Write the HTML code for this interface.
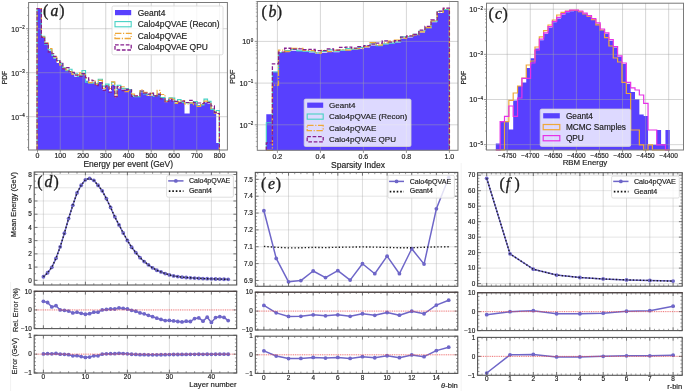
<!DOCTYPE html>
<html><head><meta charset="utf-8"><title>Calo4pQVAE figure</title>
<style>
html,body{margin:0;padding:0;background:#fff;}
body{width:685px;height:391px;overflow:hidden;}
svg{display:block;font-family:"Liberation Sans", sans-serif;will-change:transform;}
</style></head>
<body>
<svg width="685" height="391" viewBox="0 0 685 391">
<rect x="0" y="0" width="685" height="391" fill="#ffffff"/>
<line x1="10.6" y1="282" x2="10.6" y2="391" stroke="#eeeeee" stroke-width="0.8"/>
<line x1="461.2" y1="163" x2="461.2" y2="391" stroke="#f0f0f0" stroke-width="0.8"/>
<polygon points="37.1,150 37.1,8.5 41.4,8.5 41.4,37.1 44.7,37.1 44.7,43 48.3,43 48.3,51 51.9,51 51.9,56 53.6,56 53.6,58.4 56.7,58.4 56.7,63 59.8,63 59.8,64.5 62.8,64.5 62.8,68.3 65.9,68.3 65.9,70.2 69,70.2 69,72.2 72,72.2 72,74.5 74.3,74.5 74.3,76.8 77.4,76.8 77.4,76 79.7,76 79.7,75.2 82,75.2 82,73.7 85.5,73.7 85.5,80.8 88.6,80.8 88.6,81.9 92.2,81.9 92.2,83.2 95.2,83.2 95.2,84.2 98.3,84.2 98.3,81.9 102.4,81.9 102.4,89.5 105.5,89.5 105.5,85 109,85 109,91.6 111.6,91.6 111.6,84.8 114.7,84.8 114.7,95.7 117.2,95.7 117.2,88.5 120.8,88.5 120.8,89.5 124.9,89.5 124.9,90 128.5,90 128.5,89 131.5,89 131.5,96.7 134.5,96.7 134.5,96.9 140,96.9 140,92.3 143.5,92.3 143.5,94 147,94 147,95.7 150.3,95.7 150.3,95.7 153.5,95.7 153.5,95.1 157.1,95.1 157.1,93.4 160.4,93.4 160.4,96.9 165,96.9 165,100.9 169,100.9 169,99.7 172,99.7 172,100.5 174.7,100.5 174.7,103.8 177.6,103.8 177.6,102.6 181,102.6 181,102 184.5,102 184.5,113.5 189.7,113.5 189.7,102.6 193.5,102.6 193.5,103.2 197.2,103.2 197.2,104.9 200.6,104.9 200.6,104.3 204,104.3 204,102.6 207.5,102.6 207.5,103.8 211,103.8 211,108.4 214.4,108.4 214.4,113 216.2,113 216.2,143 219.4,143 219.4,150" fill="#5840fe"/>
<line x1="37.5" y1="2.5" x2="37.5" y2="150" stroke="#a4a4a4" stroke-width="0.9" stroke-opacity="0.5"/>
<line x1="60.25" y1="2.5" x2="60.25" y2="150" stroke="#a4a4a4" stroke-width="0.9" stroke-opacity="0.5"/>
<line x1="83" y1="2.5" x2="83" y2="150" stroke="#a4a4a4" stroke-width="0.9" stroke-opacity="0.5"/>
<line x1="105.75" y1="2.5" x2="105.75" y2="150" stroke="#a4a4a4" stroke-width="0.9" stroke-opacity="0.5"/>
<line x1="128.5" y1="2.5" x2="128.5" y2="150" stroke="#a4a4a4" stroke-width="0.9" stroke-opacity="0.5"/>
<line x1="151.25" y1="2.5" x2="151.25" y2="150" stroke="#a4a4a4" stroke-width="0.9" stroke-opacity="0.5"/>
<line x1="174" y1="2.5" x2="174" y2="150" stroke="#a4a4a4" stroke-width="0.9" stroke-opacity="0.5"/>
<line x1="196.75" y1="2.5" x2="196.75" y2="150" stroke="#a4a4a4" stroke-width="0.9" stroke-opacity="0.5"/>
<line x1="219.5" y1="2.5" x2="219.5" y2="150" stroke="#a4a4a4" stroke-width="0.9" stroke-opacity="0.5"/>
<line x1="28.6" y1="28.7" x2="227.4" y2="28.7" stroke="#a4a4a4" stroke-width="0.9" stroke-opacity="0.5"/>
<line x1="28.6" y1="72.7" x2="227.4" y2="72.7" stroke="#a4a4a4" stroke-width="0.9" stroke-opacity="0.5"/>
<line x1="28.6" y1="116.7" x2="227.4" y2="116.7" stroke="#a4a4a4" stroke-width="0.9" stroke-opacity="0.5"/>
<polyline points="37.1,150 37.1,8.5 41.4,8.5 41.4,36.39 44.7,36.39 44.7,44.04 48.3,44.04 48.3,49.84 51.9,49.84 51.9,55.04 53.6,55.04 53.6,57.82 56.7,57.82 56.7,60.49 59.8,60.49 59.8,63.56 62.8,63.56 62.8,67.92 65.9,67.92 65.9,70.61 69,70.61 69,69.25 72,69.25 72,72.56 74.3,72.56 74.3,73.84 77.4,73.84 77.4,76.49 79.7,76.49 79.7,75.13 82,75.13 82,70.5 85.5,70.5 85.5,82.11 88.6,82.11 88.6,83.13 92.2,83.13 92.2,82.94 95.2,82.94 95.2,83.75 98.3,83.75 98.3,79.26 102.4,79.26 102.4,86.17 105.5,86.17 105.5,84.14 109,84.14 109,88.49 111.6,88.49 111.6,82.31 114.7,82.31 114.7,93.46 117.2,93.46 117.2,85.24 120.8,85.24 120.8,88.33 124.9,88.33 124.9,88.71 128.5,88.71 128.5,89.64 131.5,89.64 131.5,95.79 134.5,95.79 134.5,96.57 140,96.57 140,91.3 143.5,91.3 143.5,93.78 147,93.78 147,94.5 150.3,94.5 150.3,93.64 153.5,93.64 153.5,96.49 157.1,96.49 157.1,94.78 160.4,94.78 160.4,97.53 165,97.53 165,100.9 169,100.9 169,97.81 172,97.81 172,98.2 174.7,98.2 174.7,101.79 177.6,101.79 177.6,99.54 181,99.54 181,102.28 184.5,102.28 184.5,103 189.7,103 189.7,103.26 193.5,103.26 193.5,101.66 197.2,101.66 197.2,106.1 200.6,106.1 200.6,104.97 204,104.97 204,99.2 207.5,99.2 207.5,101.41 211,101.41 211,109.37 214.4,109.37 214.4,111.86 216.2,111.86 216.2,110.5 219.4,110.5 219.4,150" fill="none" stroke="#48d2c4" stroke-width="1.2" stroke-linejoin="miter"/>
<polyline points="37.1,150 37.1,8.5 41.4,8.5 41.4,37.06 44.7,37.06 44.7,43 48.3,43 48.3,48.48 51.9,48.48 51.9,52.85 53.6,52.85 53.6,57 56.7,57 56.7,61.12 59.8,61.12 59.8,65.19 62.8,65.19 62.8,68.41 65.9,68.41 65.9,69.89 69,69.89 69,71.68 72,71.68 72,74.47 74.3,74.47 74.3,74.3 77.4,74.3 77.4,74.91 79.7,74.91 79.7,72.78 82,72.78 82,74.85 85.5,74.85 85.5,77.88 88.6,77.88 88.6,82.63 92.2,82.63 92.2,80.36 95.2,80.36 95.2,84.3 98.3,84.3 98.3,80.32 102.4,80.32 102.4,88.24 105.5,88.24 105.5,85.84 109,85.84 109,88.49 111.6,88.49 111.6,81.89 114.7,81.89 114.7,96.89 117.2,96.89 117.2,87.74 120.8,87.74 120.8,86.74 124.9,86.74 124.9,91.54 128.5,91.54 128.5,90.34 131.5,90.34 131.5,94.04 134.5,94.04 134.5,95.73 140,95.73 140,89.75 143.5,89.75 143.5,92.3 147,92.3 147,95.48 150.3,95.48 150.3,93.28 153.5,93.28 153.5,95.24 157.1,95.24 157.1,90.45 160.4,90.45 160.4,94.52 165,94.52 165,101.62 169,101.62 169,98.42 172,98.42 172,99.31 174.7,99.31 174.7,103.46 177.6,103.46 177.6,101.69 181,101.69 181,100.65 184.5,100.65 184.5,104 189.7,104 189.7,102.89 193.5,102.89 193.5,104.64 197.2,104.64 197.2,106.39 200.6,106.39 200.6,104.29 204,104.29 204,101.11 207.5,101.11 207.5,102.34 211,102.34 211,108.51 214.4,108.51 214.4,113.03 216.2,113.03 216.2,112 219.4,112 219.4,150" fill="none" stroke="#eea83a" stroke-width="1.2" stroke-linejoin="miter" stroke-dasharray="6.4,1.6,1.2,1.6"/>
<polyline points="37.1,150 37.1,8.5 41.4,8.5 41.4,37.46 44.7,37.46 44.7,43.36 48.3,43.36 48.3,52.22 51.9,52.22 51.9,53.77 53.6,53.77 53.6,56.4 56.7,56.4 56.7,60.57 59.8,60.57 59.8,62.47 62.8,62.47 62.8,68.92 65.9,68.92 65.9,67.68 69,67.68 69,71.76 72,71.76 72,72.41 74.3,72.41 74.3,75.13 77.4,75.13 77.4,75.04 79.7,75.04 79.7,76.36 82,76.36 82,73.66 85.5,73.66 85.5,77.68 88.6,77.68 88.6,80.13 92.2,80.13 92.2,80.76 95.2,80.76 95.2,85.53 98.3,85.53 98.3,82.91 102.4,82.91 102.4,90.49 105.5,90.49 105.5,86.1 109,86.1 109,92.27 111.6,92.27 111.6,86.54 114.7,86.54 114.7,96.63 117.2,96.63 117.2,86.63 120.8,86.63 120.8,90.72 124.9,90.72 124.9,89.33 128.5,89.33 128.5,89.73 131.5,89.73 131.5,96.43 134.5,96.43 134.5,95.93 140,95.93 140,90.99 143.5,90.99 143.5,93.04 147,93.04 147,94.13 150.3,94.13 150.3,93.11 153.5,93.11 153.5,96.16 157.1,96.16 157.1,94.35 160.4,94.35 160.4,98.83 165,98.83 165,101.29 169,101.29 169,99.38 172,99.38 172,101.19 174.7,101.19 174.7,101.3 177.6,101.3 177.6,102.92 181,102.92 181,101.11 184.5,101.11 184.5,102.5 189.7,102.5 189.7,100.45 193.5,100.45 193.5,102.72 197.2,102.72 197.2,103.02 200.6,103.02 200.6,103.49 204,103.49 204,102.55 207.5,102.55 207.5,102.66 211,102.66 211,105.88 214.4,105.88 214.4,112.35 216.2,112.35 216.2,113.5 219.4,113.5 219.4,150" fill="none" stroke="#861f8e" stroke-width="1.2" stroke-linejoin="miter" stroke-dasharray="3.7,1.7"/>
<polygon points="266.3,150.3 266.3,114.2 272.4,114.2 272.4,71.8 278.51,71.8 278.51,53 284.61,53 284.61,51.5 290.71,51.5 290.71,50.8 296.81,50.8 296.81,51.1 302.92,51.1 302.92,51.5 309.02,51.5 309.02,52.5 315.12,52.5 315.12,53.5 321.23,53.5 321.23,52.7 327.33,52.7 327.33,51.7 333.43,51.7 333.43,52.3 339.54,52.3 339.54,50.8 345.64,50.8 345.64,50.3 351.74,50.3 351.74,49.5 357.85,49.5 357.85,48.8 363.95,48.8 363.95,47.5 370.05,47.5 370.05,45.5 376.15,45.5 376.15,45.5 382.26,45.5 382.26,44.2 388.36,44.2 388.36,43.2 394.46,43.2 394.46,42.5 400.57,42.5 400.57,38.6 406.67,38.6 406.67,37.6 412.77,37.6 412.77,35 418.88,35 418.88,32.5 424.98,32.5 424.98,27.6 431.08,27.6 431.08,22.2 437.18,22.2 437.18,13 443.29,13 443.29,9.7 449.39,9.7 449.39,150.3" fill="#5840fe"/>
<line x1="277.4" y1="1.5" x2="277.4" y2="150.3" stroke="#a4a4a4" stroke-width="0.9" stroke-opacity="0.5"/>
<line x1="320.4" y1="1.5" x2="320.4" y2="150.3" stroke="#a4a4a4" stroke-width="0.9" stroke-opacity="0.5"/>
<line x1="363.4" y1="1.5" x2="363.4" y2="150.3" stroke="#a4a4a4" stroke-width="0.9" stroke-opacity="0.5"/>
<line x1="406.4" y1="1.5" x2="406.4" y2="150.3" stroke="#a4a4a4" stroke-width="0.9" stroke-opacity="0.5"/>
<line x1="449.4" y1="1.5" x2="449.4" y2="150.3" stroke="#a4a4a4" stroke-width="0.9" stroke-opacity="0.5"/>
<line x1="257.3" y1="41.4" x2="458" y2="41.4" stroke="#a4a4a4" stroke-width="0.9" stroke-opacity="0.5"/>
<line x1="257.3" y1="83.1" x2="458" y2="83.1" stroke="#a4a4a4" stroke-width="0.9" stroke-opacity="0.5"/>
<line x1="257.3" y1="124.8" x2="458" y2="124.8" stroke="#a4a4a4" stroke-width="0.9" stroke-opacity="0.5"/>
<polyline points="266.3,150.3 266.3,122.7 272.4,122.7 272.4,72 278.51,72 278.51,52.47 284.61,52.47 284.61,50.66 290.71,50.66 290.71,49.43 296.81,49.43 296.81,50.89 302.92,50.89 302.92,51.32 309.02,51.32 309.02,51.72 315.12,51.72 315.12,52.71 321.23,52.71 321.23,51.37 327.33,51.37 327.33,49.91 333.43,49.91 333.43,51.24 339.54,51.24 339.54,50.17 345.64,50.17 345.64,48.64 351.74,48.64 351.74,49.29 357.85,49.29 357.85,47.46 363.95,47.46 363.95,46.17 370.05,46.17 370.05,43.78 376.15,43.78 376.15,45.7 382.26,45.7 382.26,43.88 388.36,43.88 388.36,43.15 394.46,43.15 394.46,41.93 400.57,41.93 400.57,36.87 406.67,36.87 406.67,36.46 412.77,36.46 412.77,34.2 418.88,34.2 418.88,30.93 424.98,30.93 424.98,27.7 431.08,27.7 431.08,21.14 437.18,21.14 437.18,11.51 443.29,11.51 443.29,9.54 449.39,9.54 449.39,150.3" fill="none" stroke="#48d2c4" stroke-width="1.1" stroke-linejoin="miter"/>
<polyline points="266.3,150.3 266.3,150.3 272.4,150.3 272.4,85.2 278.51,85.2 278.51,50.07 284.61,50.07 284.61,51.5 290.71,51.5 290.71,48.35 296.81,48.35 296.81,48.46 302.92,48.46 302.92,50.45 309.02,50.45 309.02,50.54 315.12,50.54 315.12,53.17 321.23,53.17 321.23,50.4 327.33,50.4 327.33,51.58 333.43,51.58 333.43,50.26 339.54,50.26 339.54,49.6 345.64,49.6 345.64,50.1 351.74,50.1 351.74,48.56 357.85,48.56 357.85,48.57 363.95,48.57 363.95,46.62 370.05,46.62 370.05,42.65 376.15,42.65 376.15,45.14 382.26,45.14 382.26,42.97 388.36,42.97 388.36,41.13 394.46,41.13 394.46,40.07 400.57,40.07 400.57,38.15 406.67,38.15 406.67,36.35 412.77,36.35 412.77,34.81 418.88,34.81 418.88,31.82 424.98,31.82 424.98,27.48 431.08,27.48 431.08,20.9 437.18,20.9 437.18,12.1 443.29,12.1 443.29,8.54 449.39,8.54 449.39,150.3" fill="none" stroke="#eea83a" stroke-width="1.3" stroke-linejoin="miter" stroke-dasharray="6.4,1.6,1.2,1.6"/>
<polyline points="266.3,150.3 266.3,142.9 272.4,142.9 272.4,63.8 278.51,63.8 278.51,52.18 284.61,52.18 284.61,48.25 290.71,48.25 290.71,49.08 296.81,49.08 296.81,48.87 302.92,48.87 302.92,49.59 309.02,49.59 309.02,49.39 315.12,49.39 315.12,50.58 321.23,50.58 321.23,50.53 327.33,50.53 327.33,48.86 333.43,48.86 333.43,50.17 339.54,50.17 339.54,47.37 345.64,47.37 345.64,47.06 351.74,47.06 351.74,48.13 357.85,48.13 357.85,46.56 363.95,46.56 363.95,45.54 370.05,45.54 370.05,44.2 376.15,44.2 376.15,43.08 382.26,43.08 382.26,40.87 388.36,40.87 388.36,42.05 394.46,42.05 394.46,40.77 400.57,40.77 400.57,37.07 406.67,37.07 406.67,35.96 412.77,35.96 412.77,34.41 418.88,34.41 418.88,30.09 424.98,30.09 424.98,26.38 431.08,26.38 431.08,19.81 437.18,19.81 437.18,11.22 443.29,11.22 443.29,8.18 449.39,8.18 449.39,150.3" fill="none" stroke="#861f8e" stroke-width="1.3" stroke-linejoin="miter" stroke-dasharray="3.7,1.7"/>
<polygon points="495.8,150 495.8,143.5 500.15,143.5 500.15,121.5 504.5,121.5 504.5,121.5 508.85,121.5 508.85,129.5 513.2,129.5 513.2,100.4 517.55,100.4 517.55,86 521.9,86 521.9,82.5 526.25,82.5 526.25,68 530.6,68 530.6,58.3 534.95,58.3 534.95,48.4 539.3,48.4 539.3,40.2 543.65,40.2 543.65,33.8 548,33.8 548,27.6 552.35,27.6 552.35,22.3 556.7,22.3 556.7,18.4 561.05,18.4 561.05,14.6 565.4,14.6 565.4,12.3 569.75,12.3 569.75,11.2 574.1,11.2 574.1,11.1 578.45,11.1 578.45,12 582.8,12 582.8,14.1 587.15,14.1 587.15,16.6 591.5,16.6 591.5,19.7 595.85,19.7 595.85,23.8 600.2,23.8 600.2,30 604.55,30 604.55,33.8 608.9,33.8 608.9,40.7 613.25,40.7 613.25,47.6 617.6,47.6 617.6,56.8 621.95,56.8 621.95,64 626.3,64 626.3,83.7 630.65,83.7 630.65,92 635,92 635,99.2 639.35,99.2 639.35,114.6 643.7,114.6 643.7,116 648.05,116 648.05,144.8 652.4,144.8 652.4,144.8 656.75,144.8 656.75,130 661.1,130 661.1,144 665.45,144 665.45,130 669.8,130 669.8,150" fill="#5840fe"/>
<line x1="507.19" y1="3.2" x2="507.19" y2="150" stroke="#a4a4a4" stroke-width="0.9" stroke-opacity="0.5"/>
<line x1="530.26" y1="3.2" x2="530.26" y2="150" stroke="#a4a4a4" stroke-width="0.9" stroke-opacity="0.5"/>
<line x1="553.33" y1="3.2" x2="553.33" y2="150" stroke="#a4a4a4" stroke-width="0.9" stroke-opacity="0.5"/>
<line x1="576.4" y1="3.2" x2="576.4" y2="150" stroke="#a4a4a4" stroke-width="0.9" stroke-opacity="0.5"/>
<line x1="599.47" y1="3.2" x2="599.47" y2="150" stroke="#a4a4a4" stroke-width="0.9" stroke-opacity="0.5"/>
<line x1="622.54" y1="3.2" x2="622.54" y2="150" stroke="#a4a4a4" stroke-width="0.9" stroke-opacity="0.5"/>
<line x1="645.61" y1="3.2" x2="645.61" y2="150" stroke="#a4a4a4" stroke-width="0.9" stroke-opacity="0.5"/>
<line x1="668.68" y1="3.2" x2="668.68" y2="150" stroke="#a4a4a4" stroke-width="0.9" stroke-opacity="0.5"/>
<line x1="486.5" y1="9.2" x2="683.5" y2="9.2" stroke="#a4a4a4" stroke-width="0.9" stroke-opacity="0.5"/>
<line x1="486.5" y1="54.35" x2="683.5" y2="54.35" stroke="#a4a4a4" stroke-width="0.9" stroke-opacity="0.5"/>
<line x1="486.5" y1="99.5" x2="683.5" y2="99.5" stroke="#a4a4a4" stroke-width="0.9" stroke-opacity="0.5"/>
<line x1="486.5" y1="144.65" x2="683.5" y2="144.65" stroke="#a4a4a4" stroke-width="0.9" stroke-opacity="0.5"/>
<polyline points="495.8,150 495.8,150 500.15,150 500.15,150 504.5,150 504.5,121.7 508.85,121.7 508.85,100.3 513.2,100.3 513.2,93 517.55,93 517.55,86 521.9,86 521.9,78 526.25,78 526.25,65 530.6,65 530.6,61 534.95,61 534.95,47 539.3,47 539.3,36.9 543.65,36.9 543.65,30.7 548,30.7 548,25 552.35,25 552.35,20 556.7,20 556.7,15 561.05,15 561.05,12.3 565.4,12.3 565.4,11 569.75,11 569.75,10.4 574.1,10.4 574.1,10.4 578.45,10.4 578.45,11.6 582.8,11.6 582.8,14 587.15,14 587.15,16.4 591.5,16.4 591.5,19.6 595.85,19.6 595.85,24.8 600.2,24.8 600.2,30 604.55,30 604.55,37.6 608.9,37.6 608.9,46 613.25,46 613.25,58 617.6,58 617.6,62 621.95,62 621.95,82.3 626.3,82.3 626.3,93.5 630.65,93.5 630.65,130 635,130 635,130 639.35,130 639.35,144.8 643.7,144.8 643.7,150 648.05,150 648.05,144.8 652.4,144.8 652.4,150 656.75,150 656.75,150 661.1,150 661.1,150 665.45,150 665.45,150 669.8,150 669.8,150" fill="none" stroke="#eea83a" stroke-width="1.2" stroke-linejoin="miter"/>
<polyline points="495.8,150 495.8,150 500.15,150 500.15,121.7 504.5,121.7 504.5,116.4 508.85,116.4 508.85,106 513.2,106 513.2,116.4 517.55,116.4 517.55,98 521.9,98 521.9,78.4 526.25,78.4 526.25,78.4 530.6,78.4 530.6,63 534.95,63 534.95,50 539.3,50 539.3,39.2 543.65,39.2 543.65,32.8 548,32.8 548,26.6 552.35,26.6 552.35,21.3 556.7,21.3 556.7,17.4 561.05,17.4 561.05,13.6 565.4,13.6 565.4,11.3 569.75,11.3 569.75,10.2 574.1,10.2 574.1,10.1 578.45,10.1 578.45,11 582.8,11 582.8,13.1 587.15,13.1 587.15,15.6 591.5,15.6 591.5,18.7 595.85,18.7 595.85,22.8 600.2,22.8 600.2,29 604.55,29 604.55,32.8 608.9,32.8 608.9,39.7 613.25,39.7 613.25,46.6 617.6,46.6 617.6,55.8 621.95,55.8 621.95,63 626.3,63 626.3,82.3 630.65,82.3 630.65,87.9 635,87.9 635,90 639.35,90 639.35,95 643.7,95 643.7,103.4 648.05,103.4 648.05,130 652.4,130 652.4,130 656.75,130 656.75,144.8 661.1,144.8 661.1,144.8 665.45,144.8 665.45,150 669.8,150 669.8,150" fill="none" stroke="#e632e6" stroke-width="1.2" stroke-linejoin="miter"/>
<rect x="28.6" y="2.5" width="198.8" height="147.5" fill="none" stroke="#7a7a7a" stroke-width="1.0"/>
<rect x="257.3" y="1.5" width="200.7" height="148.8" fill="none" stroke="#7a7a7a" stroke-width="1.0"/>
<rect x="486.5" y="3.2" width="197" height="146.8" fill="none" stroke="#7a7a7a" stroke-width="1.0"/>
<line x1="37.5" y1="150" x2="37.5" y2="152.6" stroke="#7a7a7a" stroke-width="0.8"/>
<text x="37.5" y="158.05" font-size="7" text-anchor="middle" fill="#1e1e1e" stroke="#1e1e1e" stroke-width="0.18">0</text>
<line x1="60.25" y1="150" x2="60.25" y2="152.6" stroke="#7a7a7a" stroke-width="0.8"/>
<text x="60.25" y="158.05" font-size="7" text-anchor="middle" fill="#1e1e1e" stroke="#1e1e1e" stroke-width="0.18">100</text>
<line x1="83" y1="150" x2="83" y2="152.6" stroke="#7a7a7a" stroke-width="0.8"/>
<text x="83" y="158.05" font-size="7" text-anchor="middle" fill="#1e1e1e" stroke="#1e1e1e" stroke-width="0.18">200</text>
<line x1="105.75" y1="150" x2="105.75" y2="152.6" stroke="#7a7a7a" stroke-width="0.8"/>
<text x="105.75" y="158.05" font-size="7" text-anchor="middle" fill="#1e1e1e" stroke="#1e1e1e" stroke-width="0.18">300</text>
<line x1="128.5" y1="150" x2="128.5" y2="152.6" stroke="#7a7a7a" stroke-width="0.8"/>
<text x="128.5" y="158.05" font-size="7" text-anchor="middle" fill="#1e1e1e" stroke="#1e1e1e" stroke-width="0.18">400</text>
<line x1="151.25" y1="150" x2="151.25" y2="152.6" stroke="#7a7a7a" stroke-width="0.8"/>
<text x="151.25" y="158.05" font-size="7" text-anchor="middle" fill="#1e1e1e" stroke="#1e1e1e" stroke-width="0.18">500</text>
<line x1="174" y1="150" x2="174" y2="152.6" stroke="#7a7a7a" stroke-width="0.8"/>
<text x="174" y="158.05" font-size="7" text-anchor="middle" fill="#1e1e1e" stroke="#1e1e1e" stroke-width="0.18">600</text>
<line x1="196.75" y1="150" x2="196.75" y2="152.6" stroke="#7a7a7a" stroke-width="0.8"/>
<text x="196.75" y="158.05" font-size="7" text-anchor="middle" fill="#1e1e1e" stroke="#1e1e1e" stroke-width="0.18">700</text>
<line x1="219.5" y1="150" x2="219.5" y2="152.6" stroke="#7a7a7a" stroke-width="0.8"/>
<text x="219.5" y="158.05" font-size="7" text-anchor="middle" fill="#1e1e1e" stroke="#1e1e1e" stroke-width="0.18">800</text>
<line x1="26" y1="28.7" x2="28.6" y2="28.7" stroke="#7a7a7a" stroke-width="0.8"/>
<text x="24.7" y="29.17" font-size="4.5" text-anchor="end" fill="#1e1e1e" stroke="#1e1e1e" stroke-width="0.18">−2</text>
<text x="18.97" y="31.62" font-size="7.2" text-anchor="end" fill="#1e1e1e" stroke="#1e1e1e" stroke-width="0.18" textLength="7.6" lengthAdjust="spacingAndGlyphs">10</text>
<line x1="26" y1="72.7" x2="28.6" y2="72.7" stroke="#7a7a7a" stroke-width="0.8"/>
<text x="24.7" y="73.18" font-size="4.5" text-anchor="end" fill="#1e1e1e" stroke="#1e1e1e" stroke-width="0.18">−3</text>
<text x="18.97" y="75.62" font-size="7.2" text-anchor="end" fill="#1e1e1e" stroke="#1e1e1e" stroke-width="0.18" textLength="7.6" lengthAdjust="spacingAndGlyphs">10</text>
<line x1="26" y1="116.7" x2="28.6" y2="116.7" stroke="#7a7a7a" stroke-width="0.8"/>
<text x="24.7" y="117.18" font-size="4.5" text-anchor="end" fill="#1e1e1e" stroke="#1e1e1e" stroke-width="0.18">−4</text>
<text x="18.97" y="119.62" font-size="7.2" text-anchor="end" fill="#1e1e1e" stroke="#1e1e1e" stroke-width="0.18" textLength="7.6" lengthAdjust="spacingAndGlyphs">10</text>
<line x1="27.1" y1="147.45" x2="28.6" y2="147.45" stroke="#7a7a7a" stroke-width="0.6"/>
<line x1="27.1" y1="139.71" x2="28.6" y2="139.71" stroke="#7a7a7a" stroke-width="0.6"/>
<line x1="27.1" y1="134.21" x2="28.6" y2="134.21" stroke="#7a7a7a" stroke-width="0.6"/>
<line x1="27.1" y1="129.95" x2="28.6" y2="129.95" stroke="#7a7a7a" stroke-width="0.6"/>
<line x1="27.1" y1="126.46" x2="28.6" y2="126.46" stroke="#7a7a7a" stroke-width="0.6"/>
<line x1="27.1" y1="123.52" x2="28.6" y2="123.52" stroke="#7a7a7a" stroke-width="0.6"/>
<line x1="27.1" y1="120.96" x2="28.6" y2="120.96" stroke="#7a7a7a" stroke-width="0.6"/>
<line x1="27.1" y1="118.71" x2="28.6" y2="118.71" stroke="#7a7a7a" stroke-width="0.6"/>
<line x1="27.1" y1="103.45" x2="28.6" y2="103.45" stroke="#7a7a7a" stroke-width="0.6"/>
<line x1="27.1" y1="95.71" x2="28.6" y2="95.71" stroke="#7a7a7a" stroke-width="0.6"/>
<line x1="27.1" y1="90.21" x2="28.6" y2="90.21" stroke="#7a7a7a" stroke-width="0.6"/>
<line x1="27.1" y1="85.95" x2="28.6" y2="85.95" stroke="#7a7a7a" stroke-width="0.6"/>
<line x1="27.1" y1="82.46" x2="28.6" y2="82.46" stroke="#7a7a7a" stroke-width="0.6"/>
<line x1="27.1" y1="79.52" x2="28.6" y2="79.52" stroke="#7a7a7a" stroke-width="0.6"/>
<line x1="27.1" y1="76.96" x2="28.6" y2="76.96" stroke="#7a7a7a" stroke-width="0.6"/>
<line x1="27.1" y1="74.71" x2="28.6" y2="74.71" stroke="#7a7a7a" stroke-width="0.6"/>
<line x1="27.1" y1="59.45" x2="28.6" y2="59.45" stroke="#7a7a7a" stroke-width="0.6"/>
<line x1="27.1" y1="51.71" x2="28.6" y2="51.71" stroke="#7a7a7a" stroke-width="0.6"/>
<line x1="27.1" y1="46.21" x2="28.6" y2="46.21" stroke="#7a7a7a" stroke-width="0.6"/>
<line x1="27.1" y1="41.95" x2="28.6" y2="41.95" stroke="#7a7a7a" stroke-width="0.6"/>
<line x1="27.1" y1="38.46" x2="28.6" y2="38.46" stroke="#7a7a7a" stroke-width="0.6"/>
<line x1="27.1" y1="35.52" x2="28.6" y2="35.52" stroke="#7a7a7a" stroke-width="0.6"/>
<line x1="27.1" y1="32.96" x2="28.6" y2="32.96" stroke="#7a7a7a" stroke-width="0.6"/>
<line x1="27.1" y1="30.71" x2="28.6" y2="30.71" stroke="#7a7a7a" stroke-width="0.6"/>
<line x1="27.1" y1="15.45" x2="28.6" y2="15.45" stroke="#7a7a7a" stroke-width="0.6"/>
<line x1="27.1" y1="7.71" x2="28.6" y2="7.71" stroke="#7a7a7a" stroke-width="0.6"/>
<text x="128.25" y="167.48" font-size="8.49" text-anchor="middle" fill="#1e1e1e" stroke="#1e1e1e" stroke-width="0.18">Energy per event (GeV)</text>
<text x="4.3" y="79.84" font-size="6.7" text-anchor="middle" fill="#1e1e1e" stroke="#1e1e1e" stroke-width="0.18" transform="rotate(-90 4.3 77.5)">PDF</text>
<line x1="277.4" y1="150.3" x2="277.4" y2="152.9" stroke="#7a7a7a" stroke-width="0.8"/>
<text x="277.4" y="158.95" font-size="7" text-anchor="middle" fill="#1e1e1e" stroke="#1e1e1e" stroke-width="0.18">0.2</text>
<line x1="320.4" y1="150.3" x2="320.4" y2="152.9" stroke="#7a7a7a" stroke-width="0.8"/>
<text x="320.4" y="158.95" font-size="7" text-anchor="middle" fill="#1e1e1e" stroke="#1e1e1e" stroke-width="0.18">0.4</text>
<line x1="363.4" y1="150.3" x2="363.4" y2="152.9" stroke="#7a7a7a" stroke-width="0.8"/>
<text x="363.4" y="158.95" font-size="7" text-anchor="middle" fill="#1e1e1e" stroke="#1e1e1e" stroke-width="0.18">0.6</text>
<line x1="406.4" y1="150.3" x2="406.4" y2="152.9" stroke="#7a7a7a" stroke-width="0.8"/>
<text x="406.4" y="158.95" font-size="7" text-anchor="middle" fill="#1e1e1e" stroke="#1e1e1e" stroke-width="0.18">0.8</text>
<line x1="449.4" y1="150.3" x2="449.4" y2="152.9" stroke="#7a7a7a" stroke-width="0.8"/>
<text x="449.4" y="158.95" font-size="7" text-anchor="middle" fill="#1e1e1e" stroke="#1e1e1e" stroke-width="0.18">1.0</text>
<line x1="254.7" y1="41.4" x2="257.3" y2="41.4" stroke="#7a7a7a" stroke-width="0.8"/>
<text x="253.3" y="41.68" font-size="4.5" text-anchor="end" fill="#1e1e1e" stroke="#1e1e1e" stroke-width="0.18">0</text>
<text x="250.2" y="44.12" font-size="7.2" text-anchor="end" fill="#1e1e1e" stroke="#1e1e1e" stroke-width="0.18">10</text>
<line x1="254.7" y1="83.1" x2="257.3" y2="83.1" stroke="#7a7a7a" stroke-width="0.8"/>
<text x="253.3" y="83.38" font-size="4.5" text-anchor="end" fill="#1e1e1e" stroke="#1e1e1e" stroke-width="0.18">−1</text>
<text x="247.57" y="85.82" font-size="7.2" text-anchor="end" fill="#1e1e1e" stroke="#1e1e1e" stroke-width="0.18">10</text>
<line x1="254.7" y1="124.8" x2="257.3" y2="124.8" stroke="#7a7a7a" stroke-width="0.8"/>
<text x="253.3" y="125.08" font-size="4.5" text-anchor="end" fill="#1e1e1e" stroke="#1e1e1e" stroke-width="0.18">−2</text>
<text x="247.57" y="127.52" font-size="7.2" text-anchor="end" fill="#1e1e1e" stroke="#1e1e1e" stroke-width="0.18">10</text>
<line x1="255.8" y1="146.6" x2="257.3" y2="146.6" stroke="#7a7a7a" stroke-width="0.6"/>
<line x1="255.8" y1="141.39" x2="257.3" y2="141.39" stroke="#7a7a7a" stroke-width="0.6"/>
<line x1="255.8" y1="137.35" x2="257.3" y2="137.35" stroke="#7a7a7a" stroke-width="0.6"/>
<line x1="255.8" y1="134.05" x2="257.3" y2="134.05" stroke="#7a7a7a" stroke-width="0.6"/>
<line x1="255.8" y1="131.26" x2="257.3" y2="131.26" stroke="#7a7a7a" stroke-width="0.6"/>
<line x1="255.8" y1="128.84" x2="257.3" y2="128.84" stroke="#7a7a7a" stroke-width="0.6"/>
<line x1="255.8" y1="126.71" x2="257.3" y2="126.71" stroke="#7a7a7a" stroke-width="0.6"/>
<line x1="255.8" y1="112.25" x2="257.3" y2="112.25" stroke="#7a7a7a" stroke-width="0.6"/>
<line x1="255.8" y1="104.9" x2="257.3" y2="104.9" stroke="#7a7a7a" stroke-width="0.6"/>
<line x1="255.8" y1="99.69" x2="257.3" y2="99.69" stroke="#7a7a7a" stroke-width="0.6"/>
<line x1="255.8" y1="95.65" x2="257.3" y2="95.65" stroke="#7a7a7a" stroke-width="0.6"/>
<line x1="255.8" y1="92.35" x2="257.3" y2="92.35" stroke="#7a7a7a" stroke-width="0.6"/>
<line x1="255.8" y1="89.56" x2="257.3" y2="89.56" stroke="#7a7a7a" stroke-width="0.6"/>
<line x1="255.8" y1="87.14" x2="257.3" y2="87.14" stroke="#7a7a7a" stroke-width="0.6"/>
<line x1="255.8" y1="85.01" x2="257.3" y2="85.01" stroke="#7a7a7a" stroke-width="0.6"/>
<line x1="255.8" y1="70.55" x2="257.3" y2="70.55" stroke="#7a7a7a" stroke-width="0.6"/>
<line x1="255.8" y1="63.2" x2="257.3" y2="63.2" stroke="#7a7a7a" stroke-width="0.6"/>
<line x1="255.8" y1="57.99" x2="257.3" y2="57.99" stroke="#7a7a7a" stroke-width="0.6"/>
<line x1="255.8" y1="53.95" x2="257.3" y2="53.95" stroke="#7a7a7a" stroke-width="0.6"/>
<line x1="255.8" y1="50.65" x2="257.3" y2="50.65" stroke="#7a7a7a" stroke-width="0.6"/>
<line x1="255.8" y1="47.86" x2="257.3" y2="47.86" stroke="#7a7a7a" stroke-width="0.6"/>
<line x1="255.8" y1="45.44" x2="257.3" y2="45.44" stroke="#7a7a7a" stroke-width="0.6"/>
<line x1="255.8" y1="43.31" x2="257.3" y2="43.31" stroke="#7a7a7a" stroke-width="0.6"/>
<line x1="255.8" y1="28.85" x2="257.3" y2="28.85" stroke="#7a7a7a" stroke-width="0.6"/>
<line x1="255.8" y1="21.5" x2="257.3" y2="21.5" stroke="#7a7a7a" stroke-width="0.6"/>
<line x1="255.8" y1="16.29" x2="257.3" y2="16.29" stroke="#7a7a7a" stroke-width="0.6"/>
<line x1="255.8" y1="12.25" x2="257.3" y2="12.25" stroke="#7a7a7a" stroke-width="0.6"/>
<line x1="255.8" y1="8.95" x2="257.3" y2="8.95" stroke="#7a7a7a" stroke-width="0.6"/>
<line x1="255.8" y1="6.16" x2="257.3" y2="6.16" stroke="#7a7a7a" stroke-width="0.6"/>
<line x1="255.8" y1="3.74" x2="257.3" y2="3.74" stroke="#7a7a7a" stroke-width="0.6"/>
<line x1="255.8" y1="1.61" x2="257.3" y2="1.61" stroke="#7a7a7a" stroke-width="0.6"/>
<text x="358" y="167.99" font-size="8.52" text-anchor="middle" fill="#1e1e1e" stroke="#1e1e1e" stroke-width="0.18">Sparsity Index</text>
<text x="233" y="79.18" font-size="7.1" text-anchor="middle" fill="#1e1e1e" stroke="#1e1e1e" stroke-width="0.18" transform="rotate(-90 233 76.7)">PDF</text>
<line x1="507.19" y1="150" x2="507.19" y2="152.6" stroke="#7a7a7a" stroke-width="0.8"/>
<text x="507.19" y="157.77" font-size="6.48" text-anchor="middle" fill="#1e1e1e" stroke="#1e1e1e" stroke-width="0.18">−4750</text>
<line x1="530.26" y1="150" x2="530.26" y2="152.6" stroke="#7a7a7a" stroke-width="0.8"/>
<text x="530.26" y="157.77" font-size="6.48" text-anchor="middle" fill="#1e1e1e" stroke="#1e1e1e" stroke-width="0.18">−4700</text>
<line x1="553.33" y1="150" x2="553.33" y2="152.6" stroke="#7a7a7a" stroke-width="0.8"/>
<text x="553.33" y="157.77" font-size="6.48" text-anchor="middle" fill="#1e1e1e" stroke="#1e1e1e" stroke-width="0.18">−4650</text>
<line x1="576.4" y1="150" x2="576.4" y2="152.6" stroke="#7a7a7a" stroke-width="0.8"/>
<text x="576.4" y="157.77" font-size="6.48" text-anchor="middle" fill="#1e1e1e" stroke="#1e1e1e" stroke-width="0.18">−4600</text>
<line x1="599.47" y1="150" x2="599.47" y2="152.6" stroke="#7a7a7a" stroke-width="0.8"/>
<text x="599.47" y="157.77" font-size="6.48" text-anchor="middle" fill="#1e1e1e" stroke="#1e1e1e" stroke-width="0.18">−4550</text>
<line x1="622.54" y1="150" x2="622.54" y2="152.6" stroke="#7a7a7a" stroke-width="0.8"/>
<text x="622.54" y="157.77" font-size="6.48" text-anchor="middle" fill="#1e1e1e" stroke="#1e1e1e" stroke-width="0.18">−4500</text>
<line x1="645.61" y1="150" x2="645.61" y2="152.6" stroke="#7a7a7a" stroke-width="0.8"/>
<text x="645.61" y="157.77" font-size="6.48" text-anchor="middle" fill="#1e1e1e" stroke="#1e1e1e" stroke-width="0.18">−4450</text>
<line x1="668.68" y1="150" x2="668.68" y2="152.6" stroke="#7a7a7a" stroke-width="0.8"/>
<text x="668.68" y="157.77" font-size="6.48" text-anchor="middle" fill="#1e1e1e" stroke="#1e1e1e" stroke-width="0.18">−4400</text>
<line x1="483.9" y1="9.2" x2="486.5" y2="9.2" stroke="#7a7a7a" stroke-width="0.8"/>
<text x="483" y="9.57" font-size="4.5" text-anchor="end" fill="#1e1e1e" stroke="#1e1e1e" stroke-width="0.18">−2</text>
<text x="477.27" y="12.02" font-size="7.2" text-anchor="end" fill="#1e1e1e" stroke="#1e1e1e" stroke-width="0.18">10</text>
<line x1="483.9" y1="54.35" x2="486.5" y2="54.35" stroke="#7a7a7a" stroke-width="0.8"/>
<text x="483" y="54.72" font-size="4.5" text-anchor="end" fill="#1e1e1e" stroke="#1e1e1e" stroke-width="0.18">−3</text>
<text x="477.27" y="57.17" font-size="7.2" text-anchor="end" fill="#1e1e1e" stroke="#1e1e1e" stroke-width="0.18">10</text>
<line x1="483.9" y1="99.5" x2="486.5" y2="99.5" stroke="#7a7a7a" stroke-width="0.8"/>
<text x="483" y="99.88" font-size="4.5" text-anchor="end" fill="#1e1e1e" stroke="#1e1e1e" stroke-width="0.18">−4</text>
<text x="477.27" y="102.32" font-size="7.2" text-anchor="end" fill="#1e1e1e" stroke="#1e1e1e" stroke-width="0.18">10</text>
<line x1="483.9" y1="144.65" x2="486.5" y2="144.65" stroke="#7a7a7a" stroke-width="0.8"/>
<text x="483" y="145.02" font-size="4.5" text-anchor="end" fill="#1e1e1e" stroke="#1e1e1e" stroke-width="0.18">−5</text>
<text x="477.27" y="147.47" font-size="7.2" text-anchor="end" fill="#1e1e1e" stroke="#1e1e1e" stroke-width="0.18">10</text>
<line x1="485" y1="149.03" x2="486.5" y2="149.03" stroke="#7a7a7a" stroke-width="0.6"/>
<line x1="485" y1="146.72" x2="486.5" y2="146.72" stroke="#7a7a7a" stroke-width="0.6"/>
<line x1="485" y1="131.06" x2="486.5" y2="131.06" stroke="#7a7a7a" stroke-width="0.6"/>
<line x1="485" y1="123.11" x2="486.5" y2="123.11" stroke="#7a7a7a" stroke-width="0.6"/>
<line x1="485" y1="117.47" x2="486.5" y2="117.47" stroke="#7a7a7a" stroke-width="0.6"/>
<line x1="485" y1="113.09" x2="486.5" y2="113.09" stroke="#7a7a7a" stroke-width="0.6"/>
<line x1="485" y1="109.52" x2="486.5" y2="109.52" stroke="#7a7a7a" stroke-width="0.6"/>
<line x1="485" y1="106.49" x2="486.5" y2="106.49" stroke="#7a7a7a" stroke-width="0.6"/>
<line x1="485" y1="103.88" x2="486.5" y2="103.88" stroke="#7a7a7a" stroke-width="0.6"/>
<line x1="485" y1="101.57" x2="486.5" y2="101.57" stroke="#7a7a7a" stroke-width="0.6"/>
<line x1="485" y1="85.91" x2="486.5" y2="85.91" stroke="#7a7a7a" stroke-width="0.6"/>
<line x1="485" y1="77.96" x2="486.5" y2="77.96" stroke="#7a7a7a" stroke-width="0.6"/>
<line x1="485" y1="72.32" x2="486.5" y2="72.32" stroke="#7a7a7a" stroke-width="0.6"/>
<line x1="485" y1="67.94" x2="486.5" y2="67.94" stroke="#7a7a7a" stroke-width="0.6"/>
<line x1="485" y1="64.37" x2="486.5" y2="64.37" stroke="#7a7a7a" stroke-width="0.6"/>
<line x1="485" y1="61.34" x2="486.5" y2="61.34" stroke="#7a7a7a" stroke-width="0.6"/>
<line x1="485" y1="58.73" x2="486.5" y2="58.73" stroke="#7a7a7a" stroke-width="0.6"/>
<line x1="485" y1="56.42" x2="486.5" y2="56.42" stroke="#7a7a7a" stroke-width="0.6"/>
<line x1="485" y1="40.76" x2="486.5" y2="40.76" stroke="#7a7a7a" stroke-width="0.6"/>
<line x1="485" y1="32.81" x2="486.5" y2="32.81" stroke="#7a7a7a" stroke-width="0.6"/>
<line x1="485" y1="27.17" x2="486.5" y2="27.17" stroke="#7a7a7a" stroke-width="0.6"/>
<line x1="485" y1="22.79" x2="486.5" y2="22.79" stroke="#7a7a7a" stroke-width="0.6"/>
<line x1="485" y1="19.22" x2="486.5" y2="19.22" stroke="#7a7a7a" stroke-width="0.6"/>
<line x1="485" y1="16.19" x2="486.5" y2="16.19" stroke="#7a7a7a" stroke-width="0.6"/>
<line x1="485" y1="13.58" x2="486.5" y2="13.58" stroke="#7a7a7a" stroke-width="0.6"/>
<line x1="485" y1="11.27" x2="486.5" y2="11.27" stroke="#7a7a7a" stroke-width="0.6"/>
<text x="585" y="164.97" font-size="7.89" text-anchor="middle" fill="#1e1e1e" stroke="#1e1e1e" stroke-width="0.18">RBM Energy</text>
<text x="463.4" y="80.01" font-size="6.9" text-anchor="middle" fill="#1e1e1e" stroke="#1e1e1e" stroke-width="0.18" transform="rotate(-90 463.4 77.6)">PDF</text>
<text x="43.09" y="15.7" font-size="15.8" font-family="'Liberation Serif', serif" fill="#1e1e1e" stroke="#1e1e1e" stroke-width="0.35">(</text>
<text x="50.44" y="15.7" font-size="15.8" font-family="'Liberation Serif', serif" fill="#1e1e1e" stroke="#1e1e1e" stroke-width="0.35" font-style="italic">a</text>
<text x="59.33" y="15.7" font-size="15.8" font-family="'Liberation Serif', serif" fill="#1e1e1e" stroke="#1e1e1e" stroke-width="0.35">)</text>
<text x="261.39" y="16.6" font-size="15.8" font-family="'Liberation Serif', serif" fill="#1e1e1e" stroke="#1e1e1e" stroke-width="0.35">(</text>
<text x="268.43" y="16.6" font-size="15.8" font-family="'Liberation Serif', serif" fill="#1e1e1e" stroke="#1e1e1e" stroke-width="0.35" font-style="italic">b</text>
<text x="276.73" y="16.6" font-size="15.8" font-family="'Liberation Serif', serif" fill="#1e1e1e" stroke="#1e1e1e" stroke-width="0.35">)</text>
<text x="488.39" y="19.1" font-size="15.8" font-family="'Liberation Serif', serif" fill="#1e1e1e" stroke="#1e1e1e" stroke-width="0.35">(</text>
<text x="494.88" y="19.1" font-size="15.8" font-family="'Liberation Serif', serif" fill="#1e1e1e" stroke="#1e1e1e" stroke-width="0.35" font-style="italic">c</text>
<text x="502.43" y="19.1" font-size="15.8" font-family="'Liberation Serif', serif" fill="#1e1e1e" stroke="#1e1e1e" stroke-width="0.35">)</text>
<rect x="112" y="6" width="111" height="48.8" rx="1.5" fill="#ffffff" fill-opacity="0.8" stroke="#d6d6d6" stroke-width="0.8"/>
<rect x="115" y="10" width="16.2" height="5.2" fill="#5840fe" stroke="none" stroke-width="1"/>
<text x="137.7" y="15.56" font-size="8.45" text-anchor="start" fill="#1e1e1e" stroke="#1e1e1e" stroke-width="0.18">Geant4</text>
<rect x="115" y="21.6" width="16.2" height="5.2" fill="none" stroke="#48d2c4" stroke-width="1.1"/>
<text x="137.7" y="27.16" font-size="8.45" text-anchor="start" fill="#1e1e1e" stroke="#1e1e1e" stroke-width="0.18">Calo4pQVAE (Recon)</text>
<rect x="115" y="33.3" width="16.2" height="5.2" fill="none" stroke="#eea83a" stroke-width="1.3" stroke-dasharray="6.4,1.6,1.2,1.6"/>
<text x="137.7" y="38.86" font-size="8.45" text-anchor="start" fill="#1e1e1e" stroke="#1e1e1e" stroke-width="0.18">Calo4pQVAE</text>
<rect x="115" y="44.8" width="16.2" height="5.2" fill="none" stroke="#861f8e" stroke-width="1.3" stroke-dasharray="3.7,1.7"/>
<text x="137.7" y="50.36" font-size="8.45" text-anchor="start" fill="#1e1e1e" stroke="#1e1e1e" stroke-width="0.18">Calo4pQVAE QPU</text>
<rect x="304.2" y="99.1" width="106.8" height="47.4" rx="1.5" fill="#ffffff" fill-opacity="0.8" stroke="#d6d6d6" stroke-width="0.8"/>
<rect x="307.2" y="102.6" width="16" height="5.2" fill="#5840fe" stroke="none" stroke-width="1"/>
<text x="329" y="108.02" font-size="8.05" text-anchor="start" fill="#1e1e1e" stroke="#1e1e1e" stroke-width="0.18">Geant4</text>
<rect x="307.2" y="114" width="16" height="5.2" fill="none" stroke="#48d2c4" stroke-width="1.1"/>
<text x="329" y="119.42" font-size="8.05" text-anchor="start" fill="#1e1e1e" stroke="#1e1e1e" stroke-width="0.18">Calo4pQVAE (Recon)</text>
<rect x="307.2" y="125.4" width="16" height="5.2" fill="none" stroke="#eea83a" stroke-width="1.3" stroke-dasharray="6.4,1.6,1.2,1.6"/>
<text x="329" y="130.82" font-size="8.05" text-anchor="start" fill="#1e1e1e" stroke="#1e1e1e" stroke-width="0.18">Calo4pQVAE</text>
<rect x="307.2" y="136.7" width="16" height="5.2" fill="none" stroke="#861f8e" stroke-width="1.3" stroke-dasharray="3.7,1.7"/>
<text x="329" y="142.12" font-size="8.05" text-anchor="start" fill="#1e1e1e" stroke="#1e1e1e" stroke-width="0.18">Calo4pQVAE QPU</text>
<rect x="540.2" y="109.1" width="90.5" height="37.3" rx="1.5" fill="#ffffff" fill-opacity="0.8" stroke="#d6d6d6" stroke-width="0.8"/>
<rect x="543.2" y="113.2" width="16.6" height="5.2" fill="#5840fe" stroke="none" stroke-width="1"/>
<text x="565.9" y="118.69" font-size="8.25" text-anchor="start" fill="#1e1e1e" stroke="#1e1e1e" stroke-width="0.18">Geant4</text>
<rect x="543.2" y="124.5" width="16.6" height="5.2" fill="none" stroke="#eea83a" stroke-width="1.2"/>
<text x="565.9" y="129.99" font-size="8.25" text-anchor="start" fill="#1e1e1e" stroke="#1e1e1e" stroke-width="0.18">MCMC Samples</text>
<rect x="543.2" y="135.6" width="16.6" height="5.2" fill="none" stroke="#e632e6" stroke-width="1.2"/>
<text x="565.9" y="141.09" font-size="8.25" text-anchor="start" fill="#1e1e1e" stroke="#1e1e1e" stroke-width="0.18">QPU</text>
<line x1="43.4" y1="172" x2="43.4" y2="285" stroke="#a4a4a4" stroke-width="0.9" stroke-opacity="0.42"/>
<line x1="85.4" y1="172" x2="85.4" y2="285" stroke="#a4a4a4" stroke-width="0.9" stroke-opacity="0.42"/>
<line x1="127.4" y1="172" x2="127.4" y2="285" stroke="#a4a4a4" stroke-width="0.9" stroke-opacity="0.42"/>
<line x1="169.4" y1="172" x2="169.4" y2="285" stroke="#a4a4a4" stroke-width="0.9" stroke-opacity="0.42"/>
<line x1="211.4" y1="172" x2="211.4" y2="285" stroke="#a4a4a4" stroke-width="0.9" stroke-opacity="0.42"/>
<line x1="34.2" y1="280.3" x2="236.7" y2="280.3" stroke="#a4a4a4" stroke-width="0.9" stroke-opacity="0.32"/>
<line x1="34.2" y1="267.08" x2="236.7" y2="267.08" stroke="#a4a4a4" stroke-width="0.9" stroke-opacity="0.32"/>
<line x1="34.2" y1="253.86" x2="236.7" y2="253.86" stroke="#a4a4a4" stroke-width="0.9" stroke-opacity="0.32"/>
<line x1="34.2" y1="240.64" x2="236.7" y2="240.64" stroke="#a4a4a4" stroke-width="0.9" stroke-opacity="0.32"/>
<line x1="34.2" y1="227.42" x2="236.7" y2="227.42" stroke="#a4a4a4" stroke-width="0.9" stroke-opacity="0.32"/>
<line x1="34.2" y1="214.2" x2="236.7" y2="214.2" stroke="#a4a4a4" stroke-width="0.9" stroke-opacity="0.32"/>
<line x1="34.2" y1="200.98" x2="236.7" y2="200.98" stroke="#a4a4a4" stroke-width="0.9" stroke-opacity="0.32"/>
<line x1="34.2" y1="187.76" x2="236.7" y2="187.76" stroke="#a4a4a4" stroke-width="0.9" stroke-opacity="0.32"/>
<line x1="34.2" y1="174.54" x2="236.7" y2="174.54" stroke="#a4a4a4" stroke-width="0.9" stroke-opacity="0.32"/>
<svg x="34.2" y="172" width="202.5" height="113" viewBox="34.2 172 202.5 113" overflow="hidden">
<polyline points="43.4,276.73 47.6,272.76 51.8,267.34 56,258.35 60.2,246.85 64.4,233.24 68.6,218.56 72.8,205.34 77,192.92 81.2,185.25 85.4,179.83 89.6,178.37 93.8,180.36 98,185.25 102.2,190.8 106.4,198.6 110.6,207.46 114.8,216.84 119,224.91 123.2,232.97 127.4,240.51 131.6,247.25 135.8,252.54 140,257.69 144.2,261.53 148.4,264.83 152.6,267.87 156.8,270.25 161,271.97 165.2,273.56 169.4,274.88 173.6,275.94 177.8,276.6 182,277.13 186.2,277.52 190.4,277.79 194.6,278.05 198.8,278.32 203,278.58 207.2,278.71 211.4,278.85 215.6,278.98 219.8,279.11 224,279.24 228.2,279.37" fill="none" stroke="#6e66c8" stroke-width="1.5" stroke-linejoin="round"/>
<circle cx="43.4" cy="276.73" r="1.9" fill="#6e66c8"/>
<circle cx="47.6" cy="272.76" r="1.9" fill="#6e66c8"/>
<circle cx="51.8" cy="267.34" r="1.9" fill="#6e66c8"/>
<circle cx="56" cy="258.35" r="1.9" fill="#6e66c8"/>
<circle cx="60.2" cy="246.85" r="1.9" fill="#6e66c8"/>
<circle cx="64.4" cy="233.24" r="1.9" fill="#6e66c8"/>
<circle cx="68.6" cy="218.56" r="1.9" fill="#6e66c8"/>
<circle cx="72.8" cy="205.34" r="1.9" fill="#6e66c8"/>
<circle cx="77" cy="192.92" r="1.9" fill="#6e66c8"/>
<circle cx="81.2" cy="185.25" r="1.9" fill="#6e66c8"/>
<circle cx="85.4" cy="179.83" r="1.9" fill="#6e66c8"/>
<circle cx="89.6" cy="178.37" r="1.9" fill="#6e66c8"/>
<circle cx="93.8" cy="180.36" r="1.9" fill="#6e66c8"/>
<circle cx="98" cy="185.25" r="1.9" fill="#6e66c8"/>
<circle cx="102.2" cy="190.8" r="1.9" fill="#6e66c8"/>
<circle cx="106.4" cy="198.6" r="1.9" fill="#6e66c8"/>
<circle cx="110.6" cy="207.46" r="1.9" fill="#6e66c8"/>
<circle cx="114.8" cy="216.84" r="1.9" fill="#6e66c8"/>
<circle cx="119" cy="224.91" r="1.9" fill="#6e66c8"/>
<circle cx="123.2" cy="232.97" r="1.9" fill="#6e66c8"/>
<circle cx="127.4" cy="240.51" r="1.9" fill="#6e66c8"/>
<circle cx="131.6" cy="247.25" r="1.9" fill="#6e66c8"/>
<circle cx="135.8" cy="252.54" r="1.9" fill="#6e66c8"/>
<circle cx="140" cy="257.69" r="1.9" fill="#6e66c8"/>
<circle cx="144.2" cy="261.53" r="1.9" fill="#6e66c8"/>
<circle cx="148.4" cy="264.83" r="1.9" fill="#6e66c8"/>
<circle cx="152.6" cy="267.87" r="1.9" fill="#6e66c8"/>
<circle cx="156.8" cy="270.25" r="1.9" fill="#6e66c8"/>
<circle cx="161" cy="271.97" r="1.9" fill="#6e66c8"/>
<circle cx="165.2" cy="273.56" r="1.9" fill="#6e66c8"/>
<circle cx="169.4" cy="274.88" r="1.9" fill="#6e66c8"/>
<circle cx="173.6" cy="275.94" r="1.9" fill="#6e66c8"/>
<circle cx="177.8" cy="276.6" r="1.9" fill="#6e66c8"/>
<circle cx="182" cy="277.13" r="1.9" fill="#6e66c8"/>
<circle cx="186.2" cy="277.52" r="1.9" fill="#6e66c8"/>
<circle cx="190.4" cy="277.79" r="1.9" fill="#6e66c8"/>
<circle cx="194.6" cy="278.05" r="1.9" fill="#6e66c8"/>
<circle cx="198.8" cy="278.32" r="1.9" fill="#6e66c8"/>
<circle cx="203" cy="278.58" r="1.9" fill="#6e66c8"/>
<circle cx="207.2" cy="278.71" r="1.9" fill="#6e66c8"/>
<circle cx="211.4" cy="278.85" r="1.9" fill="#6e66c8"/>
<circle cx="215.6" cy="278.98" r="1.9" fill="#6e66c8"/>
<circle cx="219.8" cy="279.11" r="1.9" fill="#6e66c8"/>
<circle cx="224" cy="279.24" r="1.9" fill="#6e66c8"/>
<circle cx="228.2" cy="279.37" r="1.9" fill="#6e66c8"/>
<polyline points="43.4,276.73 47.6,272.76 51.8,267.34 56,258.35 60.2,246.85 64.4,233.24 68.6,218.56 72.8,205.34 77,192.92 81.2,185.25 85.4,179.83 89.6,178.37 93.8,180.36 98,185.25 102.2,190.8 106.4,198.6 110.6,207.46 114.8,216.84 119,224.91 123.2,232.97 127.4,240.51 131.6,247.25 135.8,252.54 140,257.69 144.2,261.53 148.4,264.83 152.6,267.87 156.8,270.25 161,271.97 165.2,273.56 169.4,274.88 173.6,275.94 177.8,276.6 182,277.13 186.2,277.52 190.4,277.79 194.6,278.05 198.8,278.32 203,278.58 207.2,278.71 211.4,278.85 215.6,278.98 219.8,279.11 224,279.24 228.2,279.37" fill="none" stroke="#1a1a1a" stroke-width="1.35" stroke-linejoin="round" stroke-dasharray="1.4,2.0"/>
</svg>
<line x1="43.4" y1="285" x2="43.4" y2="281.7" stroke="#555555" stroke-width="0.8"/>
<line x1="43.4" y1="172" x2="43.4" y2="175.3" stroke="#555555" stroke-width="0.8"/>
<line x1="85.4" y1="285" x2="85.4" y2="281.7" stroke="#555555" stroke-width="0.8"/>
<line x1="85.4" y1="172" x2="85.4" y2="175.3" stroke="#555555" stroke-width="0.8"/>
<line x1="127.4" y1="285" x2="127.4" y2="281.7" stroke="#555555" stroke-width="0.8"/>
<line x1="127.4" y1="172" x2="127.4" y2="175.3" stroke="#555555" stroke-width="0.8"/>
<line x1="169.4" y1="285" x2="169.4" y2="281.7" stroke="#555555" stroke-width="0.8"/>
<line x1="169.4" y1="172" x2="169.4" y2="175.3" stroke="#555555" stroke-width="0.8"/>
<line x1="211.4" y1="285" x2="211.4" y2="281.7" stroke="#555555" stroke-width="0.8"/>
<line x1="211.4" y1="172" x2="211.4" y2="175.3" stroke="#555555" stroke-width="0.8"/>
<line x1="35" y1="285" x2="35" y2="283.2" stroke="#555555" stroke-width="0.6"/>
<line x1="35" y1="172" x2="35" y2="173.8" stroke="#555555" stroke-width="0.6"/>
<line x1="51.8" y1="285" x2="51.8" y2="283.2" stroke="#555555" stroke-width="0.6"/>
<line x1="51.8" y1="172" x2="51.8" y2="173.8" stroke="#555555" stroke-width="0.6"/>
<line x1="60.2" y1="285" x2="60.2" y2="283.2" stroke="#555555" stroke-width="0.6"/>
<line x1="60.2" y1="172" x2="60.2" y2="173.8" stroke="#555555" stroke-width="0.6"/>
<line x1="68.6" y1="285" x2="68.6" y2="283.2" stroke="#555555" stroke-width="0.6"/>
<line x1="68.6" y1="172" x2="68.6" y2="173.8" stroke="#555555" stroke-width="0.6"/>
<line x1="77" y1="285" x2="77" y2="283.2" stroke="#555555" stroke-width="0.6"/>
<line x1="77" y1="172" x2="77" y2="173.8" stroke="#555555" stroke-width="0.6"/>
<line x1="93.8" y1="285" x2="93.8" y2="283.2" stroke="#555555" stroke-width="0.6"/>
<line x1="93.8" y1="172" x2="93.8" y2="173.8" stroke="#555555" stroke-width="0.6"/>
<line x1="102.2" y1="285" x2="102.2" y2="283.2" stroke="#555555" stroke-width="0.6"/>
<line x1="102.2" y1="172" x2="102.2" y2="173.8" stroke="#555555" stroke-width="0.6"/>
<line x1="110.6" y1="285" x2="110.6" y2="283.2" stroke="#555555" stroke-width="0.6"/>
<line x1="110.6" y1="172" x2="110.6" y2="173.8" stroke="#555555" stroke-width="0.6"/>
<line x1="119" y1="285" x2="119" y2="283.2" stroke="#555555" stroke-width="0.6"/>
<line x1="119" y1="172" x2="119" y2="173.8" stroke="#555555" stroke-width="0.6"/>
<line x1="135.8" y1="285" x2="135.8" y2="283.2" stroke="#555555" stroke-width="0.6"/>
<line x1="135.8" y1="172" x2="135.8" y2="173.8" stroke="#555555" stroke-width="0.6"/>
<line x1="144.2" y1="285" x2="144.2" y2="283.2" stroke="#555555" stroke-width="0.6"/>
<line x1="144.2" y1="172" x2="144.2" y2="173.8" stroke="#555555" stroke-width="0.6"/>
<line x1="152.6" y1="285" x2="152.6" y2="283.2" stroke="#555555" stroke-width="0.6"/>
<line x1="152.6" y1="172" x2="152.6" y2="173.8" stroke="#555555" stroke-width="0.6"/>
<line x1="161" y1="285" x2="161" y2="283.2" stroke="#555555" stroke-width="0.6"/>
<line x1="161" y1="172" x2="161" y2="173.8" stroke="#555555" stroke-width="0.6"/>
<line x1="177.8" y1="285" x2="177.8" y2="283.2" stroke="#555555" stroke-width="0.6"/>
<line x1="177.8" y1="172" x2="177.8" y2="173.8" stroke="#555555" stroke-width="0.6"/>
<line x1="186.2" y1="285" x2="186.2" y2="283.2" stroke="#555555" stroke-width="0.6"/>
<line x1="186.2" y1="172" x2="186.2" y2="173.8" stroke="#555555" stroke-width="0.6"/>
<line x1="194.6" y1="285" x2="194.6" y2="283.2" stroke="#555555" stroke-width="0.6"/>
<line x1="194.6" y1="172" x2="194.6" y2="173.8" stroke="#555555" stroke-width="0.6"/>
<line x1="203" y1="285" x2="203" y2="283.2" stroke="#555555" stroke-width="0.6"/>
<line x1="203" y1="172" x2="203" y2="173.8" stroke="#555555" stroke-width="0.6"/>
<line x1="219.8" y1="285" x2="219.8" y2="283.2" stroke="#555555" stroke-width="0.6"/>
<line x1="219.8" y1="172" x2="219.8" y2="173.8" stroke="#555555" stroke-width="0.6"/>
<line x1="228.2" y1="285" x2="228.2" y2="283.2" stroke="#555555" stroke-width="0.6"/>
<line x1="228.2" y1="172" x2="228.2" y2="173.8" stroke="#555555" stroke-width="0.6"/>
<line x1="236.6" y1="285" x2="236.6" y2="283.2" stroke="#555555" stroke-width="0.6"/>
<line x1="236.6" y1="172" x2="236.6" y2="173.8" stroke="#555555" stroke-width="0.6"/>
<line x1="34.2" y1="280.3" x2="37.5" y2="280.3" stroke="#555555" stroke-width="0.8"/>
<line x1="236.7" y1="280.3" x2="233.4" y2="280.3" stroke="#555555" stroke-width="0.8"/>
<line x1="34.2" y1="267.08" x2="37.5" y2="267.08" stroke="#555555" stroke-width="0.8"/>
<line x1="236.7" y1="267.08" x2="233.4" y2="267.08" stroke="#555555" stroke-width="0.8"/>
<line x1="34.2" y1="253.86" x2="37.5" y2="253.86" stroke="#555555" stroke-width="0.8"/>
<line x1="236.7" y1="253.86" x2="233.4" y2="253.86" stroke="#555555" stroke-width="0.8"/>
<line x1="34.2" y1="240.64" x2="37.5" y2="240.64" stroke="#555555" stroke-width="0.8"/>
<line x1="236.7" y1="240.64" x2="233.4" y2="240.64" stroke="#555555" stroke-width="0.8"/>
<line x1="34.2" y1="227.42" x2="37.5" y2="227.42" stroke="#555555" stroke-width="0.8"/>
<line x1="236.7" y1="227.42" x2="233.4" y2="227.42" stroke="#555555" stroke-width="0.8"/>
<line x1="34.2" y1="214.2" x2="37.5" y2="214.2" stroke="#555555" stroke-width="0.8"/>
<line x1="236.7" y1="214.2" x2="233.4" y2="214.2" stroke="#555555" stroke-width="0.8"/>
<line x1="34.2" y1="200.98" x2="37.5" y2="200.98" stroke="#555555" stroke-width="0.8"/>
<line x1="236.7" y1="200.98" x2="233.4" y2="200.98" stroke="#555555" stroke-width="0.8"/>
<line x1="34.2" y1="187.76" x2="37.5" y2="187.76" stroke="#555555" stroke-width="0.8"/>
<line x1="236.7" y1="187.76" x2="233.4" y2="187.76" stroke="#555555" stroke-width="0.8"/>
<line x1="34.2" y1="174.54" x2="37.5" y2="174.54" stroke="#555555" stroke-width="0.8"/>
<line x1="236.7" y1="174.54" x2="233.4" y2="174.54" stroke="#555555" stroke-width="0.8"/>
<line x1="34.2" y1="273.69" x2="36" y2="273.69" stroke="#555555" stroke-width="0.6"/>
<line x1="236.7" y1="273.69" x2="234.9" y2="273.69" stroke="#555555" stroke-width="0.6"/>
<line x1="34.2" y1="260.47" x2="36" y2="260.47" stroke="#555555" stroke-width="0.6"/>
<line x1="236.7" y1="260.47" x2="234.9" y2="260.47" stroke="#555555" stroke-width="0.6"/>
<line x1="34.2" y1="247.25" x2="36" y2="247.25" stroke="#555555" stroke-width="0.6"/>
<line x1="236.7" y1="247.25" x2="234.9" y2="247.25" stroke="#555555" stroke-width="0.6"/>
<line x1="34.2" y1="234.03" x2="36" y2="234.03" stroke="#555555" stroke-width="0.6"/>
<line x1="236.7" y1="234.03" x2="234.9" y2="234.03" stroke="#555555" stroke-width="0.6"/>
<line x1="34.2" y1="220.81" x2="36" y2="220.81" stroke="#555555" stroke-width="0.6"/>
<line x1="236.7" y1="220.81" x2="234.9" y2="220.81" stroke="#555555" stroke-width="0.6"/>
<line x1="34.2" y1="207.59" x2="36" y2="207.59" stroke="#555555" stroke-width="0.6"/>
<line x1="236.7" y1="207.59" x2="234.9" y2="207.59" stroke="#555555" stroke-width="0.6"/>
<line x1="34.2" y1="194.37" x2="36" y2="194.37" stroke="#555555" stroke-width="0.6"/>
<line x1="236.7" y1="194.37" x2="234.9" y2="194.37" stroke="#555555" stroke-width="0.6"/>
<line x1="34.2" y1="181.15" x2="36" y2="181.15" stroke="#555555" stroke-width="0.6"/>
<line x1="236.7" y1="181.15" x2="234.9" y2="181.15" stroke="#555555" stroke-width="0.6"/>
<rect x="34.2" y="172" width="202.5" height="113" fill="none" stroke="#555555" stroke-width="1.1"/>
<text x="31.8" y="282.54" font-size="6.4" text-anchor="end" fill="#1e1e1e" stroke="#1e1e1e" stroke-width="0.18">0</text>
<text x="31.8" y="269.32" font-size="6.4" text-anchor="end" fill="#1e1e1e" stroke="#1e1e1e" stroke-width="0.18">1</text>
<text x="31.8" y="256.1" font-size="6.4" text-anchor="end" fill="#1e1e1e" stroke="#1e1e1e" stroke-width="0.18">2</text>
<text x="31.8" y="242.88" font-size="6.4" text-anchor="end" fill="#1e1e1e" stroke="#1e1e1e" stroke-width="0.18">3</text>
<text x="31.8" y="229.66" font-size="6.4" text-anchor="end" fill="#1e1e1e" stroke="#1e1e1e" stroke-width="0.18">4</text>
<text x="31.8" y="216.44" font-size="6.4" text-anchor="end" fill="#1e1e1e" stroke="#1e1e1e" stroke-width="0.18">5</text>
<text x="31.8" y="203.22" font-size="6.4" text-anchor="end" fill="#1e1e1e" stroke="#1e1e1e" stroke-width="0.18">6</text>
<text x="31.8" y="190" font-size="6.4" text-anchor="end" fill="#1e1e1e" stroke="#1e1e1e" stroke-width="0.18">7</text>
<text x="31.8" y="176.78" font-size="6.4" text-anchor="end" fill="#1e1e1e" stroke="#1e1e1e" stroke-width="0.18">8</text>
<line x1="43.4" y1="291.3" x2="43.4" y2="328.6" stroke="#a4a4a4" stroke-width="0.9" stroke-opacity="0.42"/>
<line x1="85.4" y1="291.3" x2="85.4" y2="328.6" stroke="#a4a4a4" stroke-width="0.9" stroke-opacity="0.42"/>
<line x1="127.4" y1="291.3" x2="127.4" y2="328.6" stroke="#a4a4a4" stroke-width="0.9" stroke-opacity="0.42"/>
<line x1="169.4" y1="291.3" x2="169.4" y2="328.6" stroke="#a4a4a4" stroke-width="0.9" stroke-opacity="0.42"/>
<line x1="211.4" y1="291.3" x2="211.4" y2="328.6" stroke="#a4a4a4" stroke-width="0.9" stroke-opacity="0.42"/>
<polyline points="43.4,301.37 47.6,302.49 51.8,306.97 56,305.66 60.2,309.95 64.4,310.32 68.6,311.07 72.8,312.93 77,312.19 81.2,313.31 85.4,314.24 89.6,313.68 93.8,312.19 98,312.19 102.2,309.95 106.4,309.39 110.6,309.02 114.8,309.02 119,307.9 123.2,308.46 127.4,309.02 131.6,310.32 135.8,311.26 140,312.93 144.2,313.87 148.4,315.36 152.6,316.66 156.8,318.16 161,319.46 165.2,320.58 169.4,320.39 173.6,320.95 177.8,321.51 182,321.89 186.2,321.14 190.4,321.51 194.6,318.53 198.8,317.97 203,321.14 207.2,317.22 211.4,322.45 215.6,317.6 219.8,316.66 224,317.41 228.2,320.58" fill="none" stroke="#6e66c8" stroke-width="1.5" stroke-linejoin="round"/>
<circle cx="43.4" cy="301.37" r="1.9" fill="#6e66c8"/>
<circle cx="47.6" cy="302.49" r="1.9" fill="#6e66c8"/>
<circle cx="51.8" cy="306.97" r="1.9" fill="#6e66c8"/>
<circle cx="56" cy="305.66" r="1.9" fill="#6e66c8"/>
<circle cx="60.2" cy="309.95" r="1.9" fill="#6e66c8"/>
<circle cx="64.4" cy="310.32" r="1.9" fill="#6e66c8"/>
<circle cx="68.6" cy="311.07" r="1.9" fill="#6e66c8"/>
<circle cx="72.8" cy="312.93" r="1.9" fill="#6e66c8"/>
<circle cx="77" cy="312.19" r="1.9" fill="#6e66c8"/>
<circle cx="81.2" cy="313.31" r="1.9" fill="#6e66c8"/>
<circle cx="85.4" cy="314.24" r="1.9" fill="#6e66c8"/>
<circle cx="89.6" cy="313.68" r="1.9" fill="#6e66c8"/>
<circle cx="93.8" cy="312.19" r="1.9" fill="#6e66c8"/>
<circle cx="98" cy="312.19" r="1.9" fill="#6e66c8"/>
<circle cx="102.2" cy="309.95" r="1.9" fill="#6e66c8"/>
<circle cx="106.4" cy="309.39" r="1.9" fill="#6e66c8"/>
<circle cx="110.6" cy="309.02" r="1.9" fill="#6e66c8"/>
<circle cx="114.8" cy="309.02" r="1.9" fill="#6e66c8"/>
<circle cx="119" cy="307.9" r="1.9" fill="#6e66c8"/>
<circle cx="123.2" cy="308.46" r="1.9" fill="#6e66c8"/>
<circle cx="127.4" cy="309.02" r="1.9" fill="#6e66c8"/>
<circle cx="131.6" cy="310.32" r="1.9" fill="#6e66c8"/>
<circle cx="135.8" cy="311.26" r="1.9" fill="#6e66c8"/>
<circle cx="140" cy="312.93" r="1.9" fill="#6e66c8"/>
<circle cx="144.2" cy="313.87" r="1.9" fill="#6e66c8"/>
<circle cx="148.4" cy="315.36" r="1.9" fill="#6e66c8"/>
<circle cx="152.6" cy="316.66" r="1.9" fill="#6e66c8"/>
<circle cx="156.8" cy="318.16" r="1.9" fill="#6e66c8"/>
<circle cx="161" cy="319.46" r="1.9" fill="#6e66c8"/>
<circle cx="165.2" cy="320.58" r="1.9" fill="#6e66c8"/>
<circle cx="169.4" cy="320.39" r="1.9" fill="#6e66c8"/>
<circle cx="173.6" cy="320.95" r="1.9" fill="#6e66c8"/>
<circle cx="177.8" cy="321.51" r="1.9" fill="#6e66c8"/>
<circle cx="182" cy="321.89" r="1.9" fill="#6e66c8"/>
<circle cx="186.2" cy="321.14" r="1.9" fill="#6e66c8"/>
<circle cx="190.4" cy="321.51" r="1.9" fill="#6e66c8"/>
<circle cx="194.6" cy="318.53" r="1.9" fill="#6e66c8"/>
<circle cx="198.8" cy="317.97" r="1.9" fill="#6e66c8"/>
<circle cx="203" cy="321.14" r="1.9" fill="#6e66c8"/>
<circle cx="207.2" cy="317.22" r="1.9" fill="#6e66c8"/>
<circle cx="211.4" cy="322.45" r="1.9" fill="#6e66c8"/>
<circle cx="215.6" cy="317.6" r="1.9" fill="#6e66c8"/>
<circle cx="219.8" cy="316.66" r="1.9" fill="#6e66c8"/>
<circle cx="224" cy="317.41" r="1.9" fill="#6e66c8"/>
<circle cx="228.2" cy="320.58" r="1.9" fill="#6e66c8"/>
<line x1="34.2" y1="309.95" x2="236.7" y2="309.95" stroke="#e8474a" stroke-width="0.8" stroke-dasharray="1.0,0.8"/>
<line x1="43.4" y1="328.6" x2="43.4" y2="325.3" stroke="#555555" stroke-width="0.8"/>
<line x1="43.4" y1="291.3" x2="43.4" y2="294.6" stroke="#555555" stroke-width="0.8"/>
<line x1="85.4" y1="328.6" x2="85.4" y2="325.3" stroke="#555555" stroke-width="0.8"/>
<line x1="85.4" y1="291.3" x2="85.4" y2="294.6" stroke="#555555" stroke-width="0.8"/>
<line x1="127.4" y1="328.6" x2="127.4" y2="325.3" stroke="#555555" stroke-width="0.8"/>
<line x1="127.4" y1="291.3" x2="127.4" y2="294.6" stroke="#555555" stroke-width="0.8"/>
<line x1="169.4" y1="328.6" x2="169.4" y2="325.3" stroke="#555555" stroke-width="0.8"/>
<line x1="169.4" y1="291.3" x2="169.4" y2="294.6" stroke="#555555" stroke-width="0.8"/>
<line x1="211.4" y1="328.6" x2="211.4" y2="325.3" stroke="#555555" stroke-width="0.8"/>
<line x1="211.4" y1="291.3" x2="211.4" y2="294.6" stroke="#555555" stroke-width="0.8"/>
<line x1="35" y1="328.6" x2="35" y2="326.8" stroke="#555555" stroke-width="0.6"/>
<line x1="35" y1="291.3" x2="35" y2="293.1" stroke="#555555" stroke-width="0.6"/>
<line x1="51.8" y1="328.6" x2="51.8" y2="326.8" stroke="#555555" stroke-width="0.6"/>
<line x1="51.8" y1="291.3" x2="51.8" y2="293.1" stroke="#555555" stroke-width="0.6"/>
<line x1="60.2" y1="328.6" x2="60.2" y2="326.8" stroke="#555555" stroke-width="0.6"/>
<line x1="60.2" y1="291.3" x2="60.2" y2="293.1" stroke="#555555" stroke-width="0.6"/>
<line x1="68.6" y1="328.6" x2="68.6" y2="326.8" stroke="#555555" stroke-width="0.6"/>
<line x1="68.6" y1="291.3" x2="68.6" y2="293.1" stroke="#555555" stroke-width="0.6"/>
<line x1="77" y1="328.6" x2="77" y2="326.8" stroke="#555555" stroke-width="0.6"/>
<line x1="77" y1="291.3" x2="77" y2="293.1" stroke="#555555" stroke-width="0.6"/>
<line x1="93.8" y1="328.6" x2="93.8" y2="326.8" stroke="#555555" stroke-width="0.6"/>
<line x1="93.8" y1="291.3" x2="93.8" y2="293.1" stroke="#555555" stroke-width="0.6"/>
<line x1="102.2" y1="328.6" x2="102.2" y2="326.8" stroke="#555555" stroke-width="0.6"/>
<line x1="102.2" y1="291.3" x2="102.2" y2="293.1" stroke="#555555" stroke-width="0.6"/>
<line x1="110.6" y1="328.6" x2="110.6" y2="326.8" stroke="#555555" stroke-width="0.6"/>
<line x1="110.6" y1="291.3" x2="110.6" y2="293.1" stroke="#555555" stroke-width="0.6"/>
<line x1="119" y1="328.6" x2="119" y2="326.8" stroke="#555555" stroke-width="0.6"/>
<line x1="119" y1="291.3" x2="119" y2="293.1" stroke="#555555" stroke-width="0.6"/>
<line x1="135.8" y1="328.6" x2="135.8" y2="326.8" stroke="#555555" stroke-width="0.6"/>
<line x1="135.8" y1="291.3" x2="135.8" y2="293.1" stroke="#555555" stroke-width="0.6"/>
<line x1="144.2" y1="328.6" x2="144.2" y2="326.8" stroke="#555555" stroke-width="0.6"/>
<line x1="144.2" y1="291.3" x2="144.2" y2="293.1" stroke="#555555" stroke-width="0.6"/>
<line x1="152.6" y1="328.6" x2="152.6" y2="326.8" stroke="#555555" stroke-width="0.6"/>
<line x1="152.6" y1="291.3" x2="152.6" y2="293.1" stroke="#555555" stroke-width="0.6"/>
<line x1="161" y1="328.6" x2="161" y2="326.8" stroke="#555555" stroke-width="0.6"/>
<line x1="161" y1="291.3" x2="161" y2="293.1" stroke="#555555" stroke-width="0.6"/>
<line x1="177.8" y1="328.6" x2="177.8" y2="326.8" stroke="#555555" stroke-width="0.6"/>
<line x1="177.8" y1="291.3" x2="177.8" y2="293.1" stroke="#555555" stroke-width="0.6"/>
<line x1="186.2" y1="328.6" x2="186.2" y2="326.8" stroke="#555555" stroke-width="0.6"/>
<line x1="186.2" y1="291.3" x2="186.2" y2="293.1" stroke="#555555" stroke-width="0.6"/>
<line x1="194.6" y1="328.6" x2="194.6" y2="326.8" stroke="#555555" stroke-width="0.6"/>
<line x1="194.6" y1="291.3" x2="194.6" y2="293.1" stroke="#555555" stroke-width="0.6"/>
<line x1="203" y1="328.6" x2="203" y2="326.8" stroke="#555555" stroke-width="0.6"/>
<line x1="203" y1="291.3" x2="203" y2="293.1" stroke="#555555" stroke-width="0.6"/>
<line x1="219.8" y1="328.6" x2="219.8" y2="326.8" stroke="#555555" stroke-width="0.6"/>
<line x1="219.8" y1="291.3" x2="219.8" y2="293.1" stroke="#555555" stroke-width="0.6"/>
<line x1="228.2" y1="328.6" x2="228.2" y2="326.8" stroke="#555555" stroke-width="0.6"/>
<line x1="228.2" y1="291.3" x2="228.2" y2="293.1" stroke="#555555" stroke-width="0.6"/>
<line x1="236.6" y1="328.6" x2="236.6" y2="326.8" stroke="#555555" stroke-width="0.6"/>
<line x1="236.6" y1="291.3" x2="236.6" y2="293.1" stroke="#555555" stroke-width="0.6"/>
<line x1="34.2" y1="328.6" x2="37.5" y2="328.6" stroke="#555555" stroke-width="0.8"/>
<line x1="236.7" y1="328.6" x2="233.4" y2="328.6" stroke="#555555" stroke-width="0.8"/>
<line x1="34.2" y1="309.95" x2="37.5" y2="309.95" stroke="#555555" stroke-width="0.8"/>
<line x1="236.7" y1="309.95" x2="233.4" y2="309.95" stroke="#555555" stroke-width="0.8"/>
<line x1="34.2" y1="291.3" x2="37.5" y2="291.3" stroke="#555555" stroke-width="0.8"/>
<line x1="236.7" y1="291.3" x2="233.4" y2="291.3" stroke="#555555" stroke-width="0.8"/>
<line x1="34.2" y1="324.87" x2="36" y2="324.87" stroke="#555555" stroke-width="0.6"/>
<line x1="236.7" y1="324.87" x2="234.9" y2="324.87" stroke="#555555" stroke-width="0.6"/>
<line x1="34.2" y1="321.14" x2="36" y2="321.14" stroke="#555555" stroke-width="0.6"/>
<line x1="236.7" y1="321.14" x2="234.9" y2="321.14" stroke="#555555" stroke-width="0.6"/>
<line x1="34.2" y1="317.41" x2="36" y2="317.41" stroke="#555555" stroke-width="0.6"/>
<line x1="236.7" y1="317.41" x2="234.9" y2="317.41" stroke="#555555" stroke-width="0.6"/>
<line x1="34.2" y1="313.68" x2="36" y2="313.68" stroke="#555555" stroke-width="0.6"/>
<line x1="236.7" y1="313.68" x2="234.9" y2="313.68" stroke="#555555" stroke-width="0.6"/>
<line x1="34.2" y1="306.22" x2="36" y2="306.22" stroke="#555555" stroke-width="0.6"/>
<line x1="236.7" y1="306.22" x2="234.9" y2="306.22" stroke="#555555" stroke-width="0.6"/>
<line x1="34.2" y1="302.49" x2="36" y2="302.49" stroke="#555555" stroke-width="0.6"/>
<line x1="236.7" y1="302.49" x2="234.9" y2="302.49" stroke="#555555" stroke-width="0.6"/>
<line x1="34.2" y1="298.76" x2="36" y2="298.76" stroke="#555555" stroke-width="0.6"/>
<line x1="236.7" y1="298.76" x2="234.9" y2="298.76" stroke="#555555" stroke-width="0.6"/>
<line x1="34.2" y1="295.03" x2="36" y2="295.03" stroke="#555555" stroke-width="0.6"/>
<line x1="236.7" y1="295.03" x2="234.9" y2="295.03" stroke="#555555" stroke-width="0.6"/>
<rect x="34.2" y="291.3" width="202.5" height="37.3" fill="none" stroke="#555555" stroke-width="1.1"/>
<line x1="33.7" y1="291.3" x2="237.2" y2="291.3" stroke="#4a3c3c" stroke-width="1.1"/>
<text x="31.8" y="293.54" font-size="6.4" text-anchor="end" fill="#1e1e1e" stroke="#1e1e1e" stroke-width="0.18">10</text>
<text x="31.8" y="312.19" font-size="6.4" text-anchor="end" fill="#1e1e1e" stroke="#1e1e1e" stroke-width="0.18">0</text>
<text x="31.8" y="330.84" font-size="6.4" text-anchor="end" fill="#1e1e1e" stroke="#1e1e1e" stroke-width="0.18">−10</text>
<line x1="43.4" y1="335.3" x2="43.4" y2="373" stroke="#a4a4a4" stroke-width="0.9" stroke-opacity="0.42"/>
<line x1="85.4" y1="335.3" x2="85.4" y2="373" stroke="#a4a4a4" stroke-width="0.9" stroke-opacity="0.42"/>
<line x1="127.4" y1="335.3" x2="127.4" y2="373" stroke="#a4a4a4" stroke-width="0.9" stroke-opacity="0.42"/>
<line x1="169.4" y1="335.3" x2="169.4" y2="373" stroke="#a4a4a4" stroke-width="0.9" stroke-opacity="0.42"/>
<line x1="211.4" y1="335.3" x2="211.4" y2="373" stroke="#a4a4a4" stroke-width="0.9" stroke-opacity="0.42"/>
<polyline points="43.4,353.92 47.6,353.72 51.8,353.85 56,353.43 60.2,354.15 64.4,354.28 68.6,354.68 72.8,355.86 77,355.65 81.2,356.59 85.4,357.44 89.6,357.06 93.8,355.86 98,355.78 102.2,354.15 106.4,353.8 110.6,353.63 114.8,353.7 119,353.28 123.2,353.61 127.4,353.87 131.6,354.24 135.8,354.43 140,354.67 144.2,354.71 148.4,354.79 152.6,354.79 156.8,354.78 161,354.76 165.2,354.7 169.4,354.58 173.6,354.52 177.8,354.48 182,354.44 186.2,354.39 190.4,354.37 194.6,354.3 198.8,354.27 203,354.3 207.2,354.24 211.4,354.29 215.6,354.23 219.8,354.21 224,354.21 228.2,354.23" fill="none" stroke="#6e66c8" stroke-width="1.5" stroke-linejoin="round"/>
<circle cx="43.4" cy="353.92" r="1.9" fill="#6e66c8"/>
<circle cx="47.6" cy="353.72" r="1.9" fill="#6e66c8"/>
<circle cx="51.8" cy="353.85" r="1.9" fill="#6e66c8"/>
<circle cx="56" cy="353.43" r="1.9" fill="#6e66c8"/>
<circle cx="60.2" cy="354.15" r="1.9" fill="#6e66c8"/>
<circle cx="64.4" cy="354.28" r="1.9" fill="#6e66c8"/>
<circle cx="68.6" cy="354.68" r="1.9" fill="#6e66c8"/>
<circle cx="72.8" cy="355.86" r="1.9" fill="#6e66c8"/>
<circle cx="77" cy="355.65" r="1.9" fill="#6e66c8"/>
<circle cx="81.2" cy="356.59" r="1.9" fill="#6e66c8"/>
<circle cx="85.4" cy="357.44" r="1.9" fill="#6e66c8"/>
<circle cx="89.6" cy="357.06" r="1.9" fill="#6e66c8"/>
<circle cx="93.8" cy="355.86" r="1.9" fill="#6e66c8"/>
<circle cx="98" cy="355.78" r="1.9" fill="#6e66c8"/>
<circle cx="102.2" cy="354.15" r="1.9" fill="#6e66c8"/>
<circle cx="106.4" cy="353.8" r="1.9" fill="#6e66c8"/>
<circle cx="110.6" cy="353.63" r="1.9" fill="#6e66c8"/>
<circle cx="114.8" cy="353.7" r="1.9" fill="#6e66c8"/>
<circle cx="119" cy="353.28" r="1.9" fill="#6e66c8"/>
<circle cx="123.2" cy="353.61" r="1.9" fill="#6e66c8"/>
<circle cx="127.4" cy="353.87" r="1.9" fill="#6e66c8"/>
<circle cx="131.6" cy="354.24" r="1.9" fill="#6e66c8"/>
<circle cx="135.8" cy="354.43" r="1.9" fill="#6e66c8"/>
<circle cx="140" cy="354.67" r="1.9" fill="#6e66c8"/>
<circle cx="144.2" cy="354.71" r="1.9" fill="#6e66c8"/>
<circle cx="148.4" cy="354.79" r="1.9" fill="#6e66c8"/>
<circle cx="152.6" cy="354.79" r="1.9" fill="#6e66c8"/>
<circle cx="156.8" cy="354.78" r="1.9" fill="#6e66c8"/>
<circle cx="161" cy="354.76" r="1.9" fill="#6e66c8"/>
<circle cx="165.2" cy="354.7" r="1.9" fill="#6e66c8"/>
<circle cx="169.4" cy="354.58" r="1.9" fill="#6e66c8"/>
<circle cx="173.6" cy="354.52" r="1.9" fill="#6e66c8"/>
<circle cx="177.8" cy="354.48" r="1.9" fill="#6e66c8"/>
<circle cx="182" cy="354.44" r="1.9" fill="#6e66c8"/>
<circle cx="186.2" cy="354.39" r="1.9" fill="#6e66c8"/>
<circle cx="190.4" cy="354.37" r="1.9" fill="#6e66c8"/>
<circle cx="194.6" cy="354.3" r="1.9" fill="#6e66c8"/>
<circle cx="198.8" cy="354.27" r="1.9" fill="#6e66c8"/>
<circle cx="203" cy="354.3" r="1.9" fill="#6e66c8"/>
<circle cx="207.2" cy="354.24" r="1.9" fill="#6e66c8"/>
<circle cx="211.4" cy="354.29" r="1.9" fill="#6e66c8"/>
<circle cx="215.6" cy="354.23" r="1.9" fill="#6e66c8"/>
<circle cx="219.8" cy="354.21" r="1.9" fill="#6e66c8"/>
<circle cx="224" cy="354.21" r="1.9" fill="#6e66c8"/>
<circle cx="228.2" cy="354.23" r="1.9" fill="#6e66c8"/>
<line x1="34.2" y1="354.15" x2="236.7" y2="354.15" stroke="#e8474a" stroke-width="0.8" stroke-dasharray="1.0,0.8"/>
<line x1="43.4" y1="373" x2="43.4" y2="369.7" stroke="#555555" stroke-width="0.8"/>
<line x1="43.4" y1="335.3" x2="43.4" y2="338.6" stroke="#555555" stroke-width="0.8"/>
<line x1="85.4" y1="373" x2="85.4" y2="369.7" stroke="#555555" stroke-width="0.8"/>
<line x1="85.4" y1="335.3" x2="85.4" y2="338.6" stroke="#555555" stroke-width="0.8"/>
<line x1="127.4" y1="373" x2="127.4" y2="369.7" stroke="#555555" stroke-width="0.8"/>
<line x1="127.4" y1="335.3" x2="127.4" y2="338.6" stroke="#555555" stroke-width="0.8"/>
<line x1="169.4" y1="373" x2="169.4" y2="369.7" stroke="#555555" stroke-width="0.8"/>
<line x1="169.4" y1="335.3" x2="169.4" y2="338.6" stroke="#555555" stroke-width="0.8"/>
<line x1="211.4" y1="373" x2="211.4" y2="369.7" stroke="#555555" stroke-width="0.8"/>
<line x1="211.4" y1="335.3" x2="211.4" y2="338.6" stroke="#555555" stroke-width="0.8"/>
<line x1="35" y1="373" x2="35" y2="371.2" stroke="#555555" stroke-width="0.6"/>
<line x1="35" y1="335.3" x2="35" y2="337.1" stroke="#555555" stroke-width="0.6"/>
<line x1="51.8" y1="373" x2="51.8" y2="371.2" stroke="#555555" stroke-width="0.6"/>
<line x1="51.8" y1="335.3" x2="51.8" y2="337.1" stroke="#555555" stroke-width="0.6"/>
<line x1="60.2" y1="373" x2="60.2" y2="371.2" stroke="#555555" stroke-width="0.6"/>
<line x1="60.2" y1="335.3" x2="60.2" y2="337.1" stroke="#555555" stroke-width="0.6"/>
<line x1="68.6" y1="373" x2="68.6" y2="371.2" stroke="#555555" stroke-width="0.6"/>
<line x1="68.6" y1="335.3" x2="68.6" y2="337.1" stroke="#555555" stroke-width="0.6"/>
<line x1="77" y1="373" x2="77" y2="371.2" stroke="#555555" stroke-width="0.6"/>
<line x1="77" y1="335.3" x2="77" y2="337.1" stroke="#555555" stroke-width="0.6"/>
<line x1="93.8" y1="373" x2="93.8" y2="371.2" stroke="#555555" stroke-width="0.6"/>
<line x1="93.8" y1="335.3" x2="93.8" y2="337.1" stroke="#555555" stroke-width="0.6"/>
<line x1="102.2" y1="373" x2="102.2" y2="371.2" stroke="#555555" stroke-width="0.6"/>
<line x1="102.2" y1="335.3" x2="102.2" y2="337.1" stroke="#555555" stroke-width="0.6"/>
<line x1="110.6" y1="373" x2="110.6" y2="371.2" stroke="#555555" stroke-width="0.6"/>
<line x1="110.6" y1="335.3" x2="110.6" y2="337.1" stroke="#555555" stroke-width="0.6"/>
<line x1="119" y1="373" x2="119" y2="371.2" stroke="#555555" stroke-width="0.6"/>
<line x1="119" y1="335.3" x2="119" y2="337.1" stroke="#555555" stroke-width="0.6"/>
<line x1="135.8" y1="373" x2="135.8" y2="371.2" stroke="#555555" stroke-width="0.6"/>
<line x1="135.8" y1="335.3" x2="135.8" y2="337.1" stroke="#555555" stroke-width="0.6"/>
<line x1="144.2" y1="373" x2="144.2" y2="371.2" stroke="#555555" stroke-width="0.6"/>
<line x1="144.2" y1="335.3" x2="144.2" y2="337.1" stroke="#555555" stroke-width="0.6"/>
<line x1="152.6" y1="373" x2="152.6" y2="371.2" stroke="#555555" stroke-width="0.6"/>
<line x1="152.6" y1="335.3" x2="152.6" y2="337.1" stroke="#555555" stroke-width="0.6"/>
<line x1="161" y1="373" x2="161" y2="371.2" stroke="#555555" stroke-width="0.6"/>
<line x1="161" y1="335.3" x2="161" y2="337.1" stroke="#555555" stroke-width="0.6"/>
<line x1="177.8" y1="373" x2="177.8" y2="371.2" stroke="#555555" stroke-width="0.6"/>
<line x1="177.8" y1="335.3" x2="177.8" y2="337.1" stroke="#555555" stroke-width="0.6"/>
<line x1="186.2" y1="373" x2="186.2" y2="371.2" stroke="#555555" stroke-width="0.6"/>
<line x1="186.2" y1="335.3" x2="186.2" y2="337.1" stroke="#555555" stroke-width="0.6"/>
<line x1="194.6" y1="373" x2="194.6" y2="371.2" stroke="#555555" stroke-width="0.6"/>
<line x1="194.6" y1="335.3" x2="194.6" y2="337.1" stroke="#555555" stroke-width="0.6"/>
<line x1="203" y1="373" x2="203" y2="371.2" stroke="#555555" stroke-width="0.6"/>
<line x1="203" y1="335.3" x2="203" y2="337.1" stroke="#555555" stroke-width="0.6"/>
<line x1="219.8" y1="373" x2="219.8" y2="371.2" stroke="#555555" stroke-width="0.6"/>
<line x1="219.8" y1="335.3" x2="219.8" y2="337.1" stroke="#555555" stroke-width="0.6"/>
<line x1="228.2" y1="373" x2="228.2" y2="371.2" stroke="#555555" stroke-width="0.6"/>
<line x1="228.2" y1="335.3" x2="228.2" y2="337.1" stroke="#555555" stroke-width="0.6"/>
<line x1="236.6" y1="373" x2="236.6" y2="371.2" stroke="#555555" stroke-width="0.6"/>
<line x1="236.6" y1="335.3" x2="236.6" y2="337.1" stroke="#555555" stroke-width="0.6"/>
<line x1="34.2" y1="373" x2="37.5" y2="373" stroke="#555555" stroke-width="0.8"/>
<line x1="236.7" y1="373" x2="233.4" y2="373" stroke="#555555" stroke-width="0.8"/>
<line x1="34.2" y1="354.15" x2="37.5" y2="354.15" stroke="#555555" stroke-width="0.8"/>
<line x1="236.7" y1="354.15" x2="233.4" y2="354.15" stroke="#555555" stroke-width="0.8"/>
<line x1="34.2" y1="335.3" x2="37.5" y2="335.3" stroke="#555555" stroke-width="0.8"/>
<line x1="236.7" y1="335.3" x2="233.4" y2="335.3" stroke="#555555" stroke-width="0.8"/>
<line x1="34.2" y1="369.23" x2="36" y2="369.23" stroke="#555555" stroke-width="0.6"/>
<line x1="236.7" y1="369.23" x2="234.9" y2="369.23" stroke="#555555" stroke-width="0.6"/>
<line x1="34.2" y1="365.46" x2="36" y2="365.46" stroke="#555555" stroke-width="0.6"/>
<line x1="236.7" y1="365.46" x2="234.9" y2="365.46" stroke="#555555" stroke-width="0.6"/>
<line x1="34.2" y1="361.69" x2="36" y2="361.69" stroke="#555555" stroke-width="0.6"/>
<line x1="236.7" y1="361.69" x2="234.9" y2="361.69" stroke="#555555" stroke-width="0.6"/>
<line x1="34.2" y1="357.92" x2="36" y2="357.92" stroke="#555555" stroke-width="0.6"/>
<line x1="236.7" y1="357.92" x2="234.9" y2="357.92" stroke="#555555" stroke-width="0.6"/>
<line x1="34.2" y1="350.38" x2="36" y2="350.38" stroke="#555555" stroke-width="0.6"/>
<line x1="236.7" y1="350.38" x2="234.9" y2="350.38" stroke="#555555" stroke-width="0.6"/>
<line x1="34.2" y1="346.61" x2="36" y2="346.61" stroke="#555555" stroke-width="0.6"/>
<line x1="236.7" y1="346.61" x2="234.9" y2="346.61" stroke="#555555" stroke-width="0.6"/>
<line x1="34.2" y1="342.84" x2="36" y2="342.84" stroke="#555555" stroke-width="0.6"/>
<line x1="236.7" y1="342.84" x2="234.9" y2="342.84" stroke="#555555" stroke-width="0.6"/>
<line x1="34.2" y1="339.07" x2="36" y2="339.07" stroke="#555555" stroke-width="0.6"/>
<line x1="236.7" y1="339.07" x2="234.9" y2="339.07" stroke="#555555" stroke-width="0.6"/>
<rect x="34.2" y="335.3" width="202.5" height="37.7" fill="none" stroke="#555555" stroke-width="1.1"/>
<text x="31.8" y="337.54" font-size="6.4" text-anchor="end" fill="#1e1e1e" stroke="#1e1e1e" stroke-width="0.18">1</text>
<text x="31.8" y="356.39" font-size="6.4" text-anchor="end" fill="#1e1e1e" stroke="#1e1e1e" stroke-width="0.18">0</text>
<text x="31.8" y="375.24" font-size="6.4" text-anchor="end" fill="#1e1e1e" stroke="#1e1e1e" stroke-width="0.18">−1</text>
<text x="43.4" y="379.24" font-size="6.4" text-anchor="middle" fill="#1e1e1e" stroke="#1e1e1e" stroke-width="0.18">0</text>
<text x="85.4" y="379.24" font-size="6.4" text-anchor="middle" fill="#1e1e1e" stroke="#1e1e1e" stroke-width="0.18">10</text>
<text x="127.4" y="379.24" font-size="6.4" text-anchor="middle" fill="#1e1e1e" stroke="#1e1e1e" stroke-width="0.18">20</text>
<text x="169.4" y="379.24" font-size="6.4" text-anchor="middle" fill="#1e1e1e" stroke="#1e1e1e" stroke-width="0.18">30</text>
<text x="211.4" y="379.24" font-size="6.4" text-anchor="middle" fill="#1e1e1e" stroke="#1e1e1e" stroke-width="0.18">40</text>
<line x1="263.9" y1="172.4" x2="263.9" y2="286.3" stroke="#a4a4a4" stroke-width="0.9" stroke-opacity="0.42"/>
<line x1="288.54" y1="172.4" x2="288.54" y2="286.3" stroke="#a4a4a4" stroke-width="0.9" stroke-opacity="0.42"/>
<line x1="313.18" y1="172.4" x2="313.18" y2="286.3" stroke="#a4a4a4" stroke-width="0.9" stroke-opacity="0.42"/>
<line x1="337.82" y1="172.4" x2="337.82" y2="286.3" stroke="#a4a4a4" stroke-width="0.9" stroke-opacity="0.42"/>
<line x1="362.46" y1="172.4" x2="362.46" y2="286.3" stroke="#a4a4a4" stroke-width="0.9" stroke-opacity="0.42"/>
<line x1="387.1" y1="172.4" x2="387.1" y2="286.3" stroke="#a4a4a4" stroke-width="0.9" stroke-opacity="0.42"/>
<line x1="411.74" y1="172.4" x2="411.74" y2="286.3" stroke="#a4a4a4" stroke-width="0.9" stroke-opacity="0.42"/>
<line x1="436.38" y1="172.4" x2="436.38" y2="286.3" stroke="#a4a4a4" stroke-width="0.9" stroke-opacity="0.42"/>
<line x1="255.3" y1="280.45" x2="457.8" y2="280.45" stroke="#a4a4a4" stroke-width="0.9" stroke-opacity="0.32"/>
<line x1="255.3" y1="263.6" x2="457.8" y2="263.6" stroke="#a4a4a4" stroke-width="0.9" stroke-opacity="0.32"/>
<line x1="255.3" y1="246.75" x2="457.8" y2="246.75" stroke="#a4a4a4" stroke-width="0.9" stroke-opacity="0.32"/>
<line x1="255.3" y1="229.9" x2="457.8" y2="229.9" stroke="#a4a4a4" stroke-width="0.9" stroke-opacity="0.32"/>
<line x1="255.3" y1="213.05" x2="457.8" y2="213.05" stroke="#a4a4a4" stroke-width="0.9" stroke-opacity="0.32"/>
<line x1="255.3" y1="196.2" x2="457.8" y2="196.2" stroke="#a4a4a4" stroke-width="0.9" stroke-opacity="0.32"/>
<line x1="255.3" y1="179.35" x2="457.8" y2="179.35" stroke="#a4a4a4" stroke-width="0.9" stroke-opacity="0.32"/>
<svg x="255.3" y="172.4" width="202.5" height="113.9" viewBox="255.3 172.4 202.5 113.9" overflow="hidden">
<polyline points="263.9,210.69 276.22,258.38 288.54,281.8 300.86,280.62 313.18,271.01 325.5,277.59 337.82,270.68 350.14,280.11 362.46,263.77 374.78,273.71 387.1,256.19 399.42,273.71 411.74,248.77 424.06,264.11 436.38,208.84 448.7,177.67" fill="none" stroke="#6e66c8" stroke-width="1.5" stroke-linejoin="round"/>
<circle cx="263.9" cy="210.69" r="1.9" fill="#6e66c8"/>
<circle cx="276.22" cy="258.38" r="1.9" fill="#6e66c8"/>
<circle cx="288.54" cy="281.8" r="1.9" fill="#6e66c8"/>
<circle cx="300.86" cy="280.62" r="1.9" fill="#6e66c8"/>
<circle cx="313.18" cy="271.01" r="1.9" fill="#6e66c8"/>
<circle cx="325.5" cy="277.59" r="1.9" fill="#6e66c8"/>
<circle cx="337.82" cy="270.68" r="1.9" fill="#6e66c8"/>
<circle cx="350.14" cy="280.11" r="1.9" fill="#6e66c8"/>
<circle cx="362.46" cy="263.77" r="1.9" fill="#6e66c8"/>
<circle cx="374.78" cy="273.71" r="1.9" fill="#6e66c8"/>
<circle cx="387.1" cy="256.19" r="1.9" fill="#6e66c8"/>
<circle cx="399.42" cy="273.71" r="1.9" fill="#6e66c8"/>
<circle cx="411.74" cy="248.77" r="1.9" fill="#6e66c8"/>
<circle cx="424.06" cy="264.11" r="1.9" fill="#6e66c8"/>
<circle cx="436.38" cy="208.84" r="1.9" fill="#6e66c8"/>
<circle cx="448.7" cy="177.67" r="1.9" fill="#6e66c8"/>
<polyline points="263.9,246.41 276.22,247.26 288.54,247.93 300.86,247.76 313.18,247.42 325.5,247.59 337.82,247.26 350.14,247.09 362.46,246.92 374.78,247.09 387.1,247.42 399.42,247.76 411.74,247.76 424.06,247.26 436.38,246.92 448.7,246.75" fill="none" stroke="#1a1a1a" stroke-width="1.35" stroke-linejoin="round" stroke-dasharray="1.4,2.0"/>
</svg>
<line x1="263.9" y1="286.3" x2="263.9" y2="283" stroke="#555555" stroke-width="0.8"/>
<line x1="263.9" y1="172.4" x2="263.9" y2="175.7" stroke="#555555" stroke-width="0.8"/>
<line x1="288.54" y1="286.3" x2="288.54" y2="283" stroke="#555555" stroke-width="0.8"/>
<line x1="288.54" y1="172.4" x2="288.54" y2="175.7" stroke="#555555" stroke-width="0.8"/>
<line x1="313.18" y1="286.3" x2="313.18" y2="283" stroke="#555555" stroke-width="0.8"/>
<line x1="313.18" y1="172.4" x2="313.18" y2="175.7" stroke="#555555" stroke-width="0.8"/>
<line x1="337.82" y1="286.3" x2="337.82" y2="283" stroke="#555555" stroke-width="0.8"/>
<line x1="337.82" y1="172.4" x2="337.82" y2="175.7" stroke="#555555" stroke-width="0.8"/>
<line x1="362.46" y1="286.3" x2="362.46" y2="283" stroke="#555555" stroke-width="0.8"/>
<line x1="362.46" y1="172.4" x2="362.46" y2="175.7" stroke="#555555" stroke-width="0.8"/>
<line x1="387.1" y1="286.3" x2="387.1" y2="283" stroke="#555555" stroke-width="0.8"/>
<line x1="387.1" y1="172.4" x2="387.1" y2="175.7" stroke="#555555" stroke-width="0.8"/>
<line x1="411.74" y1="286.3" x2="411.74" y2="283" stroke="#555555" stroke-width="0.8"/>
<line x1="411.74" y1="172.4" x2="411.74" y2="175.7" stroke="#555555" stroke-width="0.8"/>
<line x1="436.38" y1="286.3" x2="436.38" y2="283" stroke="#555555" stroke-width="0.8"/>
<line x1="436.38" y1="172.4" x2="436.38" y2="175.7" stroke="#555555" stroke-width="0.8"/>
<line x1="257.74" y1="286.3" x2="257.74" y2="284.5" stroke="#555555" stroke-width="0.6"/>
<line x1="257.74" y1="172.4" x2="257.74" y2="174.2" stroke="#555555" stroke-width="0.6"/>
<line x1="270.06" y1="286.3" x2="270.06" y2="284.5" stroke="#555555" stroke-width="0.6"/>
<line x1="270.06" y1="172.4" x2="270.06" y2="174.2" stroke="#555555" stroke-width="0.6"/>
<line x1="276.22" y1="286.3" x2="276.22" y2="284.5" stroke="#555555" stroke-width="0.6"/>
<line x1="276.22" y1="172.4" x2="276.22" y2="174.2" stroke="#555555" stroke-width="0.6"/>
<line x1="282.38" y1="286.3" x2="282.38" y2="284.5" stroke="#555555" stroke-width="0.6"/>
<line x1="282.38" y1="172.4" x2="282.38" y2="174.2" stroke="#555555" stroke-width="0.6"/>
<line x1="294.7" y1="286.3" x2="294.7" y2="284.5" stroke="#555555" stroke-width="0.6"/>
<line x1="294.7" y1="172.4" x2="294.7" y2="174.2" stroke="#555555" stroke-width="0.6"/>
<line x1="300.86" y1="286.3" x2="300.86" y2="284.5" stroke="#555555" stroke-width="0.6"/>
<line x1="300.86" y1="172.4" x2="300.86" y2="174.2" stroke="#555555" stroke-width="0.6"/>
<line x1="307.02" y1="286.3" x2="307.02" y2="284.5" stroke="#555555" stroke-width="0.6"/>
<line x1="307.02" y1="172.4" x2="307.02" y2="174.2" stroke="#555555" stroke-width="0.6"/>
<line x1="319.34" y1="286.3" x2="319.34" y2="284.5" stroke="#555555" stroke-width="0.6"/>
<line x1="319.34" y1="172.4" x2="319.34" y2="174.2" stroke="#555555" stroke-width="0.6"/>
<line x1="325.5" y1="286.3" x2="325.5" y2="284.5" stroke="#555555" stroke-width="0.6"/>
<line x1="325.5" y1="172.4" x2="325.5" y2="174.2" stroke="#555555" stroke-width="0.6"/>
<line x1="331.66" y1="286.3" x2="331.66" y2="284.5" stroke="#555555" stroke-width="0.6"/>
<line x1="331.66" y1="172.4" x2="331.66" y2="174.2" stroke="#555555" stroke-width="0.6"/>
<line x1="343.98" y1="286.3" x2="343.98" y2="284.5" stroke="#555555" stroke-width="0.6"/>
<line x1="343.98" y1="172.4" x2="343.98" y2="174.2" stroke="#555555" stroke-width="0.6"/>
<line x1="350.14" y1="286.3" x2="350.14" y2="284.5" stroke="#555555" stroke-width="0.6"/>
<line x1="350.14" y1="172.4" x2="350.14" y2="174.2" stroke="#555555" stroke-width="0.6"/>
<line x1="356.3" y1="286.3" x2="356.3" y2="284.5" stroke="#555555" stroke-width="0.6"/>
<line x1="356.3" y1="172.4" x2="356.3" y2="174.2" stroke="#555555" stroke-width="0.6"/>
<line x1="368.62" y1="286.3" x2="368.62" y2="284.5" stroke="#555555" stroke-width="0.6"/>
<line x1="368.62" y1="172.4" x2="368.62" y2="174.2" stroke="#555555" stroke-width="0.6"/>
<line x1="374.78" y1="286.3" x2="374.78" y2="284.5" stroke="#555555" stroke-width="0.6"/>
<line x1="374.78" y1="172.4" x2="374.78" y2="174.2" stroke="#555555" stroke-width="0.6"/>
<line x1="380.94" y1="286.3" x2="380.94" y2="284.5" stroke="#555555" stroke-width="0.6"/>
<line x1="380.94" y1="172.4" x2="380.94" y2="174.2" stroke="#555555" stroke-width="0.6"/>
<line x1="393.26" y1="286.3" x2="393.26" y2="284.5" stroke="#555555" stroke-width="0.6"/>
<line x1="393.26" y1="172.4" x2="393.26" y2="174.2" stroke="#555555" stroke-width="0.6"/>
<line x1="399.42" y1="286.3" x2="399.42" y2="284.5" stroke="#555555" stroke-width="0.6"/>
<line x1="399.42" y1="172.4" x2="399.42" y2="174.2" stroke="#555555" stroke-width="0.6"/>
<line x1="405.58" y1="286.3" x2="405.58" y2="284.5" stroke="#555555" stroke-width="0.6"/>
<line x1="405.58" y1="172.4" x2="405.58" y2="174.2" stroke="#555555" stroke-width="0.6"/>
<line x1="417.9" y1="286.3" x2="417.9" y2="284.5" stroke="#555555" stroke-width="0.6"/>
<line x1="417.9" y1="172.4" x2="417.9" y2="174.2" stroke="#555555" stroke-width="0.6"/>
<line x1="424.06" y1="286.3" x2="424.06" y2="284.5" stroke="#555555" stroke-width="0.6"/>
<line x1="424.06" y1="172.4" x2="424.06" y2="174.2" stroke="#555555" stroke-width="0.6"/>
<line x1="430.22" y1="286.3" x2="430.22" y2="284.5" stroke="#555555" stroke-width="0.6"/>
<line x1="430.22" y1="172.4" x2="430.22" y2="174.2" stroke="#555555" stroke-width="0.6"/>
<line x1="442.54" y1="286.3" x2="442.54" y2="284.5" stroke="#555555" stroke-width="0.6"/>
<line x1="442.54" y1="172.4" x2="442.54" y2="174.2" stroke="#555555" stroke-width="0.6"/>
<line x1="448.7" y1="286.3" x2="448.7" y2="284.5" stroke="#555555" stroke-width="0.6"/>
<line x1="448.7" y1="172.4" x2="448.7" y2="174.2" stroke="#555555" stroke-width="0.6"/>
<line x1="454.86" y1="286.3" x2="454.86" y2="284.5" stroke="#555555" stroke-width="0.6"/>
<line x1="454.86" y1="172.4" x2="454.86" y2="174.2" stroke="#555555" stroke-width="0.6"/>
<line x1="255.3" y1="280.45" x2="258.6" y2="280.45" stroke="#555555" stroke-width="0.8"/>
<line x1="457.8" y1="280.45" x2="454.5" y2="280.45" stroke="#555555" stroke-width="0.8"/>
<line x1="255.3" y1="263.6" x2="258.6" y2="263.6" stroke="#555555" stroke-width="0.8"/>
<line x1="457.8" y1="263.6" x2="454.5" y2="263.6" stroke="#555555" stroke-width="0.8"/>
<line x1="255.3" y1="246.75" x2="258.6" y2="246.75" stroke="#555555" stroke-width="0.8"/>
<line x1="457.8" y1="246.75" x2="454.5" y2="246.75" stroke="#555555" stroke-width="0.8"/>
<line x1="255.3" y1="229.9" x2="258.6" y2="229.9" stroke="#555555" stroke-width="0.8"/>
<line x1="457.8" y1="229.9" x2="454.5" y2="229.9" stroke="#555555" stroke-width="0.8"/>
<line x1="255.3" y1="213.05" x2="258.6" y2="213.05" stroke="#555555" stroke-width="0.8"/>
<line x1="457.8" y1="213.05" x2="454.5" y2="213.05" stroke="#555555" stroke-width="0.8"/>
<line x1="255.3" y1="196.2" x2="258.6" y2="196.2" stroke="#555555" stroke-width="0.8"/>
<line x1="457.8" y1="196.2" x2="454.5" y2="196.2" stroke="#555555" stroke-width="0.8"/>
<line x1="255.3" y1="179.35" x2="258.6" y2="179.35" stroke="#555555" stroke-width="0.8"/>
<line x1="457.8" y1="179.35" x2="454.5" y2="179.35" stroke="#555555" stroke-width="0.8"/>
<line x1="255.3" y1="283.82" x2="257.1" y2="283.82" stroke="#555555" stroke-width="0.6"/>
<line x1="457.8" y1="283.82" x2="456" y2="283.82" stroke="#555555" stroke-width="0.6"/>
<line x1="255.3" y1="277.08" x2="257.1" y2="277.08" stroke="#555555" stroke-width="0.6"/>
<line x1="457.8" y1="277.08" x2="456" y2="277.08" stroke="#555555" stroke-width="0.6"/>
<line x1="255.3" y1="273.71" x2="257.1" y2="273.71" stroke="#555555" stroke-width="0.6"/>
<line x1="457.8" y1="273.71" x2="456" y2="273.71" stroke="#555555" stroke-width="0.6"/>
<line x1="255.3" y1="270.34" x2="257.1" y2="270.34" stroke="#555555" stroke-width="0.6"/>
<line x1="457.8" y1="270.34" x2="456" y2="270.34" stroke="#555555" stroke-width="0.6"/>
<line x1="255.3" y1="266.97" x2="257.1" y2="266.97" stroke="#555555" stroke-width="0.6"/>
<line x1="457.8" y1="266.97" x2="456" y2="266.97" stroke="#555555" stroke-width="0.6"/>
<line x1="255.3" y1="260.23" x2="257.1" y2="260.23" stroke="#555555" stroke-width="0.6"/>
<line x1="457.8" y1="260.23" x2="456" y2="260.23" stroke="#555555" stroke-width="0.6"/>
<line x1="255.3" y1="256.86" x2="257.1" y2="256.86" stroke="#555555" stroke-width="0.6"/>
<line x1="457.8" y1="256.86" x2="456" y2="256.86" stroke="#555555" stroke-width="0.6"/>
<line x1="255.3" y1="253.49" x2="257.1" y2="253.49" stroke="#555555" stroke-width="0.6"/>
<line x1="457.8" y1="253.49" x2="456" y2="253.49" stroke="#555555" stroke-width="0.6"/>
<line x1="255.3" y1="250.12" x2="257.1" y2="250.12" stroke="#555555" stroke-width="0.6"/>
<line x1="457.8" y1="250.12" x2="456" y2="250.12" stroke="#555555" stroke-width="0.6"/>
<line x1="255.3" y1="243.38" x2="257.1" y2="243.38" stroke="#555555" stroke-width="0.6"/>
<line x1="457.8" y1="243.38" x2="456" y2="243.38" stroke="#555555" stroke-width="0.6"/>
<line x1="255.3" y1="240.01" x2="257.1" y2="240.01" stroke="#555555" stroke-width="0.6"/>
<line x1="457.8" y1="240.01" x2="456" y2="240.01" stroke="#555555" stroke-width="0.6"/>
<line x1="255.3" y1="236.64" x2="257.1" y2="236.64" stroke="#555555" stroke-width="0.6"/>
<line x1="457.8" y1="236.64" x2="456" y2="236.64" stroke="#555555" stroke-width="0.6"/>
<line x1="255.3" y1="233.27" x2="257.1" y2="233.27" stroke="#555555" stroke-width="0.6"/>
<line x1="457.8" y1="233.27" x2="456" y2="233.27" stroke="#555555" stroke-width="0.6"/>
<line x1="255.3" y1="226.53" x2="257.1" y2="226.53" stroke="#555555" stroke-width="0.6"/>
<line x1="457.8" y1="226.53" x2="456" y2="226.53" stroke="#555555" stroke-width="0.6"/>
<line x1="255.3" y1="223.16" x2="257.1" y2="223.16" stroke="#555555" stroke-width="0.6"/>
<line x1="457.8" y1="223.16" x2="456" y2="223.16" stroke="#555555" stroke-width="0.6"/>
<line x1="255.3" y1="219.79" x2="257.1" y2="219.79" stroke="#555555" stroke-width="0.6"/>
<line x1="457.8" y1="219.79" x2="456" y2="219.79" stroke="#555555" stroke-width="0.6"/>
<line x1="255.3" y1="216.42" x2="257.1" y2="216.42" stroke="#555555" stroke-width="0.6"/>
<line x1="457.8" y1="216.42" x2="456" y2="216.42" stroke="#555555" stroke-width="0.6"/>
<line x1="255.3" y1="209.68" x2="257.1" y2="209.68" stroke="#555555" stroke-width="0.6"/>
<line x1="457.8" y1="209.68" x2="456" y2="209.68" stroke="#555555" stroke-width="0.6"/>
<line x1="255.3" y1="206.31" x2="257.1" y2="206.31" stroke="#555555" stroke-width="0.6"/>
<line x1="457.8" y1="206.31" x2="456" y2="206.31" stroke="#555555" stroke-width="0.6"/>
<line x1="255.3" y1="202.94" x2="257.1" y2="202.94" stroke="#555555" stroke-width="0.6"/>
<line x1="457.8" y1="202.94" x2="456" y2="202.94" stroke="#555555" stroke-width="0.6"/>
<line x1="255.3" y1="199.57" x2="257.1" y2="199.57" stroke="#555555" stroke-width="0.6"/>
<line x1="457.8" y1="199.57" x2="456" y2="199.57" stroke="#555555" stroke-width="0.6"/>
<line x1="255.3" y1="192.83" x2="257.1" y2="192.83" stroke="#555555" stroke-width="0.6"/>
<line x1="457.8" y1="192.83" x2="456" y2="192.83" stroke="#555555" stroke-width="0.6"/>
<line x1="255.3" y1="189.46" x2="257.1" y2="189.46" stroke="#555555" stroke-width="0.6"/>
<line x1="457.8" y1="189.46" x2="456" y2="189.46" stroke="#555555" stroke-width="0.6"/>
<line x1="255.3" y1="186.09" x2="257.1" y2="186.09" stroke="#555555" stroke-width="0.6"/>
<line x1="457.8" y1="186.09" x2="456" y2="186.09" stroke="#555555" stroke-width="0.6"/>
<line x1="255.3" y1="182.72" x2="257.1" y2="182.72" stroke="#555555" stroke-width="0.6"/>
<line x1="457.8" y1="182.72" x2="456" y2="182.72" stroke="#555555" stroke-width="0.6"/>
<line x1="255.3" y1="175.98" x2="257.1" y2="175.98" stroke="#555555" stroke-width="0.6"/>
<line x1="457.8" y1="175.98" x2="456" y2="175.98" stroke="#555555" stroke-width="0.6"/>
<line x1="255.3" y1="172.61" x2="257.1" y2="172.61" stroke="#555555" stroke-width="0.6"/>
<line x1="457.8" y1="172.61" x2="456" y2="172.61" stroke="#555555" stroke-width="0.6"/>
<rect x="255.3" y="172.4" width="202.5" height="113.9" fill="none" stroke="#555555" stroke-width="1.1"/>
<text x="252.9" y="282.69" font-size="6.4" text-anchor="end" fill="#1e1e1e" stroke="#1e1e1e" stroke-width="0.18">6.9</text>
<text x="252.9" y="265.84" font-size="6.4" text-anchor="end" fill="#1e1e1e" stroke="#1e1e1e" stroke-width="0.18">7.0</text>
<text x="252.9" y="248.99" font-size="6.4" text-anchor="end" fill="#1e1e1e" stroke="#1e1e1e" stroke-width="0.18">7.1</text>
<text x="252.9" y="232.14" font-size="6.4" text-anchor="end" fill="#1e1e1e" stroke="#1e1e1e" stroke-width="0.18">7.2</text>
<text x="252.9" y="215.29" font-size="6.4" text-anchor="end" fill="#1e1e1e" stroke="#1e1e1e" stroke-width="0.18">7.3</text>
<text x="252.9" y="198.44" font-size="6.4" text-anchor="end" fill="#1e1e1e" stroke="#1e1e1e" stroke-width="0.18">7.4</text>
<text x="252.9" y="181.59" font-size="6.4" text-anchor="end" fill="#1e1e1e" stroke="#1e1e1e" stroke-width="0.18">7.5</text>
<line x1="263.9" y1="292.2" x2="263.9" y2="330" stroke="#a4a4a4" stroke-width="0.9" stroke-opacity="0.42"/>
<line x1="288.54" y1="292.2" x2="288.54" y2="330" stroke="#a4a4a4" stroke-width="0.9" stroke-opacity="0.42"/>
<line x1="313.18" y1="292.2" x2="313.18" y2="330" stroke="#a4a4a4" stroke-width="0.9" stroke-opacity="0.42"/>
<line x1="337.82" y1="292.2" x2="337.82" y2="330" stroke="#a4a4a4" stroke-width="0.9" stroke-opacity="0.42"/>
<line x1="362.46" y1="292.2" x2="362.46" y2="330" stroke="#a4a4a4" stroke-width="0.9" stroke-opacity="0.42"/>
<line x1="387.1" y1="292.2" x2="387.1" y2="330" stroke="#a4a4a4" stroke-width="0.9" stroke-opacity="0.42"/>
<line x1="411.74" y1="292.2" x2="411.74" y2="330" stroke="#a4a4a4" stroke-width="0.9" stroke-opacity="0.42"/>
<line x1="436.38" y1="292.2" x2="436.38" y2="330" stroke="#a4a4a4" stroke-width="0.9" stroke-opacity="0.42"/>
<polyline points="263.9,305.46 276.22,312.86 288.54,316.46 300.86,316.3 313.18,314.83 325.5,315.84 337.82,314.8 350.14,316.32 362.46,313.76 374.78,315.31 387.1,312.49 399.42,315.2 411.74,311.26 424.06,313.76 436.38,305.08 448.7,300.19" fill="none" stroke="#6e66c8" stroke-width="1.5" stroke-linejoin="round"/>
<circle cx="263.9" cy="305.46" r="1.9" fill="#6e66c8"/>
<circle cx="276.22" cy="312.86" r="1.9" fill="#6e66c8"/>
<circle cx="288.54" cy="316.46" r="1.9" fill="#6e66c8"/>
<circle cx="300.86" cy="316.3" r="1.9" fill="#6e66c8"/>
<circle cx="313.18" cy="314.83" r="1.9" fill="#6e66c8"/>
<circle cx="325.5" cy="315.84" r="1.9" fill="#6e66c8"/>
<circle cx="337.82" cy="314.8" r="1.9" fill="#6e66c8"/>
<circle cx="350.14" cy="316.32" r="1.9" fill="#6e66c8"/>
<circle cx="362.46" cy="313.76" r="1.9" fill="#6e66c8"/>
<circle cx="374.78" cy="315.31" r="1.9" fill="#6e66c8"/>
<circle cx="387.1" cy="312.49" r="1.9" fill="#6e66c8"/>
<circle cx="399.42" cy="315.2" r="1.9" fill="#6e66c8"/>
<circle cx="411.74" cy="311.26" r="1.9" fill="#6e66c8"/>
<circle cx="424.06" cy="313.76" r="1.9" fill="#6e66c8"/>
<circle cx="436.38" cy="305.08" r="1.9" fill="#6e66c8"/>
<circle cx="448.7" cy="300.19" r="1.9" fill="#6e66c8"/>
<line x1="255.3" y1="311.1" x2="457.8" y2="311.1" stroke="#e8474a" stroke-width="0.8" stroke-dasharray="1.0,0.8"/>
<line x1="263.9" y1="330" x2="263.9" y2="326.7" stroke="#555555" stroke-width="0.8"/>
<line x1="263.9" y1="292.2" x2="263.9" y2="295.5" stroke="#555555" stroke-width="0.8"/>
<line x1="288.54" y1="330" x2="288.54" y2="326.7" stroke="#555555" stroke-width="0.8"/>
<line x1="288.54" y1="292.2" x2="288.54" y2="295.5" stroke="#555555" stroke-width="0.8"/>
<line x1="313.18" y1="330" x2="313.18" y2="326.7" stroke="#555555" stroke-width="0.8"/>
<line x1="313.18" y1="292.2" x2="313.18" y2="295.5" stroke="#555555" stroke-width="0.8"/>
<line x1="337.82" y1="330" x2="337.82" y2="326.7" stroke="#555555" stroke-width="0.8"/>
<line x1="337.82" y1="292.2" x2="337.82" y2="295.5" stroke="#555555" stroke-width="0.8"/>
<line x1="362.46" y1="330" x2="362.46" y2="326.7" stroke="#555555" stroke-width="0.8"/>
<line x1="362.46" y1="292.2" x2="362.46" y2="295.5" stroke="#555555" stroke-width="0.8"/>
<line x1="387.1" y1="330" x2="387.1" y2="326.7" stroke="#555555" stroke-width="0.8"/>
<line x1="387.1" y1="292.2" x2="387.1" y2="295.5" stroke="#555555" stroke-width="0.8"/>
<line x1="411.74" y1="330" x2="411.74" y2="326.7" stroke="#555555" stroke-width="0.8"/>
<line x1="411.74" y1="292.2" x2="411.74" y2="295.5" stroke="#555555" stroke-width="0.8"/>
<line x1="436.38" y1="330" x2="436.38" y2="326.7" stroke="#555555" stroke-width="0.8"/>
<line x1="436.38" y1="292.2" x2="436.38" y2="295.5" stroke="#555555" stroke-width="0.8"/>
<line x1="257.74" y1="330" x2="257.74" y2="328.2" stroke="#555555" stroke-width="0.6"/>
<line x1="257.74" y1="292.2" x2="257.74" y2="294" stroke="#555555" stroke-width="0.6"/>
<line x1="270.06" y1="330" x2="270.06" y2="328.2" stroke="#555555" stroke-width="0.6"/>
<line x1="270.06" y1="292.2" x2="270.06" y2="294" stroke="#555555" stroke-width="0.6"/>
<line x1="276.22" y1="330" x2="276.22" y2="328.2" stroke="#555555" stroke-width="0.6"/>
<line x1="276.22" y1="292.2" x2="276.22" y2="294" stroke="#555555" stroke-width="0.6"/>
<line x1="282.38" y1="330" x2="282.38" y2="328.2" stroke="#555555" stroke-width="0.6"/>
<line x1="282.38" y1="292.2" x2="282.38" y2="294" stroke="#555555" stroke-width="0.6"/>
<line x1="294.7" y1="330" x2="294.7" y2="328.2" stroke="#555555" stroke-width="0.6"/>
<line x1="294.7" y1="292.2" x2="294.7" y2="294" stroke="#555555" stroke-width="0.6"/>
<line x1="300.86" y1="330" x2="300.86" y2="328.2" stroke="#555555" stroke-width="0.6"/>
<line x1="300.86" y1="292.2" x2="300.86" y2="294" stroke="#555555" stroke-width="0.6"/>
<line x1="307.02" y1="330" x2="307.02" y2="328.2" stroke="#555555" stroke-width="0.6"/>
<line x1="307.02" y1="292.2" x2="307.02" y2="294" stroke="#555555" stroke-width="0.6"/>
<line x1="319.34" y1="330" x2="319.34" y2="328.2" stroke="#555555" stroke-width="0.6"/>
<line x1="319.34" y1="292.2" x2="319.34" y2="294" stroke="#555555" stroke-width="0.6"/>
<line x1="325.5" y1="330" x2="325.5" y2="328.2" stroke="#555555" stroke-width="0.6"/>
<line x1="325.5" y1="292.2" x2="325.5" y2="294" stroke="#555555" stroke-width="0.6"/>
<line x1="331.66" y1="330" x2="331.66" y2="328.2" stroke="#555555" stroke-width="0.6"/>
<line x1="331.66" y1="292.2" x2="331.66" y2="294" stroke="#555555" stroke-width="0.6"/>
<line x1="343.98" y1="330" x2="343.98" y2="328.2" stroke="#555555" stroke-width="0.6"/>
<line x1="343.98" y1="292.2" x2="343.98" y2="294" stroke="#555555" stroke-width="0.6"/>
<line x1="350.14" y1="330" x2="350.14" y2="328.2" stroke="#555555" stroke-width="0.6"/>
<line x1="350.14" y1="292.2" x2="350.14" y2="294" stroke="#555555" stroke-width="0.6"/>
<line x1="356.3" y1="330" x2="356.3" y2="328.2" stroke="#555555" stroke-width="0.6"/>
<line x1="356.3" y1="292.2" x2="356.3" y2="294" stroke="#555555" stroke-width="0.6"/>
<line x1="368.62" y1="330" x2="368.62" y2="328.2" stroke="#555555" stroke-width="0.6"/>
<line x1="368.62" y1="292.2" x2="368.62" y2="294" stroke="#555555" stroke-width="0.6"/>
<line x1="374.78" y1="330" x2="374.78" y2="328.2" stroke="#555555" stroke-width="0.6"/>
<line x1="374.78" y1="292.2" x2="374.78" y2="294" stroke="#555555" stroke-width="0.6"/>
<line x1="380.94" y1="330" x2="380.94" y2="328.2" stroke="#555555" stroke-width="0.6"/>
<line x1="380.94" y1="292.2" x2="380.94" y2="294" stroke="#555555" stroke-width="0.6"/>
<line x1="393.26" y1="330" x2="393.26" y2="328.2" stroke="#555555" stroke-width="0.6"/>
<line x1="393.26" y1="292.2" x2="393.26" y2="294" stroke="#555555" stroke-width="0.6"/>
<line x1="399.42" y1="330" x2="399.42" y2="328.2" stroke="#555555" stroke-width="0.6"/>
<line x1="399.42" y1="292.2" x2="399.42" y2="294" stroke="#555555" stroke-width="0.6"/>
<line x1="405.58" y1="330" x2="405.58" y2="328.2" stroke="#555555" stroke-width="0.6"/>
<line x1="405.58" y1="292.2" x2="405.58" y2="294" stroke="#555555" stroke-width="0.6"/>
<line x1="417.9" y1="330" x2="417.9" y2="328.2" stroke="#555555" stroke-width="0.6"/>
<line x1="417.9" y1="292.2" x2="417.9" y2="294" stroke="#555555" stroke-width="0.6"/>
<line x1="424.06" y1="330" x2="424.06" y2="328.2" stroke="#555555" stroke-width="0.6"/>
<line x1="424.06" y1="292.2" x2="424.06" y2="294" stroke="#555555" stroke-width="0.6"/>
<line x1="430.22" y1="330" x2="430.22" y2="328.2" stroke="#555555" stroke-width="0.6"/>
<line x1="430.22" y1="292.2" x2="430.22" y2="294" stroke="#555555" stroke-width="0.6"/>
<line x1="442.54" y1="330" x2="442.54" y2="328.2" stroke="#555555" stroke-width="0.6"/>
<line x1="442.54" y1="292.2" x2="442.54" y2="294" stroke="#555555" stroke-width="0.6"/>
<line x1="448.7" y1="330" x2="448.7" y2="328.2" stroke="#555555" stroke-width="0.6"/>
<line x1="448.7" y1="292.2" x2="448.7" y2="294" stroke="#555555" stroke-width="0.6"/>
<line x1="454.86" y1="330" x2="454.86" y2="328.2" stroke="#555555" stroke-width="0.6"/>
<line x1="454.86" y1="292.2" x2="454.86" y2="294" stroke="#555555" stroke-width="0.6"/>
<line x1="255.3" y1="330" x2="258.6" y2="330" stroke="#555555" stroke-width="0.8"/>
<line x1="457.8" y1="330" x2="454.5" y2="330" stroke="#555555" stroke-width="0.8"/>
<line x1="255.3" y1="311.1" x2="258.6" y2="311.1" stroke="#555555" stroke-width="0.8"/>
<line x1="457.8" y1="311.1" x2="454.5" y2="311.1" stroke="#555555" stroke-width="0.8"/>
<line x1="255.3" y1="292.2" x2="258.6" y2="292.2" stroke="#555555" stroke-width="0.8"/>
<line x1="457.8" y1="292.2" x2="454.5" y2="292.2" stroke="#555555" stroke-width="0.8"/>
<line x1="255.3" y1="326.22" x2="257.1" y2="326.22" stroke="#555555" stroke-width="0.6"/>
<line x1="457.8" y1="326.22" x2="456" y2="326.22" stroke="#555555" stroke-width="0.6"/>
<line x1="255.3" y1="322.44" x2="257.1" y2="322.44" stroke="#555555" stroke-width="0.6"/>
<line x1="457.8" y1="322.44" x2="456" y2="322.44" stroke="#555555" stroke-width="0.6"/>
<line x1="255.3" y1="318.66" x2="257.1" y2="318.66" stroke="#555555" stroke-width="0.6"/>
<line x1="457.8" y1="318.66" x2="456" y2="318.66" stroke="#555555" stroke-width="0.6"/>
<line x1="255.3" y1="314.88" x2="257.1" y2="314.88" stroke="#555555" stroke-width="0.6"/>
<line x1="457.8" y1="314.88" x2="456" y2="314.88" stroke="#555555" stroke-width="0.6"/>
<line x1="255.3" y1="307.32" x2="257.1" y2="307.32" stroke="#555555" stroke-width="0.6"/>
<line x1="457.8" y1="307.32" x2="456" y2="307.32" stroke="#555555" stroke-width="0.6"/>
<line x1="255.3" y1="303.54" x2="257.1" y2="303.54" stroke="#555555" stroke-width="0.6"/>
<line x1="457.8" y1="303.54" x2="456" y2="303.54" stroke="#555555" stroke-width="0.6"/>
<line x1="255.3" y1="299.76" x2="257.1" y2="299.76" stroke="#555555" stroke-width="0.6"/>
<line x1="457.8" y1="299.76" x2="456" y2="299.76" stroke="#555555" stroke-width="0.6"/>
<line x1="255.3" y1="295.98" x2="257.1" y2="295.98" stroke="#555555" stroke-width="0.6"/>
<line x1="457.8" y1="295.98" x2="456" y2="295.98" stroke="#555555" stroke-width="0.6"/>
<rect x="255.3" y="292.2" width="202.5" height="37.8" fill="none" stroke="#555555" stroke-width="1.1"/>
<line x1="254.8" y1="292.2" x2="458.3" y2="292.2" stroke="#4a3c3c" stroke-width="1.1"/>
<text x="252.9" y="294.44" font-size="6.4" text-anchor="end" fill="#1e1e1e" stroke="#1e1e1e" stroke-width="0.18">10</text>
<text x="252.9" y="313.34" font-size="6.4" text-anchor="end" fill="#1e1e1e" stroke="#1e1e1e" stroke-width="0.18">0</text>
<text x="252.9" y="332.24" font-size="6.4" text-anchor="end" fill="#1e1e1e" stroke="#1e1e1e" stroke-width="0.18">−10</text>
<line x1="263.9" y1="336.2" x2="263.9" y2="373.4" stroke="#a4a4a4" stroke-width="0.9" stroke-opacity="0.42"/>
<line x1="288.54" y1="336.2" x2="288.54" y2="373.4" stroke="#a4a4a4" stroke-width="0.9" stroke-opacity="0.42"/>
<line x1="313.18" y1="336.2" x2="313.18" y2="373.4" stroke="#a4a4a4" stroke-width="0.9" stroke-opacity="0.42"/>
<line x1="337.82" y1="336.2" x2="337.82" y2="373.4" stroke="#a4a4a4" stroke-width="0.9" stroke-opacity="0.42"/>
<line x1="362.46" y1="336.2" x2="362.46" y2="373.4" stroke="#a4a4a4" stroke-width="0.9" stroke-opacity="0.42"/>
<line x1="387.1" y1="336.2" x2="387.1" y2="373.4" stroke="#a4a4a4" stroke-width="0.9" stroke-opacity="0.42"/>
<line x1="411.74" y1="336.2" x2="411.74" y2="373.4" stroke="#a4a4a4" stroke-width="0.9" stroke-opacity="0.42"/>
<line x1="436.38" y1="336.2" x2="436.38" y2="373.4" stroke="#a4a4a4" stroke-width="0.9" stroke-opacity="0.42"/>
<polyline points="263.9,350.86 276.22,356.03 288.54,358.54 300.86,358.43 313.18,357.4 325.5,358.11 337.82,357.39 350.14,358.45 362.46,356.66 374.78,357.74 387.1,355.77 399.42,357.66 411.74,354.91 424.06,356.66 436.38,350.6 448.7,347.17" fill="none" stroke="#6e66c8" stroke-width="1.5" stroke-linejoin="round"/>
<circle cx="263.9" cy="350.86" r="1.9" fill="#6e66c8"/>
<circle cx="276.22" cy="356.03" r="1.9" fill="#6e66c8"/>
<circle cx="288.54" cy="358.54" r="1.9" fill="#6e66c8"/>
<circle cx="300.86" cy="358.43" r="1.9" fill="#6e66c8"/>
<circle cx="313.18" cy="357.4" r="1.9" fill="#6e66c8"/>
<circle cx="325.5" cy="358.11" r="1.9" fill="#6e66c8"/>
<circle cx="337.82" cy="357.39" r="1.9" fill="#6e66c8"/>
<circle cx="350.14" cy="358.45" r="1.9" fill="#6e66c8"/>
<circle cx="362.46" cy="356.66" r="1.9" fill="#6e66c8"/>
<circle cx="374.78" cy="357.74" r="1.9" fill="#6e66c8"/>
<circle cx="387.1" cy="355.77" r="1.9" fill="#6e66c8"/>
<circle cx="399.42" cy="357.66" r="1.9" fill="#6e66c8"/>
<circle cx="411.74" cy="354.91" r="1.9" fill="#6e66c8"/>
<circle cx="424.06" cy="356.66" r="1.9" fill="#6e66c8"/>
<circle cx="436.38" cy="350.6" r="1.9" fill="#6e66c8"/>
<circle cx="448.7" cy="347.17" r="1.9" fill="#6e66c8"/>
<line x1="255.3" y1="354.8" x2="457.8" y2="354.8" stroke="#e8474a" stroke-width="0.8" stroke-dasharray="1.0,0.8"/>
<line x1="263.9" y1="373.4" x2="263.9" y2="370.1" stroke="#555555" stroke-width="0.8"/>
<line x1="263.9" y1="336.2" x2="263.9" y2="339.5" stroke="#555555" stroke-width="0.8"/>
<line x1="288.54" y1="373.4" x2="288.54" y2="370.1" stroke="#555555" stroke-width="0.8"/>
<line x1="288.54" y1="336.2" x2="288.54" y2="339.5" stroke="#555555" stroke-width="0.8"/>
<line x1="313.18" y1="373.4" x2="313.18" y2="370.1" stroke="#555555" stroke-width="0.8"/>
<line x1="313.18" y1="336.2" x2="313.18" y2="339.5" stroke="#555555" stroke-width="0.8"/>
<line x1="337.82" y1="373.4" x2="337.82" y2="370.1" stroke="#555555" stroke-width="0.8"/>
<line x1="337.82" y1="336.2" x2="337.82" y2="339.5" stroke="#555555" stroke-width="0.8"/>
<line x1="362.46" y1="373.4" x2="362.46" y2="370.1" stroke="#555555" stroke-width="0.8"/>
<line x1="362.46" y1="336.2" x2="362.46" y2="339.5" stroke="#555555" stroke-width="0.8"/>
<line x1="387.1" y1="373.4" x2="387.1" y2="370.1" stroke="#555555" stroke-width="0.8"/>
<line x1="387.1" y1="336.2" x2="387.1" y2="339.5" stroke="#555555" stroke-width="0.8"/>
<line x1="411.74" y1="373.4" x2="411.74" y2="370.1" stroke="#555555" stroke-width="0.8"/>
<line x1="411.74" y1="336.2" x2="411.74" y2="339.5" stroke="#555555" stroke-width="0.8"/>
<line x1="436.38" y1="373.4" x2="436.38" y2="370.1" stroke="#555555" stroke-width="0.8"/>
<line x1="436.38" y1="336.2" x2="436.38" y2="339.5" stroke="#555555" stroke-width="0.8"/>
<line x1="257.74" y1="373.4" x2="257.74" y2="371.6" stroke="#555555" stroke-width="0.6"/>
<line x1="257.74" y1="336.2" x2="257.74" y2="338" stroke="#555555" stroke-width="0.6"/>
<line x1="270.06" y1="373.4" x2="270.06" y2="371.6" stroke="#555555" stroke-width="0.6"/>
<line x1="270.06" y1="336.2" x2="270.06" y2="338" stroke="#555555" stroke-width="0.6"/>
<line x1="276.22" y1="373.4" x2="276.22" y2="371.6" stroke="#555555" stroke-width="0.6"/>
<line x1="276.22" y1="336.2" x2="276.22" y2="338" stroke="#555555" stroke-width="0.6"/>
<line x1="282.38" y1="373.4" x2="282.38" y2="371.6" stroke="#555555" stroke-width="0.6"/>
<line x1="282.38" y1="336.2" x2="282.38" y2="338" stroke="#555555" stroke-width="0.6"/>
<line x1="294.7" y1="373.4" x2="294.7" y2="371.6" stroke="#555555" stroke-width="0.6"/>
<line x1="294.7" y1="336.2" x2="294.7" y2="338" stroke="#555555" stroke-width="0.6"/>
<line x1="300.86" y1="373.4" x2="300.86" y2="371.6" stroke="#555555" stroke-width="0.6"/>
<line x1="300.86" y1="336.2" x2="300.86" y2="338" stroke="#555555" stroke-width="0.6"/>
<line x1="307.02" y1="373.4" x2="307.02" y2="371.6" stroke="#555555" stroke-width="0.6"/>
<line x1="307.02" y1="336.2" x2="307.02" y2="338" stroke="#555555" stroke-width="0.6"/>
<line x1="319.34" y1="373.4" x2="319.34" y2="371.6" stroke="#555555" stroke-width="0.6"/>
<line x1="319.34" y1="336.2" x2="319.34" y2="338" stroke="#555555" stroke-width="0.6"/>
<line x1="325.5" y1="373.4" x2="325.5" y2="371.6" stroke="#555555" stroke-width="0.6"/>
<line x1="325.5" y1="336.2" x2="325.5" y2="338" stroke="#555555" stroke-width="0.6"/>
<line x1="331.66" y1="373.4" x2="331.66" y2="371.6" stroke="#555555" stroke-width="0.6"/>
<line x1="331.66" y1="336.2" x2="331.66" y2="338" stroke="#555555" stroke-width="0.6"/>
<line x1="343.98" y1="373.4" x2="343.98" y2="371.6" stroke="#555555" stroke-width="0.6"/>
<line x1="343.98" y1="336.2" x2="343.98" y2="338" stroke="#555555" stroke-width="0.6"/>
<line x1="350.14" y1="373.4" x2="350.14" y2="371.6" stroke="#555555" stroke-width="0.6"/>
<line x1="350.14" y1="336.2" x2="350.14" y2="338" stroke="#555555" stroke-width="0.6"/>
<line x1="356.3" y1="373.4" x2="356.3" y2="371.6" stroke="#555555" stroke-width="0.6"/>
<line x1="356.3" y1="336.2" x2="356.3" y2="338" stroke="#555555" stroke-width="0.6"/>
<line x1="368.62" y1="373.4" x2="368.62" y2="371.6" stroke="#555555" stroke-width="0.6"/>
<line x1="368.62" y1="336.2" x2="368.62" y2="338" stroke="#555555" stroke-width="0.6"/>
<line x1="374.78" y1="373.4" x2="374.78" y2="371.6" stroke="#555555" stroke-width="0.6"/>
<line x1="374.78" y1="336.2" x2="374.78" y2="338" stroke="#555555" stroke-width="0.6"/>
<line x1="380.94" y1="373.4" x2="380.94" y2="371.6" stroke="#555555" stroke-width="0.6"/>
<line x1="380.94" y1="336.2" x2="380.94" y2="338" stroke="#555555" stroke-width="0.6"/>
<line x1="393.26" y1="373.4" x2="393.26" y2="371.6" stroke="#555555" stroke-width="0.6"/>
<line x1="393.26" y1="336.2" x2="393.26" y2="338" stroke="#555555" stroke-width="0.6"/>
<line x1="399.42" y1="373.4" x2="399.42" y2="371.6" stroke="#555555" stroke-width="0.6"/>
<line x1="399.42" y1="336.2" x2="399.42" y2="338" stroke="#555555" stroke-width="0.6"/>
<line x1="405.58" y1="373.4" x2="405.58" y2="371.6" stroke="#555555" stroke-width="0.6"/>
<line x1="405.58" y1="336.2" x2="405.58" y2="338" stroke="#555555" stroke-width="0.6"/>
<line x1="417.9" y1="373.4" x2="417.9" y2="371.6" stroke="#555555" stroke-width="0.6"/>
<line x1="417.9" y1="336.2" x2="417.9" y2="338" stroke="#555555" stroke-width="0.6"/>
<line x1="424.06" y1="373.4" x2="424.06" y2="371.6" stroke="#555555" stroke-width="0.6"/>
<line x1="424.06" y1="336.2" x2="424.06" y2="338" stroke="#555555" stroke-width="0.6"/>
<line x1="430.22" y1="373.4" x2="430.22" y2="371.6" stroke="#555555" stroke-width="0.6"/>
<line x1="430.22" y1="336.2" x2="430.22" y2="338" stroke="#555555" stroke-width="0.6"/>
<line x1="442.54" y1="373.4" x2="442.54" y2="371.6" stroke="#555555" stroke-width="0.6"/>
<line x1="442.54" y1="336.2" x2="442.54" y2="338" stroke="#555555" stroke-width="0.6"/>
<line x1="448.7" y1="373.4" x2="448.7" y2="371.6" stroke="#555555" stroke-width="0.6"/>
<line x1="448.7" y1="336.2" x2="448.7" y2="338" stroke="#555555" stroke-width="0.6"/>
<line x1="454.86" y1="373.4" x2="454.86" y2="371.6" stroke="#555555" stroke-width="0.6"/>
<line x1="454.86" y1="336.2" x2="454.86" y2="338" stroke="#555555" stroke-width="0.6"/>
<line x1="255.3" y1="373.4" x2="258.6" y2="373.4" stroke="#555555" stroke-width="0.8"/>
<line x1="457.8" y1="373.4" x2="454.5" y2="373.4" stroke="#555555" stroke-width="0.8"/>
<line x1="255.3" y1="354.8" x2="258.6" y2="354.8" stroke="#555555" stroke-width="0.8"/>
<line x1="457.8" y1="354.8" x2="454.5" y2="354.8" stroke="#555555" stroke-width="0.8"/>
<line x1="255.3" y1="336.2" x2="258.6" y2="336.2" stroke="#555555" stroke-width="0.8"/>
<line x1="457.8" y1="336.2" x2="454.5" y2="336.2" stroke="#555555" stroke-width="0.8"/>
<line x1="255.3" y1="369.68" x2="257.1" y2="369.68" stroke="#555555" stroke-width="0.6"/>
<line x1="457.8" y1="369.68" x2="456" y2="369.68" stroke="#555555" stroke-width="0.6"/>
<line x1="255.3" y1="365.96" x2="257.1" y2="365.96" stroke="#555555" stroke-width="0.6"/>
<line x1="457.8" y1="365.96" x2="456" y2="365.96" stroke="#555555" stroke-width="0.6"/>
<line x1="255.3" y1="362.24" x2="257.1" y2="362.24" stroke="#555555" stroke-width="0.6"/>
<line x1="457.8" y1="362.24" x2="456" y2="362.24" stroke="#555555" stroke-width="0.6"/>
<line x1="255.3" y1="358.52" x2="257.1" y2="358.52" stroke="#555555" stroke-width="0.6"/>
<line x1="457.8" y1="358.52" x2="456" y2="358.52" stroke="#555555" stroke-width="0.6"/>
<line x1="255.3" y1="351.08" x2="257.1" y2="351.08" stroke="#555555" stroke-width="0.6"/>
<line x1="457.8" y1="351.08" x2="456" y2="351.08" stroke="#555555" stroke-width="0.6"/>
<line x1="255.3" y1="347.36" x2="257.1" y2="347.36" stroke="#555555" stroke-width="0.6"/>
<line x1="457.8" y1="347.36" x2="456" y2="347.36" stroke="#555555" stroke-width="0.6"/>
<line x1="255.3" y1="343.64" x2="257.1" y2="343.64" stroke="#555555" stroke-width="0.6"/>
<line x1="457.8" y1="343.64" x2="456" y2="343.64" stroke="#555555" stroke-width="0.6"/>
<line x1="255.3" y1="339.92" x2="257.1" y2="339.92" stroke="#555555" stroke-width="0.6"/>
<line x1="457.8" y1="339.92" x2="456" y2="339.92" stroke="#555555" stroke-width="0.6"/>
<rect x="255.3" y="336.2" width="202.5" height="37.2" fill="none" stroke="#555555" stroke-width="1.1"/>
<text x="252.9" y="338.44" font-size="6.4" text-anchor="end" fill="#1e1e1e" stroke="#1e1e1e" stroke-width="0.18">1</text>
<text x="252.9" y="357.04" font-size="6.4" text-anchor="end" fill="#1e1e1e" stroke="#1e1e1e" stroke-width="0.18">0</text>
<text x="252.9" y="375.64" font-size="6.4" text-anchor="end" fill="#1e1e1e" stroke="#1e1e1e" stroke-width="0.18">−1</text>
<text x="263.9" y="379.84" font-size="6.4" text-anchor="middle" fill="#1e1e1e" stroke="#1e1e1e" stroke-width="0.18">0</text>
<text x="288.54" y="379.84" font-size="6.4" text-anchor="middle" fill="#1e1e1e" stroke="#1e1e1e" stroke-width="0.18">2</text>
<text x="313.18" y="379.84" font-size="6.4" text-anchor="middle" fill="#1e1e1e" stroke="#1e1e1e" stroke-width="0.18">4</text>
<text x="337.82" y="379.84" font-size="6.4" text-anchor="middle" fill="#1e1e1e" stroke="#1e1e1e" stroke-width="0.18">6</text>
<text x="362.46" y="379.84" font-size="6.4" text-anchor="middle" fill="#1e1e1e" stroke="#1e1e1e" stroke-width="0.18">8</text>
<text x="387.1" y="379.84" font-size="6.4" text-anchor="middle" fill="#1e1e1e" stroke="#1e1e1e" stroke-width="0.18">10</text>
<text x="411.74" y="379.84" font-size="6.4" text-anchor="middle" fill="#1e1e1e" stroke="#1e1e1e" stroke-width="0.18">12</text>
<text x="436.38" y="379.84" font-size="6.4" text-anchor="middle" fill="#1e1e1e" stroke="#1e1e1e" stroke-width="0.18">14</text>
<line x1="486.7" y1="172.7" x2="486.7" y2="286.2" stroke="#a4a4a4" stroke-width="0.9" stroke-opacity="0.42"/>
<line x1="510" y1="172.7" x2="510" y2="286.2" stroke="#a4a4a4" stroke-width="0.9" stroke-opacity="0.42"/>
<line x1="533.3" y1="172.7" x2="533.3" y2="286.2" stroke="#a4a4a4" stroke-width="0.9" stroke-opacity="0.42"/>
<line x1="556.6" y1="172.7" x2="556.6" y2="286.2" stroke="#a4a4a4" stroke-width="0.9" stroke-opacity="0.42"/>
<line x1="579.9" y1="172.7" x2="579.9" y2="286.2" stroke="#a4a4a4" stroke-width="0.9" stroke-opacity="0.42"/>
<line x1="603.2" y1="172.7" x2="603.2" y2="286.2" stroke="#a4a4a4" stroke-width="0.9" stroke-opacity="0.42"/>
<line x1="626.5" y1="172.7" x2="626.5" y2="286.2" stroke="#a4a4a4" stroke-width="0.9" stroke-opacity="0.42"/>
<line x1="649.8" y1="172.7" x2="649.8" y2="286.2" stroke="#a4a4a4" stroke-width="0.9" stroke-opacity="0.42"/>
<line x1="673.1" y1="172.7" x2="673.1" y2="286.2" stroke="#a4a4a4" stroke-width="0.9" stroke-opacity="0.42"/>
<line x1="477.6" y1="283.6" x2="682.2" y2="283.6" stroke="#a4a4a4" stroke-width="0.9" stroke-opacity="0.32"/>
<line x1="477.6" y1="268.11" x2="682.2" y2="268.11" stroke="#a4a4a4" stroke-width="0.9" stroke-opacity="0.32"/>
<line x1="477.6" y1="252.63" x2="682.2" y2="252.63" stroke="#a4a4a4" stroke-width="0.9" stroke-opacity="0.32"/>
<line x1="477.6" y1="237.14" x2="682.2" y2="237.14" stroke="#a4a4a4" stroke-width="0.9" stroke-opacity="0.32"/>
<line x1="477.6" y1="221.66" x2="682.2" y2="221.66" stroke="#a4a4a4" stroke-width="0.9" stroke-opacity="0.32"/>
<line x1="477.6" y1="206.17" x2="682.2" y2="206.17" stroke="#a4a4a4" stroke-width="0.9" stroke-opacity="0.32"/>
<line x1="477.6" y1="190.68" x2="682.2" y2="190.68" stroke="#a4a4a4" stroke-width="0.9" stroke-opacity="0.32"/>
<line x1="477.6" y1="175.2" x2="682.2" y2="175.2" stroke="#a4a4a4" stroke-width="0.9" stroke-opacity="0.32"/>
<svg x="477.6" y="172.7" width="204.6" height="113.5" viewBox="477.6 172.7 204.6 113.5" overflow="hidden">
<polyline points="486.7,178.3 510,253.87 533.3,269.2 556.6,275.08 579.9,277.48 603.2,278.95 626.5,279.88 649.8,280.5 673.1,281.12" fill="none" stroke="#6e66c8" stroke-width="1.5" stroke-linejoin="round"/>
<circle cx="486.7" cy="178.3" r="1.9" fill="#6e66c8"/>
<circle cx="510" cy="253.87" r="1.9" fill="#6e66c8"/>
<circle cx="533.3" cy="269.2" r="1.9" fill="#6e66c8"/>
<circle cx="556.6" cy="275.08" r="1.9" fill="#6e66c8"/>
<circle cx="579.9" cy="277.48" r="1.9" fill="#6e66c8"/>
<circle cx="603.2" cy="278.95" r="1.9" fill="#6e66c8"/>
<circle cx="626.5" cy="279.88" r="1.9" fill="#6e66c8"/>
<circle cx="649.8" cy="280.5" r="1.9" fill="#6e66c8"/>
<circle cx="673.1" cy="281.12" r="1.9" fill="#6e66c8"/>
<polyline points="486.7,178.3 510,253.87 533.3,269.2 556.6,275.08 579.9,277.48 603.2,278.95 626.5,279.88 649.8,280.5 673.1,281.12" fill="none" stroke="#1a1a1a" stroke-width="1.35" stroke-linejoin="round" stroke-dasharray="1.4,2.0"/>
</svg>
<line x1="486.7" y1="286.2" x2="486.7" y2="282.9" stroke="#555555" stroke-width="0.8"/>
<line x1="486.7" y1="172.7" x2="486.7" y2="176" stroke="#555555" stroke-width="0.8"/>
<line x1="510" y1="286.2" x2="510" y2="282.9" stroke="#555555" stroke-width="0.8"/>
<line x1="510" y1="172.7" x2="510" y2="176" stroke="#555555" stroke-width="0.8"/>
<line x1="533.3" y1="286.2" x2="533.3" y2="282.9" stroke="#555555" stroke-width="0.8"/>
<line x1="533.3" y1="172.7" x2="533.3" y2="176" stroke="#555555" stroke-width="0.8"/>
<line x1="556.6" y1="286.2" x2="556.6" y2="282.9" stroke="#555555" stroke-width="0.8"/>
<line x1="556.6" y1="172.7" x2="556.6" y2="176" stroke="#555555" stroke-width="0.8"/>
<line x1="579.9" y1="286.2" x2="579.9" y2="282.9" stroke="#555555" stroke-width="0.8"/>
<line x1="579.9" y1="172.7" x2="579.9" y2="176" stroke="#555555" stroke-width="0.8"/>
<line x1="603.2" y1="286.2" x2="603.2" y2="282.9" stroke="#555555" stroke-width="0.8"/>
<line x1="603.2" y1="172.7" x2="603.2" y2="176" stroke="#555555" stroke-width="0.8"/>
<line x1="626.5" y1="286.2" x2="626.5" y2="282.9" stroke="#555555" stroke-width="0.8"/>
<line x1="626.5" y1="172.7" x2="626.5" y2="176" stroke="#555555" stroke-width="0.8"/>
<line x1="649.8" y1="286.2" x2="649.8" y2="282.9" stroke="#555555" stroke-width="0.8"/>
<line x1="649.8" y1="172.7" x2="649.8" y2="176" stroke="#555555" stroke-width="0.8"/>
<line x1="673.1" y1="286.2" x2="673.1" y2="282.9" stroke="#555555" stroke-width="0.8"/>
<line x1="673.1" y1="172.7" x2="673.1" y2="176" stroke="#555555" stroke-width="0.8"/>
<line x1="477.38" y1="286.2" x2="477.38" y2="284.4" stroke="#555555" stroke-width="0.6"/>
<line x1="477.38" y1="172.7" x2="477.38" y2="174.5" stroke="#555555" stroke-width="0.6"/>
<line x1="482.04" y1="286.2" x2="482.04" y2="284.4" stroke="#555555" stroke-width="0.6"/>
<line x1="482.04" y1="172.7" x2="482.04" y2="174.5" stroke="#555555" stroke-width="0.6"/>
<line x1="491.36" y1="286.2" x2="491.36" y2="284.4" stroke="#555555" stroke-width="0.6"/>
<line x1="491.36" y1="172.7" x2="491.36" y2="174.5" stroke="#555555" stroke-width="0.6"/>
<line x1="496.02" y1="286.2" x2="496.02" y2="284.4" stroke="#555555" stroke-width="0.6"/>
<line x1="496.02" y1="172.7" x2="496.02" y2="174.5" stroke="#555555" stroke-width="0.6"/>
<line x1="500.68" y1="286.2" x2="500.68" y2="284.4" stroke="#555555" stroke-width="0.6"/>
<line x1="500.68" y1="172.7" x2="500.68" y2="174.5" stroke="#555555" stroke-width="0.6"/>
<line x1="505.34" y1="286.2" x2="505.34" y2="284.4" stroke="#555555" stroke-width="0.6"/>
<line x1="505.34" y1="172.7" x2="505.34" y2="174.5" stroke="#555555" stroke-width="0.6"/>
<line x1="514.66" y1="286.2" x2="514.66" y2="284.4" stroke="#555555" stroke-width="0.6"/>
<line x1="514.66" y1="172.7" x2="514.66" y2="174.5" stroke="#555555" stroke-width="0.6"/>
<line x1="519.32" y1="286.2" x2="519.32" y2="284.4" stroke="#555555" stroke-width="0.6"/>
<line x1="519.32" y1="172.7" x2="519.32" y2="174.5" stroke="#555555" stroke-width="0.6"/>
<line x1="523.98" y1="286.2" x2="523.98" y2="284.4" stroke="#555555" stroke-width="0.6"/>
<line x1="523.98" y1="172.7" x2="523.98" y2="174.5" stroke="#555555" stroke-width="0.6"/>
<line x1="528.64" y1="286.2" x2="528.64" y2="284.4" stroke="#555555" stroke-width="0.6"/>
<line x1="528.64" y1="172.7" x2="528.64" y2="174.5" stroke="#555555" stroke-width="0.6"/>
<line x1="537.96" y1="286.2" x2="537.96" y2="284.4" stroke="#555555" stroke-width="0.6"/>
<line x1="537.96" y1="172.7" x2="537.96" y2="174.5" stroke="#555555" stroke-width="0.6"/>
<line x1="542.62" y1="286.2" x2="542.62" y2="284.4" stroke="#555555" stroke-width="0.6"/>
<line x1="542.62" y1="172.7" x2="542.62" y2="174.5" stroke="#555555" stroke-width="0.6"/>
<line x1="547.28" y1="286.2" x2="547.28" y2="284.4" stroke="#555555" stroke-width="0.6"/>
<line x1="547.28" y1="172.7" x2="547.28" y2="174.5" stroke="#555555" stroke-width="0.6"/>
<line x1="551.94" y1="286.2" x2="551.94" y2="284.4" stroke="#555555" stroke-width="0.6"/>
<line x1="551.94" y1="172.7" x2="551.94" y2="174.5" stroke="#555555" stroke-width="0.6"/>
<line x1="561.26" y1="286.2" x2="561.26" y2="284.4" stroke="#555555" stroke-width="0.6"/>
<line x1="561.26" y1="172.7" x2="561.26" y2="174.5" stroke="#555555" stroke-width="0.6"/>
<line x1="565.92" y1="286.2" x2="565.92" y2="284.4" stroke="#555555" stroke-width="0.6"/>
<line x1="565.92" y1="172.7" x2="565.92" y2="174.5" stroke="#555555" stroke-width="0.6"/>
<line x1="570.58" y1="286.2" x2="570.58" y2="284.4" stroke="#555555" stroke-width="0.6"/>
<line x1="570.58" y1="172.7" x2="570.58" y2="174.5" stroke="#555555" stroke-width="0.6"/>
<line x1="575.24" y1="286.2" x2="575.24" y2="284.4" stroke="#555555" stroke-width="0.6"/>
<line x1="575.24" y1="172.7" x2="575.24" y2="174.5" stroke="#555555" stroke-width="0.6"/>
<line x1="584.56" y1="286.2" x2="584.56" y2="284.4" stroke="#555555" stroke-width="0.6"/>
<line x1="584.56" y1="172.7" x2="584.56" y2="174.5" stroke="#555555" stroke-width="0.6"/>
<line x1="589.22" y1="286.2" x2="589.22" y2="284.4" stroke="#555555" stroke-width="0.6"/>
<line x1="589.22" y1="172.7" x2="589.22" y2="174.5" stroke="#555555" stroke-width="0.6"/>
<line x1="593.88" y1="286.2" x2="593.88" y2="284.4" stroke="#555555" stroke-width="0.6"/>
<line x1="593.88" y1="172.7" x2="593.88" y2="174.5" stroke="#555555" stroke-width="0.6"/>
<line x1="598.54" y1="286.2" x2="598.54" y2="284.4" stroke="#555555" stroke-width="0.6"/>
<line x1="598.54" y1="172.7" x2="598.54" y2="174.5" stroke="#555555" stroke-width="0.6"/>
<line x1="607.86" y1="286.2" x2="607.86" y2="284.4" stroke="#555555" stroke-width="0.6"/>
<line x1="607.86" y1="172.7" x2="607.86" y2="174.5" stroke="#555555" stroke-width="0.6"/>
<line x1="612.52" y1="286.2" x2="612.52" y2="284.4" stroke="#555555" stroke-width="0.6"/>
<line x1="612.52" y1="172.7" x2="612.52" y2="174.5" stroke="#555555" stroke-width="0.6"/>
<line x1="617.18" y1="286.2" x2="617.18" y2="284.4" stroke="#555555" stroke-width="0.6"/>
<line x1="617.18" y1="172.7" x2="617.18" y2="174.5" stroke="#555555" stroke-width="0.6"/>
<line x1="621.84" y1="286.2" x2="621.84" y2="284.4" stroke="#555555" stroke-width="0.6"/>
<line x1="621.84" y1="172.7" x2="621.84" y2="174.5" stroke="#555555" stroke-width="0.6"/>
<line x1="631.16" y1="286.2" x2="631.16" y2="284.4" stroke="#555555" stroke-width="0.6"/>
<line x1="631.16" y1="172.7" x2="631.16" y2="174.5" stroke="#555555" stroke-width="0.6"/>
<line x1="635.82" y1="286.2" x2="635.82" y2="284.4" stroke="#555555" stroke-width="0.6"/>
<line x1="635.82" y1="172.7" x2="635.82" y2="174.5" stroke="#555555" stroke-width="0.6"/>
<line x1="640.48" y1="286.2" x2="640.48" y2="284.4" stroke="#555555" stroke-width="0.6"/>
<line x1="640.48" y1="172.7" x2="640.48" y2="174.5" stroke="#555555" stroke-width="0.6"/>
<line x1="645.14" y1="286.2" x2="645.14" y2="284.4" stroke="#555555" stroke-width="0.6"/>
<line x1="645.14" y1="172.7" x2="645.14" y2="174.5" stroke="#555555" stroke-width="0.6"/>
<line x1="654.46" y1="286.2" x2="654.46" y2="284.4" stroke="#555555" stroke-width="0.6"/>
<line x1="654.46" y1="172.7" x2="654.46" y2="174.5" stroke="#555555" stroke-width="0.6"/>
<line x1="659.12" y1="286.2" x2="659.12" y2="284.4" stroke="#555555" stroke-width="0.6"/>
<line x1="659.12" y1="172.7" x2="659.12" y2="174.5" stroke="#555555" stroke-width="0.6"/>
<line x1="663.78" y1="286.2" x2="663.78" y2="284.4" stroke="#555555" stroke-width="0.6"/>
<line x1="663.78" y1="172.7" x2="663.78" y2="174.5" stroke="#555555" stroke-width="0.6"/>
<line x1="668.44" y1="286.2" x2="668.44" y2="284.4" stroke="#555555" stroke-width="0.6"/>
<line x1="668.44" y1="172.7" x2="668.44" y2="174.5" stroke="#555555" stroke-width="0.6"/>
<line x1="677.76" y1="286.2" x2="677.76" y2="284.4" stroke="#555555" stroke-width="0.6"/>
<line x1="677.76" y1="172.7" x2="677.76" y2="174.5" stroke="#555555" stroke-width="0.6"/>
<line x1="682.42" y1="286.2" x2="682.42" y2="284.4" stroke="#555555" stroke-width="0.6"/>
<line x1="682.42" y1="172.7" x2="682.42" y2="174.5" stroke="#555555" stroke-width="0.6"/>
<line x1="477.6" y1="283.6" x2="480.9" y2="283.6" stroke="#555555" stroke-width="0.8"/>
<line x1="682.2" y1="283.6" x2="678.9" y2="283.6" stroke="#555555" stroke-width="0.8"/>
<line x1="477.6" y1="268.11" x2="480.9" y2="268.11" stroke="#555555" stroke-width="0.8"/>
<line x1="682.2" y1="268.11" x2="678.9" y2="268.11" stroke="#555555" stroke-width="0.8"/>
<line x1="477.6" y1="252.63" x2="480.9" y2="252.63" stroke="#555555" stroke-width="0.8"/>
<line x1="682.2" y1="252.63" x2="678.9" y2="252.63" stroke="#555555" stroke-width="0.8"/>
<line x1="477.6" y1="237.14" x2="480.9" y2="237.14" stroke="#555555" stroke-width="0.8"/>
<line x1="682.2" y1="237.14" x2="678.9" y2="237.14" stroke="#555555" stroke-width="0.8"/>
<line x1="477.6" y1="221.66" x2="480.9" y2="221.66" stroke="#555555" stroke-width="0.8"/>
<line x1="682.2" y1="221.66" x2="678.9" y2="221.66" stroke="#555555" stroke-width="0.8"/>
<line x1="477.6" y1="206.17" x2="480.9" y2="206.17" stroke="#555555" stroke-width="0.8"/>
<line x1="682.2" y1="206.17" x2="678.9" y2="206.17" stroke="#555555" stroke-width="0.8"/>
<line x1="477.6" y1="190.68" x2="480.9" y2="190.68" stroke="#555555" stroke-width="0.8"/>
<line x1="682.2" y1="190.68" x2="678.9" y2="190.68" stroke="#555555" stroke-width="0.8"/>
<line x1="477.6" y1="175.2" x2="480.9" y2="175.2" stroke="#555555" stroke-width="0.8"/>
<line x1="682.2" y1="175.2" x2="678.9" y2="175.2" stroke="#555555" stroke-width="0.8"/>
<line x1="477.6" y1="280.5" x2="479.4" y2="280.5" stroke="#555555" stroke-width="0.6"/>
<line x1="682.2" y1="280.5" x2="680.4" y2="280.5" stroke="#555555" stroke-width="0.6"/>
<line x1="477.6" y1="277.41" x2="479.4" y2="277.41" stroke="#555555" stroke-width="0.6"/>
<line x1="682.2" y1="277.41" x2="680.4" y2="277.41" stroke="#555555" stroke-width="0.6"/>
<line x1="477.6" y1="274.31" x2="479.4" y2="274.31" stroke="#555555" stroke-width="0.6"/>
<line x1="682.2" y1="274.31" x2="680.4" y2="274.31" stroke="#555555" stroke-width="0.6"/>
<line x1="477.6" y1="271.21" x2="479.4" y2="271.21" stroke="#555555" stroke-width="0.6"/>
<line x1="682.2" y1="271.21" x2="680.4" y2="271.21" stroke="#555555" stroke-width="0.6"/>
<line x1="477.6" y1="265.02" x2="479.4" y2="265.02" stroke="#555555" stroke-width="0.6"/>
<line x1="682.2" y1="265.02" x2="680.4" y2="265.02" stroke="#555555" stroke-width="0.6"/>
<line x1="477.6" y1="261.92" x2="479.4" y2="261.92" stroke="#555555" stroke-width="0.6"/>
<line x1="682.2" y1="261.92" x2="680.4" y2="261.92" stroke="#555555" stroke-width="0.6"/>
<line x1="477.6" y1="258.82" x2="479.4" y2="258.82" stroke="#555555" stroke-width="0.6"/>
<line x1="682.2" y1="258.82" x2="680.4" y2="258.82" stroke="#555555" stroke-width="0.6"/>
<line x1="477.6" y1="255.73" x2="479.4" y2="255.73" stroke="#555555" stroke-width="0.6"/>
<line x1="682.2" y1="255.73" x2="680.4" y2="255.73" stroke="#555555" stroke-width="0.6"/>
<line x1="477.6" y1="249.53" x2="479.4" y2="249.53" stroke="#555555" stroke-width="0.6"/>
<line x1="682.2" y1="249.53" x2="680.4" y2="249.53" stroke="#555555" stroke-width="0.6"/>
<line x1="477.6" y1="246.43" x2="479.4" y2="246.43" stroke="#555555" stroke-width="0.6"/>
<line x1="682.2" y1="246.43" x2="680.4" y2="246.43" stroke="#555555" stroke-width="0.6"/>
<line x1="477.6" y1="243.34" x2="479.4" y2="243.34" stroke="#555555" stroke-width="0.6"/>
<line x1="682.2" y1="243.34" x2="680.4" y2="243.34" stroke="#555555" stroke-width="0.6"/>
<line x1="477.6" y1="240.24" x2="479.4" y2="240.24" stroke="#555555" stroke-width="0.6"/>
<line x1="682.2" y1="240.24" x2="680.4" y2="240.24" stroke="#555555" stroke-width="0.6"/>
<line x1="477.6" y1="234.04" x2="479.4" y2="234.04" stroke="#555555" stroke-width="0.6"/>
<line x1="682.2" y1="234.04" x2="680.4" y2="234.04" stroke="#555555" stroke-width="0.6"/>
<line x1="477.6" y1="230.95" x2="479.4" y2="230.95" stroke="#555555" stroke-width="0.6"/>
<line x1="682.2" y1="230.95" x2="680.4" y2="230.95" stroke="#555555" stroke-width="0.6"/>
<line x1="477.6" y1="227.85" x2="479.4" y2="227.85" stroke="#555555" stroke-width="0.6"/>
<line x1="682.2" y1="227.85" x2="680.4" y2="227.85" stroke="#555555" stroke-width="0.6"/>
<line x1="477.6" y1="224.75" x2="479.4" y2="224.75" stroke="#555555" stroke-width="0.6"/>
<line x1="682.2" y1="224.75" x2="680.4" y2="224.75" stroke="#555555" stroke-width="0.6"/>
<line x1="477.6" y1="218.56" x2="479.4" y2="218.56" stroke="#555555" stroke-width="0.6"/>
<line x1="682.2" y1="218.56" x2="680.4" y2="218.56" stroke="#555555" stroke-width="0.6"/>
<line x1="477.6" y1="215.46" x2="479.4" y2="215.46" stroke="#555555" stroke-width="0.6"/>
<line x1="682.2" y1="215.46" x2="680.4" y2="215.46" stroke="#555555" stroke-width="0.6"/>
<line x1="477.6" y1="212.36" x2="479.4" y2="212.36" stroke="#555555" stroke-width="0.6"/>
<line x1="682.2" y1="212.36" x2="680.4" y2="212.36" stroke="#555555" stroke-width="0.6"/>
<line x1="477.6" y1="209.27" x2="479.4" y2="209.27" stroke="#555555" stroke-width="0.6"/>
<line x1="682.2" y1="209.27" x2="680.4" y2="209.27" stroke="#555555" stroke-width="0.6"/>
<line x1="477.6" y1="203.07" x2="479.4" y2="203.07" stroke="#555555" stroke-width="0.6"/>
<line x1="682.2" y1="203.07" x2="680.4" y2="203.07" stroke="#555555" stroke-width="0.6"/>
<line x1="477.6" y1="199.98" x2="479.4" y2="199.98" stroke="#555555" stroke-width="0.6"/>
<line x1="682.2" y1="199.98" x2="680.4" y2="199.98" stroke="#555555" stroke-width="0.6"/>
<line x1="477.6" y1="196.88" x2="479.4" y2="196.88" stroke="#555555" stroke-width="0.6"/>
<line x1="682.2" y1="196.88" x2="680.4" y2="196.88" stroke="#555555" stroke-width="0.6"/>
<line x1="477.6" y1="193.78" x2="479.4" y2="193.78" stroke="#555555" stroke-width="0.6"/>
<line x1="682.2" y1="193.78" x2="680.4" y2="193.78" stroke="#555555" stroke-width="0.6"/>
<line x1="477.6" y1="187.59" x2="479.4" y2="187.59" stroke="#555555" stroke-width="0.6"/>
<line x1="682.2" y1="187.59" x2="680.4" y2="187.59" stroke="#555555" stroke-width="0.6"/>
<line x1="477.6" y1="184.49" x2="479.4" y2="184.49" stroke="#555555" stroke-width="0.6"/>
<line x1="682.2" y1="184.49" x2="680.4" y2="184.49" stroke="#555555" stroke-width="0.6"/>
<line x1="477.6" y1="181.39" x2="479.4" y2="181.39" stroke="#555555" stroke-width="0.6"/>
<line x1="682.2" y1="181.39" x2="680.4" y2="181.39" stroke="#555555" stroke-width="0.6"/>
<line x1="477.6" y1="178.3" x2="479.4" y2="178.3" stroke="#555555" stroke-width="0.6"/>
<line x1="682.2" y1="178.3" x2="680.4" y2="178.3" stroke="#555555" stroke-width="0.6"/>
<rect x="477.6" y="172.7" width="204.6" height="113.5" fill="none" stroke="#555555" stroke-width="1.1"/>
<text x="475.2" y="285.84" font-size="6.4" text-anchor="end" fill="#1e1e1e" stroke="#1e1e1e" stroke-width="0.18">0</text>
<text x="475.2" y="270.35" font-size="6.4" text-anchor="end" fill="#1e1e1e" stroke="#1e1e1e" stroke-width="0.18">10</text>
<text x="475.2" y="254.87" font-size="6.4" text-anchor="end" fill="#1e1e1e" stroke="#1e1e1e" stroke-width="0.18">20</text>
<text x="475.2" y="239.38" font-size="6.4" text-anchor="end" fill="#1e1e1e" stroke="#1e1e1e" stroke-width="0.18">30</text>
<text x="475.2" y="223.9" font-size="6.4" text-anchor="end" fill="#1e1e1e" stroke="#1e1e1e" stroke-width="0.18">40</text>
<text x="475.2" y="208.41" font-size="6.4" text-anchor="end" fill="#1e1e1e" stroke="#1e1e1e" stroke-width="0.18">50</text>
<text x="475.2" y="192.92" font-size="6.4" text-anchor="end" fill="#1e1e1e" stroke="#1e1e1e" stroke-width="0.18">60</text>
<text x="475.2" y="177.44" font-size="6.4" text-anchor="end" fill="#1e1e1e" stroke="#1e1e1e" stroke-width="0.18">70</text>
<line x1="486.7" y1="292.7" x2="486.7" y2="330.6" stroke="#a4a4a4" stroke-width="0.9" stroke-opacity="0.42"/>
<line x1="510" y1="292.7" x2="510" y2="330.6" stroke="#a4a4a4" stroke-width="0.9" stroke-opacity="0.42"/>
<line x1="533.3" y1="292.7" x2="533.3" y2="330.6" stroke="#a4a4a4" stroke-width="0.9" stroke-opacity="0.42"/>
<line x1="556.6" y1="292.7" x2="556.6" y2="330.6" stroke="#a4a4a4" stroke-width="0.9" stroke-opacity="0.42"/>
<line x1="579.9" y1="292.7" x2="579.9" y2="330.6" stroke="#a4a4a4" stroke-width="0.9" stroke-opacity="0.42"/>
<line x1="603.2" y1="292.7" x2="603.2" y2="330.6" stroke="#a4a4a4" stroke-width="0.9" stroke-opacity="0.42"/>
<line x1="626.5" y1="292.7" x2="626.5" y2="330.6" stroke="#a4a4a4" stroke-width="0.9" stroke-opacity="0.42"/>
<line x1="649.8" y1="292.7" x2="649.8" y2="330.6" stroke="#a4a4a4" stroke-width="0.9" stroke-opacity="0.42"/>
<line x1="673.1" y1="292.7" x2="673.1" y2="330.6" stroke="#a4a4a4" stroke-width="0.9" stroke-opacity="0.42"/>
<polyline points="486.7,314.68 510,311.65 533.3,310.7 556.6,313.73 579.9,313.73 603.2,313.17 626.5,311.27 649.8,310.7 673.1,306.15" fill="none" stroke="#6e66c8" stroke-width="1.5" stroke-linejoin="round"/>
<circle cx="486.7" cy="314.68" r="1.9" fill="#6e66c8"/>
<circle cx="510" cy="311.65" r="1.9" fill="#6e66c8"/>
<circle cx="533.3" cy="310.7" r="1.9" fill="#6e66c8"/>
<circle cx="556.6" cy="313.73" r="1.9" fill="#6e66c8"/>
<circle cx="579.9" cy="313.73" r="1.9" fill="#6e66c8"/>
<circle cx="603.2" cy="313.17" r="1.9" fill="#6e66c8"/>
<circle cx="626.5" cy="311.27" r="1.9" fill="#6e66c8"/>
<circle cx="649.8" cy="310.7" r="1.9" fill="#6e66c8"/>
<circle cx="673.1" cy="306.15" r="1.9" fill="#6e66c8"/>
<line x1="477.6" y1="311.65" x2="682.2" y2="311.65" stroke="#e8474a" stroke-width="0.8" stroke-dasharray="1.0,0.8"/>
<line x1="486.7" y1="330.6" x2="486.7" y2="327.3" stroke="#555555" stroke-width="0.8"/>
<line x1="486.7" y1="292.7" x2="486.7" y2="296" stroke="#555555" stroke-width="0.8"/>
<line x1="510" y1="330.6" x2="510" y2="327.3" stroke="#555555" stroke-width="0.8"/>
<line x1="510" y1="292.7" x2="510" y2="296" stroke="#555555" stroke-width="0.8"/>
<line x1="533.3" y1="330.6" x2="533.3" y2="327.3" stroke="#555555" stroke-width="0.8"/>
<line x1="533.3" y1="292.7" x2="533.3" y2="296" stroke="#555555" stroke-width="0.8"/>
<line x1="556.6" y1="330.6" x2="556.6" y2="327.3" stroke="#555555" stroke-width="0.8"/>
<line x1="556.6" y1="292.7" x2="556.6" y2="296" stroke="#555555" stroke-width="0.8"/>
<line x1="579.9" y1="330.6" x2="579.9" y2="327.3" stroke="#555555" stroke-width="0.8"/>
<line x1="579.9" y1="292.7" x2="579.9" y2="296" stroke="#555555" stroke-width="0.8"/>
<line x1="603.2" y1="330.6" x2="603.2" y2="327.3" stroke="#555555" stroke-width="0.8"/>
<line x1="603.2" y1="292.7" x2="603.2" y2="296" stroke="#555555" stroke-width="0.8"/>
<line x1="626.5" y1="330.6" x2="626.5" y2="327.3" stroke="#555555" stroke-width="0.8"/>
<line x1="626.5" y1="292.7" x2="626.5" y2="296" stroke="#555555" stroke-width="0.8"/>
<line x1="649.8" y1="330.6" x2="649.8" y2="327.3" stroke="#555555" stroke-width="0.8"/>
<line x1="649.8" y1="292.7" x2="649.8" y2="296" stroke="#555555" stroke-width="0.8"/>
<line x1="673.1" y1="330.6" x2="673.1" y2="327.3" stroke="#555555" stroke-width="0.8"/>
<line x1="673.1" y1="292.7" x2="673.1" y2="296" stroke="#555555" stroke-width="0.8"/>
<line x1="477.38" y1="330.6" x2="477.38" y2="328.8" stroke="#555555" stroke-width="0.6"/>
<line x1="477.38" y1="292.7" x2="477.38" y2="294.5" stroke="#555555" stroke-width="0.6"/>
<line x1="482.04" y1="330.6" x2="482.04" y2="328.8" stroke="#555555" stroke-width="0.6"/>
<line x1="482.04" y1="292.7" x2="482.04" y2="294.5" stroke="#555555" stroke-width="0.6"/>
<line x1="491.36" y1="330.6" x2="491.36" y2="328.8" stroke="#555555" stroke-width="0.6"/>
<line x1="491.36" y1="292.7" x2="491.36" y2="294.5" stroke="#555555" stroke-width="0.6"/>
<line x1="496.02" y1="330.6" x2="496.02" y2="328.8" stroke="#555555" stroke-width="0.6"/>
<line x1="496.02" y1="292.7" x2="496.02" y2="294.5" stroke="#555555" stroke-width="0.6"/>
<line x1="500.68" y1="330.6" x2="500.68" y2="328.8" stroke="#555555" stroke-width="0.6"/>
<line x1="500.68" y1="292.7" x2="500.68" y2="294.5" stroke="#555555" stroke-width="0.6"/>
<line x1="505.34" y1="330.6" x2="505.34" y2="328.8" stroke="#555555" stroke-width="0.6"/>
<line x1="505.34" y1="292.7" x2="505.34" y2="294.5" stroke="#555555" stroke-width="0.6"/>
<line x1="514.66" y1="330.6" x2="514.66" y2="328.8" stroke="#555555" stroke-width="0.6"/>
<line x1="514.66" y1="292.7" x2="514.66" y2="294.5" stroke="#555555" stroke-width="0.6"/>
<line x1="519.32" y1="330.6" x2="519.32" y2="328.8" stroke="#555555" stroke-width="0.6"/>
<line x1="519.32" y1="292.7" x2="519.32" y2="294.5" stroke="#555555" stroke-width="0.6"/>
<line x1="523.98" y1="330.6" x2="523.98" y2="328.8" stroke="#555555" stroke-width="0.6"/>
<line x1="523.98" y1="292.7" x2="523.98" y2="294.5" stroke="#555555" stroke-width="0.6"/>
<line x1="528.64" y1="330.6" x2="528.64" y2="328.8" stroke="#555555" stroke-width="0.6"/>
<line x1="528.64" y1="292.7" x2="528.64" y2="294.5" stroke="#555555" stroke-width="0.6"/>
<line x1="537.96" y1="330.6" x2="537.96" y2="328.8" stroke="#555555" stroke-width="0.6"/>
<line x1="537.96" y1="292.7" x2="537.96" y2="294.5" stroke="#555555" stroke-width="0.6"/>
<line x1="542.62" y1="330.6" x2="542.62" y2="328.8" stroke="#555555" stroke-width="0.6"/>
<line x1="542.62" y1="292.7" x2="542.62" y2="294.5" stroke="#555555" stroke-width="0.6"/>
<line x1="547.28" y1="330.6" x2="547.28" y2="328.8" stroke="#555555" stroke-width="0.6"/>
<line x1="547.28" y1="292.7" x2="547.28" y2="294.5" stroke="#555555" stroke-width="0.6"/>
<line x1="551.94" y1="330.6" x2="551.94" y2="328.8" stroke="#555555" stroke-width="0.6"/>
<line x1="551.94" y1="292.7" x2="551.94" y2="294.5" stroke="#555555" stroke-width="0.6"/>
<line x1="561.26" y1="330.6" x2="561.26" y2="328.8" stroke="#555555" stroke-width="0.6"/>
<line x1="561.26" y1="292.7" x2="561.26" y2="294.5" stroke="#555555" stroke-width="0.6"/>
<line x1="565.92" y1="330.6" x2="565.92" y2="328.8" stroke="#555555" stroke-width="0.6"/>
<line x1="565.92" y1="292.7" x2="565.92" y2="294.5" stroke="#555555" stroke-width="0.6"/>
<line x1="570.58" y1="330.6" x2="570.58" y2="328.8" stroke="#555555" stroke-width="0.6"/>
<line x1="570.58" y1="292.7" x2="570.58" y2="294.5" stroke="#555555" stroke-width="0.6"/>
<line x1="575.24" y1="330.6" x2="575.24" y2="328.8" stroke="#555555" stroke-width="0.6"/>
<line x1="575.24" y1="292.7" x2="575.24" y2="294.5" stroke="#555555" stroke-width="0.6"/>
<line x1="584.56" y1="330.6" x2="584.56" y2="328.8" stroke="#555555" stroke-width="0.6"/>
<line x1="584.56" y1="292.7" x2="584.56" y2="294.5" stroke="#555555" stroke-width="0.6"/>
<line x1="589.22" y1="330.6" x2="589.22" y2="328.8" stroke="#555555" stroke-width="0.6"/>
<line x1="589.22" y1="292.7" x2="589.22" y2="294.5" stroke="#555555" stroke-width="0.6"/>
<line x1="593.88" y1="330.6" x2="593.88" y2="328.8" stroke="#555555" stroke-width="0.6"/>
<line x1="593.88" y1="292.7" x2="593.88" y2="294.5" stroke="#555555" stroke-width="0.6"/>
<line x1="598.54" y1="330.6" x2="598.54" y2="328.8" stroke="#555555" stroke-width="0.6"/>
<line x1="598.54" y1="292.7" x2="598.54" y2="294.5" stroke="#555555" stroke-width="0.6"/>
<line x1="607.86" y1="330.6" x2="607.86" y2="328.8" stroke="#555555" stroke-width="0.6"/>
<line x1="607.86" y1="292.7" x2="607.86" y2="294.5" stroke="#555555" stroke-width="0.6"/>
<line x1="612.52" y1="330.6" x2="612.52" y2="328.8" stroke="#555555" stroke-width="0.6"/>
<line x1="612.52" y1="292.7" x2="612.52" y2="294.5" stroke="#555555" stroke-width="0.6"/>
<line x1="617.18" y1="330.6" x2="617.18" y2="328.8" stroke="#555555" stroke-width="0.6"/>
<line x1="617.18" y1="292.7" x2="617.18" y2="294.5" stroke="#555555" stroke-width="0.6"/>
<line x1="621.84" y1="330.6" x2="621.84" y2="328.8" stroke="#555555" stroke-width="0.6"/>
<line x1="621.84" y1="292.7" x2="621.84" y2="294.5" stroke="#555555" stroke-width="0.6"/>
<line x1="631.16" y1="330.6" x2="631.16" y2="328.8" stroke="#555555" stroke-width="0.6"/>
<line x1="631.16" y1="292.7" x2="631.16" y2="294.5" stroke="#555555" stroke-width="0.6"/>
<line x1="635.82" y1="330.6" x2="635.82" y2="328.8" stroke="#555555" stroke-width="0.6"/>
<line x1="635.82" y1="292.7" x2="635.82" y2="294.5" stroke="#555555" stroke-width="0.6"/>
<line x1="640.48" y1="330.6" x2="640.48" y2="328.8" stroke="#555555" stroke-width="0.6"/>
<line x1="640.48" y1="292.7" x2="640.48" y2="294.5" stroke="#555555" stroke-width="0.6"/>
<line x1="645.14" y1="330.6" x2="645.14" y2="328.8" stroke="#555555" stroke-width="0.6"/>
<line x1="645.14" y1="292.7" x2="645.14" y2="294.5" stroke="#555555" stroke-width="0.6"/>
<line x1="654.46" y1="330.6" x2="654.46" y2="328.8" stroke="#555555" stroke-width="0.6"/>
<line x1="654.46" y1="292.7" x2="654.46" y2="294.5" stroke="#555555" stroke-width="0.6"/>
<line x1="659.12" y1="330.6" x2="659.12" y2="328.8" stroke="#555555" stroke-width="0.6"/>
<line x1="659.12" y1="292.7" x2="659.12" y2="294.5" stroke="#555555" stroke-width="0.6"/>
<line x1="663.78" y1="330.6" x2="663.78" y2="328.8" stroke="#555555" stroke-width="0.6"/>
<line x1="663.78" y1="292.7" x2="663.78" y2="294.5" stroke="#555555" stroke-width="0.6"/>
<line x1="668.44" y1="330.6" x2="668.44" y2="328.8" stroke="#555555" stroke-width="0.6"/>
<line x1="668.44" y1="292.7" x2="668.44" y2="294.5" stroke="#555555" stroke-width="0.6"/>
<line x1="677.76" y1="330.6" x2="677.76" y2="328.8" stroke="#555555" stroke-width="0.6"/>
<line x1="677.76" y1="292.7" x2="677.76" y2="294.5" stroke="#555555" stroke-width="0.6"/>
<line x1="682.42" y1="330.6" x2="682.42" y2="328.8" stroke="#555555" stroke-width="0.6"/>
<line x1="682.42" y1="292.7" x2="682.42" y2="294.5" stroke="#555555" stroke-width="0.6"/>
<line x1="477.6" y1="330.6" x2="480.9" y2="330.6" stroke="#555555" stroke-width="0.8"/>
<line x1="682.2" y1="330.6" x2="678.9" y2="330.6" stroke="#555555" stroke-width="0.8"/>
<line x1="477.6" y1="311.65" x2="480.9" y2="311.65" stroke="#555555" stroke-width="0.8"/>
<line x1="682.2" y1="311.65" x2="678.9" y2="311.65" stroke="#555555" stroke-width="0.8"/>
<line x1="477.6" y1="292.7" x2="480.9" y2="292.7" stroke="#555555" stroke-width="0.8"/>
<line x1="682.2" y1="292.7" x2="678.9" y2="292.7" stroke="#555555" stroke-width="0.8"/>
<line x1="477.6" y1="326.81" x2="479.4" y2="326.81" stroke="#555555" stroke-width="0.6"/>
<line x1="682.2" y1="326.81" x2="680.4" y2="326.81" stroke="#555555" stroke-width="0.6"/>
<line x1="477.6" y1="323.02" x2="479.4" y2="323.02" stroke="#555555" stroke-width="0.6"/>
<line x1="682.2" y1="323.02" x2="680.4" y2="323.02" stroke="#555555" stroke-width="0.6"/>
<line x1="477.6" y1="319.23" x2="479.4" y2="319.23" stroke="#555555" stroke-width="0.6"/>
<line x1="682.2" y1="319.23" x2="680.4" y2="319.23" stroke="#555555" stroke-width="0.6"/>
<line x1="477.6" y1="315.44" x2="479.4" y2="315.44" stroke="#555555" stroke-width="0.6"/>
<line x1="682.2" y1="315.44" x2="680.4" y2="315.44" stroke="#555555" stroke-width="0.6"/>
<line x1="477.6" y1="307.86" x2="479.4" y2="307.86" stroke="#555555" stroke-width="0.6"/>
<line x1="682.2" y1="307.86" x2="680.4" y2="307.86" stroke="#555555" stroke-width="0.6"/>
<line x1="477.6" y1="304.07" x2="479.4" y2="304.07" stroke="#555555" stroke-width="0.6"/>
<line x1="682.2" y1="304.07" x2="680.4" y2="304.07" stroke="#555555" stroke-width="0.6"/>
<line x1="477.6" y1="300.28" x2="479.4" y2="300.28" stroke="#555555" stroke-width="0.6"/>
<line x1="682.2" y1="300.28" x2="680.4" y2="300.28" stroke="#555555" stroke-width="0.6"/>
<line x1="477.6" y1="296.49" x2="479.4" y2="296.49" stroke="#555555" stroke-width="0.6"/>
<line x1="682.2" y1="296.49" x2="680.4" y2="296.49" stroke="#555555" stroke-width="0.6"/>
<rect x="477.6" y="292.7" width="204.6" height="37.9" fill="none" stroke="#555555" stroke-width="1.1"/>
<line x1="477.1" y1="292.7" x2="682.7" y2="292.7" stroke="#4a3c3c" stroke-width="1.1"/>
<text x="475.2" y="294.94" font-size="6.4" text-anchor="end" fill="#1e1e1e" stroke="#1e1e1e" stroke-width="0.18">10</text>
<text x="475.2" y="313.89" font-size="6.4" text-anchor="end" fill="#1e1e1e" stroke="#1e1e1e" stroke-width="0.18">0</text>
<text x="475.2" y="332.84" font-size="6.4" text-anchor="end" fill="#1e1e1e" stroke="#1e1e1e" stroke-width="0.18">−10</text>
<line x1="486.7" y1="337.4" x2="486.7" y2="375.3" stroke="#a4a4a4" stroke-width="0.9" stroke-opacity="0.42"/>
<line x1="510" y1="337.4" x2="510" y2="375.3" stroke="#a4a4a4" stroke-width="0.9" stroke-opacity="0.42"/>
<line x1="533.3" y1="337.4" x2="533.3" y2="375.3" stroke="#a4a4a4" stroke-width="0.9" stroke-opacity="0.42"/>
<line x1="556.6" y1="337.4" x2="556.6" y2="375.3" stroke="#a4a4a4" stroke-width="0.9" stroke-opacity="0.42"/>
<line x1="579.9" y1="337.4" x2="579.9" y2="375.3" stroke="#a4a4a4" stroke-width="0.9" stroke-opacity="0.42"/>
<line x1="603.2" y1="337.4" x2="603.2" y2="375.3" stroke="#a4a4a4" stroke-width="0.9" stroke-opacity="0.42"/>
<line x1="626.5" y1="337.4" x2="626.5" y2="375.3" stroke="#a4a4a4" stroke-width="0.9" stroke-opacity="0.42"/>
<line x1="649.8" y1="337.4" x2="649.8" y2="375.3" stroke="#a4a4a4" stroke-width="0.9" stroke-opacity="0.42"/>
<line x1="673.1" y1="337.4" x2="673.1" y2="375.3" stroke="#a4a4a4" stroke-width="0.9" stroke-opacity="0.42"/>
<polyline points="486.7,373.03 510,354.83 533.3,354.46 556.6,356.92 579.9,356.92 603.2,356.35 626.5,355.78 649.8,355.78 673.1,355.21" fill="none" stroke="#6e66c8" stroke-width="1.5" stroke-linejoin="round"/>
<circle cx="486.7" cy="373.03" r="1.9" fill="#6e66c8"/>
<circle cx="510" cy="354.83" r="1.9" fill="#6e66c8"/>
<circle cx="533.3" cy="354.46" r="1.9" fill="#6e66c8"/>
<circle cx="556.6" cy="356.92" r="1.9" fill="#6e66c8"/>
<circle cx="579.9" cy="356.92" r="1.9" fill="#6e66c8"/>
<circle cx="603.2" cy="356.35" r="1.9" fill="#6e66c8"/>
<circle cx="626.5" cy="355.78" r="1.9" fill="#6e66c8"/>
<circle cx="649.8" cy="355.78" r="1.9" fill="#6e66c8"/>
<circle cx="673.1" cy="355.21" r="1.9" fill="#6e66c8"/>
<line x1="477.6" y1="356.35" x2="682.2" y2="356.35" stroke="#e8474a" stroke-width="0.8" stroke-dasharray="1.0,0.8"/>
<line x1="486.7" y1="375.3" x2="486.7" y2="372" stroke="#555555" stroke-width="0.8"/>
<line x1="486.7" y1="337.4" x2="486.7" y2="340.7" stroke="#555555" stroke-width="0.8"/>
<line x1="510" y1="375.3" x2="510" y2="372" stroke="#555555" stroke-width="0.8"/>
<line x1="510" y1="337.4" x2="510" y2="340.7" stroke="#555555" stroke-width="0.8"/>
<line x1="533.3" y1="375.3" x2="533.3" y2="372" stroke="#555555" stroke-width="0.8"/>
<line x1="533.3" y1="337.4" x2="533.3" y2="340.7" stroke="#555555" stroke-width="0.8"/>
<line x1="556.6" y1="375.3" x2="556.6" y2="372" stroke="#555555" stroke-width="0.8"/>
<line x1="556.6" y1="337.4" x2="556.6" y2="340.7" stroke="#555555" stroke-width="0.8"/>
<line x1="579.9" y1="375.3" x2="579.9" y2="372" stroke="#555555" stroke-width="0.8"/>
<line x1="579.9" y1="337.4" x2="579.9" y2="340.7" stroke="#555555" stroke-width="0.8"/>
<line x1="603.2" y1="375.3" x2="603.2" y2="372" stroke="#555555" stroke-width="0.8"/>
<line x1="603.2" y1="337.4" x2="603.2" y2="340.7" stroke="#555555" stroke-width="0.8"/>
<line x1="626.5" y1="375.3" x2="626.5" y2="372" stroke="#555555" stroke-width="0.8"/>
<line x1="626.5" y1="337.4" x2="626.5" y2="340.7" stroke="#555555" stroke-width="0.8"/>
<line x1="649.8" y1="375.3" x2="649.8" y2="372" stroke="#555555" stroke-width="0.8"/>
<line x1="649.8" y1="337.4" x2="649.8" y2="340.7" stroke="#555555" stroke-width="0.8"/>
<line x1="673.1" y1="375.3" x2="673.1" y2="372" stroke="#555555" stroke-width="0.8"/>
<line x1="673.1" y1="337.4" x2="673.1" y2="340.7" stroke="#555555" stroke-width="0.8"/>
<line x1="477.38" y1="375.3" x2="477.38" y2="373.5" stroke="#555555" stroke-width="0.6"/>
<line x1="477.38" y1="337.4" x2="477.38" y2="339.2" stroke="#555555" stroke-width="0.6"/>
<line x1="482.04" y1="375.3" x2="482.04" y2="373.5" stroke="#555555" stroke-width="0.6"/>
<line x1="482.04" y1="337.4" x2="482.04" y2="339.2" stroke="#555555" stroke-width="0.6"/>
<line x1="491.36" y1="375.3" x2="491.36" y2="373.5" stroke="#555555" stroke-width="0.6"/>
<line x1="491.36" y1="337.4" x2="491.36" y2="339.2" stroke="#555555" stroke-width="0.6"/>
<line x1="496.02" y1="375.3" x2="496.02" y2="373.5" stroke="#555555" stroke-width="0.6"/>
<line x1="496.02" y1="337.4" x2="496.02" y2="339.2" stroke="#555555" stroke-width="0.6"/>
<line x1="500.68" y1="375.3" x2="500.68" y2="373.5" stroke="#555555" stroke-width="0.6"/>
<line x1="500.68" y1="337.4" x2="500.68" y2="339.2" stroke="#555555" stroke-width="0.6"/>
<line x1="505.34" y1="375.3" x2="505.34" y2="373.5" stroke="#555555" stroke-width="0.6"/>
<line x1="505.34" y1="337.4" x2="505.34" y2="339.2" stroke="#555555" stroke-width="0.6"/>
<line x1="514.66" y1="375.3" x2="514.66" y2="373.5" stroke="#555555" stroke-width="0.6"/>
<line x1="514.66" y1="337.4" x2="514.66" y2="339.2" stroke="#555555" stroke-width="0.6"/>
<line x1="519.32" y1="375.3" x2="519.32" y2="373.5" stroke="#555555" stroke-width="0.6"/>
<line x1="519.32" y1="337.4" x2="519.32" y2="339.2" stroke="#555555" stroke-width="0.6"/>
<line x1="523.98" y1="375.3" x2="523.98" y2="373.5" stroke="#555555" stroke-width="0.6"/>
<line x1="523.98" y1="337.4" x2="523.98" y2="339.2" stroke="#555555" stroke-width="0.6"/>
<line x1="528.64" y1="375.3" x2="528.64" y2="373.5" stroke="#555555" stroke-width="0.6"/>
<line x1="528.64" y1="337.4" x2="528.64" y2="339.2" stroke="#555555" stroke-width="0.6"/>
<line x1="537.96" y1="375.3" x2="537.96" y2="373.5" stroke="#555555" stroke-width="0.6"/>
<line x1="537.96" y1="337.4" x2="537.96" y2="339.2" stroke="#555555" stroke-width="0.6"/>
<line x1="542.62" y1="375.3" x2="542.62" y2="373.5" stroke="#555555" stroke-width="0.6"/>
<line x1="542.62" y1="337.4" x2="542.62" y2="339.2" stroke="#555555" stroke-width="0.6"/>
<line x1="547.28" y1="375.3" x2="547.28" y2="373.5" stroke="#555555" stroke-width="0.6"/>
<line x1="547.28" y1="337.4" x2="547.28" y2="339.2" stroke="#555555" stroke-width="0.6"/>
<line x1="551.94" y1="375.3" x2="551.94" y2="373.5" stroke="#555555" stroke-width="0.6"/>
<line x1="551.94" y1="337.4" x2="551.94" y2="339.2" stroke="#555555" stroke-width="0.6"/>
<line x1="561.26" y1="375.3" x2="561.26" y2="373.5" stroke="#555555" stroke-width="0.6"/>
<line x1="561.26" y1="337.4" x2="561.26" y2="339.2" stroke="#555555" stroke-width="0.6"/>
<line x1="565.92" y1="375.3" x2="565.92" y2="373.5" stroke="#555555" stroke-width="0.6"/>
<line x1="565.92" y1="337.4" x2="565.92" y2="339.2" stroke="#555555" stroke-width="0.6"/>
<line x1="570.58" y1="375.3" x2="570.58" y2="373.5" stroke="#555555" stroke-width="0.6"/>
<line x1="570.58" y1="337.4" x2="570.58" y2="339.2" stroke="#555555" stroke-width="0.6"/>
<line x1="575.24" y1="375.3" x2="575.24" y2="373.5" stroke="#555555" stroke-width="0.6"/>
<line x1="575.24" y1="337.4" x2="575.24" y2="339.2" stroke="#555555" stroke-width="0.6"/>
<line x1="584.56" y1="375.3" x2="584.56" y2="373.5" stroke="#555555" stroke-width="0.6"/>
<line x1="584.56" y1="337.4" x2="584.56" y2="339.2" stroke="#555555" stroke-width="0.6"/>
<line x1="589.22" y1="375.3" x2="589.22" y2="373.5" stroke="#555555" stroke-width="0.6"/>
<line x1="589.22" y1="337.4" x2="589.22" y2="339.2" stroke="#555555" stroke-width="0.6"/>
<line x1="593.88" y1="375.3" x2="593.88" y2="373.5" stroke="#555555" stroke-width="0.6"/>
<line x1="593.88" y1="337.4" x2="593.88" y2="339.2" stroke="#555555" stroke-width="0.6"/>
<line x1="598.54" y1="375.3" x2="598.54" y2="373.5" stroke="#555555" stroke-width="0.6"/>
<line x1="598.54" y1="337.4" x2="598.54" y2="339.2" stroke="#555555" stroke-width="0.6"/>
<line x1="607.86" y1="375.3" x2="607.86" y2="373.5" stroke="#555555" stroke-width="0.6"/>
<line x1="607.86" y1="337.4" x2="607.86" y2="339.2" stroke="#555555" stroke-width="0.6"/>
<line x1="612.52" y1="375.3" x2="612.52" y2="373.5" stroke="#555555" stroke-width="0.6"/>
<line x1="612.52" y1="337.4" x2="612.52" y2="339.2" stroke="#555555" stroke-width="0.6"/>
<line x1="617.18" y1="375.3" x2="617.18" y2="373.5" stroke="#555555" stroke-width="0.6"/>
<line x1="617.18" y1="337.4" x2="617.18" y2="339.2" stroke="#555555" stroke-width="0.6"/>
<line x1="621.84" y1="375.3" x2="621.84" y2="373.5" stroke="#555555" stroke-width="0.6"/>
<line x1="621.84" y1="337.4" x2="621.84" y2="339.2" stroke="#555555" stroke-width="0.6"/>
<line x1="631.16" y1="375.3" x2="631.16" y2="373.5" stroke="#555555" stroke-width="0.6"/>
<line x1="631.16" y1="337.4" x2="631.16" y2="339.2" stroke="#555555" stroke-width="0.6"/>
<line x1="635.82" y1="375.3" x2="635.82" y2="373.5" stroke="#555555" stroke-width="0.6"/>
<line x1="635.82" y1="337.4" x2="635.82" y2="339.2" stroke="#555555" stroke-width="0.6"/>
<line x1="640.48" y1="375.3" x2="640.48" y2="373.5" stroke="#555555" stroke-width="0.6"/>
<line x1="640.48" y1="337.4" x2="640.48" y2="339.2" stroke="#555555" stroke-width="0.6"/>
<line x1="645.14" y1="375.3" x2="645.14" y2="373.5" stroke="#555555" stroke-width="0.6"/>
<line x1="645.14" y1="337.4" x2="645.14" y2="339.2" stroke="#555555" stroke-width="0.6"/>
<line x1="654.46" y1="375.3" x2="654.46" y2="373.5" stroke="#555555" stroke-width="0.6"/>
<line x1="654.46" y1="337.4" x2="654.46" y2="339.2" stroke="#555555" stroke-width="0.6"/>
<line x1="659.12" y1="375.3" x2="659.12" y2="373.5" stroke="#555555" stroke-width="0.6"/>
<line x1="659.12" y1="337.4" x2="659.12" y2="339.2" stroke="#555555" stroke-width="0.6"/>
<line x1="663.78" y1="375.3" x2="663.78" y2="373.5" stroke="#555555" stroke-width="0.6"/>
<line x1="663.78" y1="337.4" x2="663.78" y2="339.2" stroke="#555555" stroke-width="0.6"/>
<line x1="668.44" y1="375.3" x2="668.44" y2="373.5" stroke="#555555" stroke-width="0.6"/>
<line x1="668.44" y1="337.4" x2="668.44" y2="339.2" stroke="#555555" stroke-width="0.6"/>
<line x1="677.76" y1="375.3" x2="677.76" y2="373.5" stroke="#555555" stroke-width="0.6"/>
<line x1="677.76" y1="337.4" x2="677.76" y2="339.2" stroke="#555555" stroke-width="0.6"/>
<line x1="682.42" y1="375.3" x2="682.42" y2="373.5" stroke="#555555" stroke-width="0.6"/>
<line x1="682.42" y1="337.4" x2="682.42" y2="339.2" stroke="#555555" stroke-width="0.6"/>
<line x1="477.6" y1="375.3" x2="480.9" y2="375.3" stroke="#555555" stroke-width="0.8"/>
<line x1="682.2" y1="375.3" x2="678.9" y2="375.3" stroke="#555555" stroke-width="0.8"/>
<line x1="477.6" y1="356.35" x2="480.9" y2="356.35" stroke="#555555" stroke-width="0.8"/>
<line x1="682.2" y1="356.35" x2="678.9" y2="356.35" stroke="#555555" stroke-width="0.8"/>
<line x1="477.6" y1="337.4" x2="480.9" y2="337.4" stroke="#555555" stroke-width="0.8"/>
<line x1="682.2" y1="337.4" x2="678.9" y2="337.4" stroke="#555555" stroke-width="0.8"/>
<line x1="477.6" y1="371.51" x2="479.4" y2="371.51" stroke="#555555" stroke-width="0.6"/>
<line x1="682.2" y1="371.51" x2="680.4" y2="371.51" stroke="#555555" stroke-width="0.6"/>
<line x1="477.6" y1="367.72" x2="479.4" y2="367.72" stroke="#555555" stroke-width="0.6"/>
<line x1="682.2" y1="367.72" x2="680.4" y2="367.72" stroke="#555555" stroke-width="0.6"/>
<line x1="477.6" y1="363.93" x2="479.4" y2="363.93" stroke="#555555" stroke-width="0.6"/>
<line x1="682.2" y1="363.93" x2="680.4" y2="363.93" stroke="#555555" stroke-width="0.6"/>
<line x1="477.6" y1="360.14" x2="479.4" y2="360.14" stroke="#555555" stroke-width="0.6"/>
<line x1="682.2" y1="360.14" x2="680.4" y2="360.14" stroke="#555555" stroke-width="0.6"/>
<line x1="477.6" y1="352.56" x2="479.4" y2="352.56" stroke="#555555" stroke-width="0.6"/>
<line x1="682.2" y1="352.56" x2="680.4" y2="352.56" stroke="#555555" stroke-width="0.6"/>
<line x1="477.6" y1="348.77" x2="479.4" y2="348.77" stroke="#555555" stroke-width="0.6"/>
<line x1="682.2" y1="348.77" x2="680.4" y2="348.77" stroke="#555555" stroke-width="0.6"/>
<line x1="477.6" y1="344.98" x2="479.4" y2="344.98" stroke="#555555" stroke-width="0.6"/>
<line x1="682.2" y1="344.98" x2="680.4" y2="344.98" stroke="#555555" stroke-width="0.6"/>
<line x1="477.6" y1="341.19" x2="479.4" y2="341.19" stroke="#555555" stroke-width="0.6"/>
<line x1="682.2" y1="341.19" x2="680.4" y2="341.19" stroke="#555555" stroke-width="0.6"/>
<rect x="477.6" y="337.4" width="204.6" height="37.9" fill="none" stroke="#555555" stroke-width="1.1"/>
<text x="475.2" y="339.64" font-size="6.4" text-anchor="end" fill="#1e1e1e" stroke="#1e1e1e" stroke-width="0.18">1</text>
<text x="475.2" y="358.59" font-size="6.4" text-anchor="end" fill="#1e1e1e" stroke="#1e1e1e" stroke-width="0.18">0</text>
<text x="475.2" y="377.54" font-size="6.4" text-anchor="end" fill="#1e1e1e" stroke="#1e1e1e" stroke-width="0.18">−1</text>
<text x="486.7" y="381.44" font-size="6.4" text-anchor="middle" fill="#1e1e1e" stroke="#1e1e1e" stroke-width="0.18">0</text>
<text x="510" y="381.44" font-size="6.4" text-anchor="middle" fill="#1e1e1e" stroke="#1e1e1e" stroke-width="0.18">1</text>
<text x="533.3" y="381.44" font-size="6.4" text-anchor="middle" fill="#1e1e1e" stroke="#1e1e1e" stroke-width="0.18">2</text>
<text x="556.6" y="381.44" font-size="6.4" text-anchor="middle" fill="#1e1e1e" stroke="#1e1e1e" stroke-width="0.18">3</text>
<text x="579.9" y="381.44" font-size="6.4" text-anchor="middle" fill="#1e1e1e" stroke="#1e1e1e" stroke-width="0.18">4</text>
<text x="603.2" y="381.44" font-size="6.4" text-anchor="middle" fill="#1e1e1e" stroke="#1e1e1e" stroke-width="0.18">5</text>
<text x="626.5" y="381.44" font-size="6.4" text-anchor="middle" fill="#1e1e1e" stroke="#1e1e1e" stroke-width="0.18">6</text>
<text x="649.8" y="381.44" font-size="6.4" text-anchor="middle" fill="#1e1e1e" stroke="#1e1e1e" stroke-width="0.18">7</text>
<text x="673.1" y="381.44" font-size="6.4" text-anchor="middle" fill="#1e1e1e" stroke="#1e1e1e" stroke-width="0.18">8</text>
<rect x="166.6" y="175.7" width="66.8" height="21.5" rx="1.5" fill="#ffffff" fill-opacity="0.8" stroke="#d6d6d6" stroke-width="0.8"/>
<line x1="168.2" y1="180.9" x2="183.5" y2="180.9" stroke="#6e66c8" stroke-width="1.5"/>
<circle cx="175.85" cy="180.9" r="1.9" fill="#6e66c8"/>
<line x1="168.8" y1="191.1" x2="183.5" y2="191.1" stroke="#111111" stroke-width="1.6" stroke-dasharray="1.6,1.9"/>
<text x="188.9" y="183.12" font-size="7.05" text-anchor="start" fill="#1e1e1e" stroke="#1e1e1e" stroke-width="0.18">Calo4pQVAE</text>
<text x="188.9" y="192.97" font-size="7.05" text-anchor="start" fill="#1e1e1e" stroke="#1e1e1e" stroke-width="0.18">Geant4</text>
<rect x="387.9" y="175.3" width="66.5" height="22.7" rx="1.5" fill="#ffffff" fill-opacity="0.8" stroke="#d6d6d6" stroke-width="0.8"/>
<line x1="389.1" y1="181.4" x2="404" y2="181.4" stroke="#6e66c8" stroke-width="1.5"/>
<circle cx="396.55" cy="181.4" r="1.9" fill="#6e66c8"/>
<line x1="389.7" y1="191.6" x2="404" y2="191.6" stroke="#111111" stroke-width="1.6" stroke-dasharray="1.6,1.9"/>
<text x="409.7" y="183.52" font-size="7.05" text-anchor="start" fill="#1e1e1e" stroke="#1e1e1e" stroke-width="0.18">Calo4pQVAE</text>
<text x="409.7" y="193.12" font-size="7.05" text-anchor="start" fill="#1e1e1e" stroke="#1e1e1e" stroke-width="0.18">Geant4</text>
<rect x="611.6" y="176.1" width="67.7" height="21.9" rx="1.5" fill="#ffffff" fill-opacity="0.8" stroke="#d6d6d6" stroke-width="0.8"/>
<line x1="613.2" y1="181.4" x2="628.5" y2="181.4" stroke="#6e66c8" stroke-width="1.5"/>
<circle cx="620.85" cy="181.4" r="1.9" fill="#6e66c8"/>
<line x1="613.8" y1="191.6" x2="628.5" y2="191.6" stroke="#111111" stroke-width="1.6" stroke-dasharray="1.6,1.9"/>
<text x="633.9" y="183.6" font-size="7.15" text-anchor="start" fill="#1e1e1e" stroke="#1e1e1e" stroke-width="0.18">Calo4pQVAE</text>
<text x="633.9" y="193.8" font-size="7.15" text-anchor="start" fill="#1e1e1e" stroke="#1e1e1e" stroke-width="0.18">Geant4</text>
<text x="37.29" y="186.8" font-size="15.8" font-family="'Liberation Serif', serif" fill="#1e1e1e" stroke="#1e1e1e" stroke-width="0.35">(</text>
<text x="44.38" y="186.8" font-size="15.8" font-family="'Liberation Serif', serif" fill="#1e1e1e" stroke="#1e1e1e" stroke-width="0.35" font-style="italic">d</text>
<text x="53.43" y="186.8" font-size="15.8" font-family="'Liberation Serif', serif" fill="#1e1e1e" stroke="#1e1e1e" stroke-width="0.35">)</text>
<text x="261.09" y="188.5" font-size="15.8" font-family="'Liberation Serif', serif" fill="#1e1e1e" stroke="#1e1e1e" stroke-width="0.35">(</text>
<text x="267.98" y="188.5" font-size="15.8" font-family="'Liberation Serif', serif" fill="#1e1e1e" stroke="#1e1e1e" stroke-width="0.35" font-style="italic">e</text>
<text x="275.73" y="188.5" font-size="15.8" font-family="'Liberation Serif', serif" fill="#1e1e1e" stroke="#1e1e1e" stroke-width="0.35">)</text>
<text x="499.59" y="189" font-size="15.8" font-family="'Liberation Serif', serif" fill="#1e1e1e" stroke="#1e1e1e" stroke-width="0.35">(</text>
<text x="505.71" y="189" font-size="15.8" font-family="'Liberation Serif', serif" fill="#1e1e1e" stroke="#1e1e1e" stroke-width="0.35" font-style="italic">f</text>
<text x="514.53" y="189" font-size="15.8" font-family="'Liberation Serif', serif" fill="#1e1e1e" stroke="#1e1e1e" stroke-width="0.35">)</text>
<text x="14.1" y="206.55" font-size="7.31" text-anchor="middle" fill="#1e1e1e" stroke="#1e1e1e" stroke-width="0.18" transform="rotate(-90 14.1 204.5)">Mean Energy (GeV)</text>
<text x="15.5" y="312.02" font-size="7.2" text-anchor="middle" fill="#1e1e1e" stroke="#1e1e1e" stroke-width="0.18" transform="rotate(-90 15.5 310)">Rel. Error (%)</text>
<text x="15.5" y="357.98" font-size="7.06" text-anchor="middle" fill="#1e1e1e" stroke="#1e1e1e" stroke-width="0.18" transform="rotate(-90 15.5 356)">Error (GeV)</text>
<text x="236.7" y="386.76" font-size="7.7" text-anchor="end" fill="#1e1e1e" stroke="#1e1e1e" stroke-width="0.18">Layer number</text>
<text x="457.8" y="387.8" font-size="7.6" text-anchor="end" fill="#1e1e1e" stroke="#1e1e1e" stroke-width="0.18"><tspan font-style="italic">θ</tspan>-bin</text>
<text x="682.2" y="388.9" font-size="7.5" text-anchor="end" fill="#1e1e1e" stroke="#1e1e1e" stroke-width="0.18">r-bin</text>
</svg>
</body></html>
